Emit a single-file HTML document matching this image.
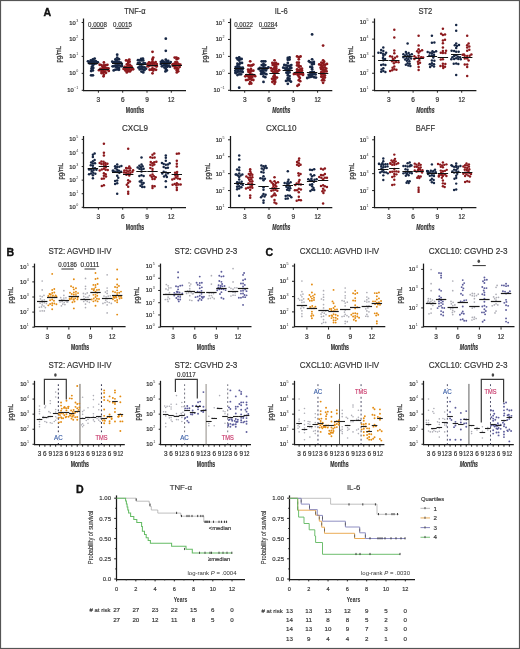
<!DOCTYPE html>
<html><head><meta charset="utf-8"><style>
html,body{margin:0;padding:0;background:#fff;width:520px;height:649px;overflow:hidden;}
body{position:relative;font-family:"Liberation Sans",sans-serif;}
svg{filter:blur(0.3px);}
</style></head><body>
<svg width="520" height="649" viewBox="0 0 520 649" style="position:absolute;left:0;top:0;font-family:'Liberation Sans',sans-serif">
<rect x="0" y="0" width="520" height="649" fill="#fff"/>
<text x="43.60" y="15.60" font-size="10.6" text-anchor="start" fill="#111" font-weight="bold" stroke="#111" stroke-width="0.35">A</text>
<text x="6.50" y="255.90" font-size="10.6" text-anchor="start" fill="#111" font-weight="bold" stroke="#111" stroke-width="0.35">B</text>
<text x="265.60" y="255.50" font-size="10.6" text-anchor="start" fill="#111" font-weight="bold" stroke="#111" stroke-width="0.35">C</text>
<text x="76.00" y="492.80" font-size="10.6" text-anchor="start" fill="#111" font-weight="bold" stroke="#111" stroke-width="0.35">D</text>
<line x1="83.50" y1="18.50" x2="83.50" y2="91.10" stroke="#1a1a1a" stroke-width="1.25" />
<line x1="82.90" y1="90.50" x2="186.00" y2="90.50" stroke="#1a1a1a" stroke-width="1.25" />
<line x1="81.70" y1="22.50" x2="84.00" y2="22.50" stroke="#222" stroke-width="1.0" />
<text x="75.80" y="24.50" font-size="5.8" text-anchor="end" fill="#333" stroke="#333" stroke-width="0.24">10</text>
<text x="76.20" y="21.50" font-size="3.6" text-anchor="start" fill="#333">3</text>
<line x1="81.70" y1="39.45" x2="84.00" y2="39.45" stroke="#222" stroke-width="1.0" />
<text x="75.80" y="41.45" font-size="5.8" text-anchor="end" fill="#333" stroke="#333" stroke-width="0.24">10</text>
<text x="76.20" y="38.45" font-size="3.6" text-anchor="start" fill="#333">2</text>
<line x1="81.70" y1="56.40" x2="84.00" y2="56.40" stroke="#222" stroke-width="1.0" />
<text x="75.80" y="58.40" font-size="5.8" text-anchor="end" fill="#333" stroke="#333" stroke-width="0.24">10</text>
<text x="76.20" y="55.40" font-size="3.6" text-anchor="start" fill="#333">1</text>
<line x1="81.70" y1="73.35" x2="84.00" y2="73.35" stroke="#222" stroke-width="1.0" />
<text x="75.80" y="75.35" font-size="5.8" text-anchor="end" fill="#333" stroke="#333" stroke-width="0.24">10</text>
<text x="76.20" y="72.35" font-size="3.6" text-anchor="start" fill="#333">0</text>
<line x1="81.70" y1="90.30" x2="84.00" y2="90.30" stroke="#222" stroke-width="1.0" />
<text x="73.70" y="92.30" font-size="5.8" text-anchor="end" fill="#333" stroke="#333" stroke-width="0.24">10</text>
<text x="74.10" y="89.30" font-size="3.6" text-anchor="start" fill="#333">−1</text>
<line x1="98.40" y1="90.30" x2="98.40" y2="92.70" stroke="#222" stroke-width="1.0" />
<text x="98.40" y="101.60" font-size="6.5" text-anchor="middle" fill="#333" stroke="#333" stroke-width="0.22">3</text>
<line x1="122.70" y1="90.30" x2="122.70" y2="92.70" stroke="#222" stroke-width="1.0" />
<text x="122.70" y="101.60" font-size="6.5" text-anchor="middle" fill="#333" stroke="#333" stroke-width="0.22">6</text>
<line x1="147.00" y1="90.30" x2="147.00" y2="92.70" stroke="#222" stroke-width="1.0" />
<text x="147.00" y="101.60" font-size="6.5" text-anchor="middle" fill="#333" stroke="#333" stroke-width="0.22">9</text>
<line x1="171.30" y1="90.30" x2="171.30" y2="92.70" stroke="#222" stroke-width="1.0" />
<text x="171.30" y="101.60" font-size="6.5" text-anchor="middle" fill="#333" textLength="6.4" lengthAdjust="spacingAndGlyphs" stroke="#333" stroke-width="0.22">12</text>
<text x="135.00" y="13.60" font-size="8.8" text-anchor="middle" fill="#333" textLength="21.4" lengthAdjust="spacingAndGlyphs" stroke="#333" stroke-width="0.18">TNF-α</text>
<text x="135.00" y="113.10" font-size="8.6" text-anchor="middle" fill="#333" font-weight="bold" textLength="18.3" lengthAdjust="spacingAndGlyphs" stroke="#333" stroke-width="0.2">Months</text>
<text x="0" y="0" font-size="7.9" text-anchor="middle" fill="#333" stroke="#333" stroke-width="0.25" textLength="16.6" lengthAdjust="spacingAndGlyphs" transform="translate(61.40,54.20) rotate(-90)">pg/mL</text>
<circle cx="92.90" cy="63.80" r="1.4" fill="#172745"/>
<circle cx="94.65" cy="63.78" r="1.4" fill="#172745"/>
<circle cx="91.15" cy="63.50" r="1.4" fill="#172745"/>
<circle cx="96.40" cy="63.29" r="1.4" fill="#172745"/>
<circle cx="89.40" cy="63.21" r="1.4" fill="#172745"/>
<circle cx="89.55" cy="63.04" r="1.4" fill="#172745"/>
<circle cx="92.38" cy="62.97" r="1.4" fill="#172745"/>
<circle cx="93.31" cy="62.92" r="1.4" fill="#172745"/>
<circle cx="89.42" cy="62.61" r="1.4" fill="#172745"/>
<circle cx="94.09" cy="62.54" r="1.4" fill="#172745"/>
<circle cx="89.31" cy="62.50" r="1.4" fill="#172745"/>
<circle cx="97.80" cy="62.30" r="1.4" fill="#172745"/>
<circle cx="90.45" cy="62.24" r="1.4" fill="#172745"/>
<circle cx="96.96" cy="62.24" r="1.4" fill="#172745"/>
<circle cx="92.90" cy="65.54" r="1.4" fill="#172745"/>
<circle cx="94.00" cy="61.50" r="1.4" fill="#172745"/>
<circle cx="88.00" cy="61.32" r="1.4" fill="#172745"/>
<circle cx="92.20" cy="61.24" r="1.4" fill="#172745"/>
<circle cx="95.70" cy="61.08" r="1.4" fill="#172745"/>
<circle cx="91.85" cy="66.98" r="1.4" fill="#172745"/>
<circle cx="90.80" cy="60.28" r="1.4" fill="#172745"/>
<circle cx="93.25" cy="67.95" r="1.4" fill="#172745"/>
<circle cx="92.90" cy="59.34" r="1.4" fill="#172745"/>
<circle cx="91.50" cy="68.79" r="1.4" fill="#172745"/>
<circle cx="94.65" cy="58.60" r="1.4" fill="#172745"/>
<circle cx="92.90" cy="70.39" r="1.4" fill="#172745"/>
<circle cx="91.15" cy="71.09" r="1.4" fill="#172745"/>
<circle cx="92.90" cy="75.30" r="1.4" fill="#172745"/>
<circle cx="91.15" cy="75.30" r="1.4" fill="#172745"/>
<circle cx="103.90" cy="68.99" r="1.4" fill="#8c191d"/>
<circle cx="102.15" cy="68.98" r="1.4" fill="#8c191d"/>
<circle cx="105.65" cy="69.54" r="1.4" fill="#8c191d"/>
<circle cx="100.40" cy="68.86" r="1.4" fill="#8c191d"/>
<circle cx="107.40" cy="69.72" r="1.4" fill="#8c191d"/>
<circle cx="108.45" cy="68.28" r="1.4" fill="#8c191d"/>
<circle cx="103.09" cy="68.23" r="1.4" fill="#8c191d"/>
<circle cx="99.00" cy="70.17" r="1.4" fill="#8c191d"/>
<circle cx="106.70" cy="68.04" r="1.4" fill="#8c191d"/>
<circle cx="103.20" cy="70.54" r="1.4" fill="#8c191d"/>
<circle cx="101.45" cy="70.88" r="1.4" fill="#8c191d"/>
<circle cx="108.80" cy="70.90" r="1.4" fill="#8c191d"/>
<circle cx="104.95" cy="67.48" r="1.4" fill="#8c191d"/>
<circle cx="104.60" cy="71.71" r="1.4" fill="#8c191d"/>
<circle cx="102.50" cy="66.57" r="1.4" fill="#8c191d"/>
<circle cx="103.20" cy="72.69" r="1.4" fill="#8c191d"/>
<circle cx="106.00" cy="72.73" r="1.4" fill="#8c191d"/>
<circle cx="103.90" cy="65.39" r="1.4" fill="#8c191d"/>
<circle cx="101.45" cy="73.10" r="1.4" fill="#8c191d"/>
<circle cx="105.65" cy="65.13" r="1.4" fill="#8c191d"/>
<circle cx="101.45" cy="65.10" r="1.4" fill="#8c191d"/>
<circle cx="107.40" cy="64.87" r="1.4" fill="#8c191d"/>
<circle cx="99.70" cy="64.75" r="1.4" fill="#8c191d"/>
<circle cx="103.90" cy="74.64" r="1.4" fill="#8c191d"/>
<circle cx="103.90" cy="62.50" r="1.4" fill="#8c191d"/>
<circle cx="103.55" cy="76.30" r="1.4" fill="#8c191d"/>
<line x1="87.70" y1="63.50" x2="98.10" y2="63.50" stroke="#111" stroke-width="1.0" />
<line x1="98.70" y1="69.50" x2="109.10" y2="69.50" stroke="#111" stroke-width="1.0" />
<circle cx="117.20" cy="63.03" r="1.4" fill="#172745"/>
<circle cx="115.45" cy="63.34" r="1.4" fill="#172745"/>
<circle cx="118.95" cy="63.49" r="1.4" fill="#172745"/>
<circle cx="113.70" cy="62.65" r="1.4" fill="#172745"/>
<circle cx="120.70" cy="62.56" r="1.4" fill="#172745"/>
<circle cx="117.18" cy="62.35" r="1.4" fill="#172745"/>
<circle cx="114.09" cy="62.34" r="1.4" fill="#172745"/>
<circle cx="121.75" cy="63.95" r="1.4" fill="#172745"/>
<circle cx="115.50" cy="61.90" r="1.4" fill="#172745"/>
<circle cx="118.95" cy="61.78" r="1.4" fill="#172745"/>
<circle cx="116.51" cy="61.74" r="1.4" fill="#172745"/>
<circle cx="112.30" cy="61.65" r="1.4" fill="#172745"/>
<circle cx="115.44" cy="61.64" r="1.4" fill="#172745"/>
<circle cx="117.20" cy="65.50" r="1.4" fill="#172745"/>
<circle cx="118.95" cy="65.54" r="1.4" fill="#172745"/>
<circle cx="115.45" cy="65.61" r="1.4" fill="#172745"/>
<circle cx="120.70" cy="66.01" r="1.4" fill="#172745"/>
<circle cx="113.70" cy="66.12" r="1.4" fill="#172745"/>
<circle cx="121.92" cy="66.21" r="1.4" fill="#172745"/>
<circle cx="112.66" cy="66.28" r="1.4" fill="#172745"/>
<circle cx="117.20" cy="59.63" r="1.4" fill="#172745"/>
<circle cx="115.60" cy="66.63" r="1.4" fill="#172745"/>
<circle cx="115.45" cy="59.32" r="1.4" fill="#172745"/>
<circle cx="118.95" cy="59.13" r="1.4" fill="#172745"/>
<circle cx="117.20" cy="67.26" r="1.4" fill="#172745"/>
<circle cx="118.95" cy="68.06" r="1.4" fill="#172745"/>
<circle cx="117.20" cy="57.60" r="1.4" fill="#172745"/>
<circle cx="117.20" cy="69.39" r="1.4" fill="#172745"/>
<circle cx="115.45" cy="69.68" r="1.4" fill="#172745"/>
<circle cx="118.95" cy="69.86" r="1.4" fill="#172745"/>
<circle cx="113.70" cy="70.40" r="1.4" fill="#172745"/>
<circle cx="117.20" cy="54.70" r="1.4" fill="#172745"/>
<circle cx="128.20" cy="67.68" r="1.4" fill="#8c191d"/>
<circle cx="129.95" cy="67.29" r="1.4" fill="#8c191d"/>
<circle cx="126.45" cy="67.16" r="1.4" fill="#8c191d"/>
<circle cx="124.70" cy="66.96" r="1.4" fill="#8c191d"/>
<circle cx="131.70" cy="68.20" r="1.4" fill="#8c191d"/>
<circle cx="125.40" cy="68.55" r="1.4" fill="#8c191d"/>
<circle cx="131.35" cy="66.34" r="1.4" fill="#8c191d"/>
<circle cx="123.65" cy="68.90" r="1.4" fill="#8c191d"/>
<circle cx="127.15" cy="69.13" r="1.4" fill="#8c191d"/>
<circle cx="129.25" cy="69.13" r="1.4" fill="#8c191d"/>
<circle cx="133.10" cy="69.26" r="1.4" fill="#8c191d"/>
<circle cx="126.96" cy="69.37" r="1.4" fill="#8c191d"/>
<circle cx="127.45" cy="69.46" r="1.4" fill="#8c191d"/>
<circle cx="128.20" cy="65.42" r="1.4" fill="#8c191d"/>
<circle cx="131.00" cy="70.00" r="1.4" fill="#8c191d"/>
<circle cx="129.95" cy="64.81" r="1.4" fill="#8c191d"/>
<circle cx="125.40" cy="70.50" r="1.4" fill="#8c191d"/>
<circle cx="126.80" cy="64.41" r="1.4" fill="#8c191d"/>
<circle cx="128.20" cy="71.22" r="1.4" fill="#8c191d"/>
<circle cx="129.95" cy="71.45" r="1.4" fill="#8c191d"/>
<circle cx="128.20" cy="62.89" r="1.4" fill="#8c191d"/>
<circle cx="126.80" cy="72.40" r="1.4" fill="#8c191d"/>
<circle cx="129.60" cy="61.71" r="1.4" fill="#8c191d"/>
<circle cx="127.85" cy="60.84" r="1.4" fill="#8c191d"/>
<circle cx="126.10" cy="60.46" r="1.4" fill="#8c191d"/>
<circle cx="129.25" cy="59.60" r="1.4" fill="#8c191d"/>
<line x1="112.00" y1="63.50" x2="122.40" y2="63.50" stroke="#111" stroke-width="1.0" />
<line x1="123.00" y1="67.50" x2="133.40" y2="67.50" stroke="#111" stroke-width="1.0" />
<circle cx="141.50" cy="64.20" r="1.4" fill="#172745"/>
<circle cx="143.25" cy="64.15" r="1.4" fill="#172745"/>
<circle cx="139.75" cy="64.07" r="1.4" fill="#172745"/>
<circle cx="145.00" cy="63.36" r="1.4" fill="#172745"/>
<circle cx="138.00" cy="63.26" r="1.4" fill="#172745"/>
<circle cx="139.06" cy="63.12" r="1.4" fill="#172745"/>
<circle cx="143.60" cy="63.04" r="1.4" fill="#172745"/>
<circle cx="139.62" cy="62.89" r="1.4" fill="#172745"/>
<circle cx="141.50" cy="66.40" r="1.4" fill="#172745"/>
<circle cx="139.75" cy="66.57" r="1.4" fill="#172745"/>
<circle cx="142.90" cy="67.42" r="1.4" fill="#172745"/>
<circle cx="144.65" cy="67.51" r="1.4" fill="#172745"/>
<circle cx="138.35" cy="67.53" r="1.4" fill="#172745"/>
<circle cx="141.15" cy="68.33" r="1.4" fill="#172745"/>
<circle cx="141.50" cy="60.46" r="1.4" fill="#172745"/>
<circle cx="143.25" cy="60.43" r="1.4" fill="#172745"/>
<circle cx="139.75" cy="60.37" r="1.4" fill="#172745"/>
<circle cx="146.05" cy="68.64" r="1.4" fill="#172745"/>
<circle cx="138.00" cy="60.20" r="1.4" fill="#172745"/>
<circle cx="142.55" cy="69.32" r="1.4" fill="#172745"/>
<circle cx="139.75" cy="69.44" r="1.4" fill="#172745"/>
<circle cx="144.30" cy="70.17" r="1.4" fill="#172745"/>
<circle cx="141.15" cy="58.78" r="1.4" fill="#172745"/>
<circle cx="142.90" cy="58.60" r="1.4" fill="#172745"/>
<circle cx="141.50" cy="71.62" r="1.4" fill="#172745"/>
<circle cx="143.25" cy="72.40" r="1.4" fill="#172745"/>
<circle cx="152.50" cy="65.44" r="1.4" fill="#8c191d"/>
<circle cx="154.25" cy="65.37" r="1.4" fill="#8c191d"/>
<circle cx="150.75" cy="65.30" r="1.4" fill="#8c191d"/>
<circle cx="156.00" cy="65.73" r="1.4" fill="#8c191d"/>
<circle cx="149.00" cy="65.26" r="1.4" fill="#8c191d"/>
<circle cx="156.78" cy="66.00" r="1.4" fill="#8c191d"/>
<circle cx="155.94" cy="66.08" r="1.4" fill="#8c191d"/>
<circle cx="147.60" cy="66.22" r="1.4" fill="#8c191d"/>
<circle cx="156.63" cy="66.26" r="1.4" fill="#8c191d"/>
<circle cx="148.48" cy="66.32" r="1.4" fill="#8c191d"/>
<circle cx="149.84" cy="64.67" r="1.4" fill="#8c191d"/>
<circle cx="156.70" cy="64.10" r="1.4" fill="#8c191d"/>
<circle cx="147.60" cy="64.02" r="1.4" fill="#8c191d"/>
<circle cx="152.50" cy="63.35" r="1.4" fill="#8c191d"/>
<circle cx="154.25" cy="63.19" r="1.4" fill="#8c191d"/>
<circle cx="150.75" cy="62.82" r="1.4" fill="#8c191d"/>
<circle cx="152.50" cy="68.30" r="1.4" fill="#8c191d"/>
<circle cx="149.00" cy="62.40" r="1.4" fill="#8c191d"/>
<circle cx="155.65" cy="62.07" r="1.4" fill="#8c191d"/>
<circle cx="154.25" cy="69.04" r="1.4" fill="#8c191d"/>
<circle cx="152.50" cy="61.40" r="1.4" fill="#8c191d"/>
<circle cx="151.45" cy="69.66" r="1.4" fill="#8c191d"/>
<circle cx="149.70" cy="69.77" r="1.4" fill="#8c191d"/>
<circle cx="156.00" cy="69.79" r="1.4" fill="#8c191d"/>
<circle cx="153.20" cy="70.48" r="1.4" fill="#8c191d"/>
<circle cx="152.50" cy="59.23" r="1.4" fill="#8c191d"/>
<circle cx="152.50" cy="73.30" r="1.4" fill="#8c191d"/>
<circle cx="153.20" cy="57.60" r="1.4" fill="#8c191d"/>
<circle cx="152.50" cy="51.80" r="1.4" fill="#8c191d"/>
<line x1="136.30" y1="64.50" x2="146.70" y2="64.50" stroke="#111" stroke-width="1.0" />
<line x1="147.30" y1="65.50" x2="157.70" y2="65.50" stroke="#111" stroke-width="1.0" />
<circle cx="165.80" cy="63.04" r="1.4" fill="#172745"/>
<circle cx="167.55" cy="63.02" r="1.4" fill="#172745"/>
<circle cx="164.05" cy="62.96" r="1.4" fill="#172745"/>
<circle cx="162.30" cy="62.94" r="1.4" fill="#172745"/>
<circle cx="169.30" cy="63.32" r="1.4" fill="#172745"/>
<circle cx="167.88" cy="62.61" r="1.4" fill="#172745"/>
<circle cx="166.05" cy="63.67" r="1.4" fill="#172745"/>
<circle cx="160.90" cy="63.88" r="1.4" fill="#172745"/>
<circle cx="170.70" cy="62.07" r="1.4" fill="#172745"/>
<circle cx="162.89" cy="62.05" r="1.4" fill="#172745"/>
<circle cx="160.90" cy="61.81" r="1.4" fill="#172745"/>
<circle cx="163.63" cy="61.59" r="1.4" fill="#172745"/>
<circle cx="166.50" cy="61.45" r="1.4" fill="#172745"/>
<circle cx="165.10" cy="65.08" r="1.4" fill="#172745"/>
<circle cx="168.25" cy="60.94" r="1.4" fill="#172745"/>
<circle cx="166.85" cy="65.28" r="1.4" fill="#172745"/>
<circle cx="163.35" cy="65.35" r="1.4" fill="#172745"/>
<circle cx="162.35" cy="60.67" r="1.4" fill="#172745"/>
<circle cx="168.60" cy="65.63" r="1.4" fill="#172745"/>
<circle cx="161.95" cy="66.37" r="1.4" fill="#172745"/>
<circle cx="165.80" cy="59.60" r="1.4" fill="#172745"/>
<circle cx="165.80" cy="66.61" r="1.4" fill="#172745"/>
<circle cx="170.00" cy="66.63" r="1.4" fill="#172745"/>
<circle cx="167.32" cy="66.73" r="1.4" fill="#172745"/>
<circle cx="164.40" cy="67.62" r="1.4" fill="#172745"/>
<circle cx="165.80" cy="68.98" r="1.4" fill="#172745"/>
<circle cx="166.85" cy="70.40" r="1.4" fill="#172745"/>
<circle cx="165.45" cy="71.40" r="1.4" fill="#172745"/>
<circle cx="165.80" cy="50.80" r="1.4" fill="#172745"/>
<circle cx="165.80" cy="38.70" r="1.4" fill="#172745"/>
<circle cx="176.80" cy="65.47" r="1.4" fill="#8c191d"/>
<circle cx="178.55" cy="65.43" r="1.4" fill="#8c191d"/>
<circle cx="175.05" cy="66.04" r="1.4" fill="#8c191d"/>
<circle cx="173.30" cy="66.07" r="1.4" fill="#8c191d"/>
<circle cx="180.30" cy="64.70" r="1.4" fill="#8c191d"/>
<circle cx="174.35" cy="64.51" r="1.4" fill="#8c191d"/>
<circle cx="172.60" cy="64.49" r="1.4" fill="#8c191d"/>
<circle cx="178.56" cy="64.11" r="1.4" fill="#8c191d"/>
<circle cx="179.60" cy="66.90" r="1.4" fill="#8c191d"/>
<circle cx="176.10" cy="63.91" r="1.4" fill="#8c191d"/>
<circle cx="174.02" cy="63.88" r="1.4" fill="#8c191d"/>
<circle cx="176.80" cy="67.90" r="1.4" fill="#8c191d"/>
<circle cx="175.05" cy="68.27" r="1.4" fill="#8c191d"/>
<circle cx="177.15" cy="62.49" r="1.4" fill="#8c191d"/>
<circle cx="178.20" cy="68.85" r="1.4" fill="#8c191d"/>
<circle cx="175.40" cy="62.05" r="1.4" fill="#8c191d"/>
<circle cx="176.80" cy="70.23" r="1.4" fill="#8c191d"/>
<circle cx="178.20" cy="71.34" r="1.4" fill="#8c191d"/>
<circle cx="176.80" cy="59.37" r="1.4" fill="#8c191d"/>
<circle cx="176.80" cy="72.40" r="1.4" fill="#8c191d"/>
<circle cx="178.20" cy="58.41" r="1.4" fill="#8c191d"/>
<circle cx="176.45" cy="57.67" r="1.4" fill="#8c191d"/>
<circle cx="174.70" cy="57.60" r="1.4" fill="#8c191d"/>
<line x1="160.60" y1="63.50" x2="171.00" y2="63.50" stroke="#111" stroke-width="1.0" />
<line x1="171.60" y1="65.50" x2="182.00" y2="65.50" stroke="#111" stroke-width="1.0" />
<text x="97.40" y="26.60" font-size="6.4" text-anchor="middle" fill="#333" textLength="18.8" lengthAdjust="spacingAndGlyphs"  stroke="#333" stroke-width="0.16">0.0008</text>
<line x1="90.40" y1="28.30" x2="104.40" y2="28.30" stroke="#333" stroke-width="1.0" />
<text x="122.40" y="26.60" font-size="6.4" text-anchor="middle" fill="#333" textLength="18.8" lengthAdjust="spacingAndGlyphs"  stroke="#333" stroke-width="0.16">0.0015</text>
<line x1="115.40" y1="28.30" x2="129.40" y2="28.30" stroke="#333" stroke-width="1.0" />
<line x1="230.50" y1="18.50" x2="230.50" y2="91.10" stroke="#1a1a1a" stroke-width="1.25" />
<line x1="229.90" y1="90.50" x2="332.30" y2="90.50" stroke="#1a1a1a" stroke-width="1.25" />
<line x1="228.00" y1="22.50" x2="230.30" y2="22.50" stroke="#222" stroke-width="1.0" />
<text x="222.10" y="24.50" font-size="5.8" text-anchor="end" fill="#333" stroke="#333" stroke-width="0.24">10</text>
<text x="222.50" y="21.50" font-size="3.6" text-anchor="start" fill="#333">3</text>
<line x1="228.00" y1="39.45" x2="230.30" y2="39.45" stroke="#222" stroke-width="1.0" />
<text x="222.10" y="41.45" font-size="5.8" text-anchor="end" fill="#333" stroke="#333" stroke-width="0.24">10</text>
<text x="222.50" y="38.45" font-size="3.6" text-anchor="start" fill="#333">2</text>
<line x1="228.00" y1="56.40" x2="230.30" y2="56.40" stroke="#222" stroke-width="1.0" />
<text x="222.10" y="58.40" font-size="5.8" text-anchor="end" fill="#333" stroke="#333" stroke-width="0.24">10</text>
<text x="222.50" y="55.40" font-size="3.6" text-anchor="start" fill="#333">1</text>
<line x1="228.00" y1="73.35" x2="230.30" y2="73.35" stroke="#222" stroke-width="1.0" />
<text x="222.10" y="75.35" font-size="5.8" text-anchor="end" fill="#333" stroke="#333" stroke-width="0.24">10</text>
<text x="222.50" y="72.35" font-size="3.6" text-anchor="start" fill="#333">0</text>
<line x1="228.00" y1="90.30" x2="230.30" y2="90.30" stroke="#222" stroke-width="1.0" />
<text x="220.00" y="92.30" font-size="5.8" text-anchor="end" fill="#333" stroke="#333" stroke-width="0.24">10</text>
<text x="220.40" y="89.30" font-size="3.6" text-anchor="start" fill="#333">−1</text>
<line x1="244.70" y1="90.30" x2="244.70" y2="92.70" stroke="#222" stroke-width="1.0" />
<text x="244.70" y="101.60" font-size="6.5" text-anchor="middle" fill="#333" stroke="#333" stroke-width="0.22">3</text>
<line x1="269.00" y1="90.30" x2="269.00" y2="92.70" stroke="#222" stroke-width="1.0" />
<text x="269.00" y="101.60" font-size="6.5" text-anchor="middle" fill="#333" stroke="#333" stroke-width="0.22">6</text>
<line x1="293.30" y1="90.30" x2="293.30" y2="92.70" stroke="#222" stroke-width="1.0" />
<text x="293.30" y="101.60" font-size="6.5" text-anchor="middle" fill="#333" stroke="#333" stroke-width="0.22">9</text>
<line x1="317.60" y1="90.30" x2="317.60" y2="92.70" stroke="#222" stroke-width="1.0" />
<text x="317.60" y="101.60" font-size="6.5" text-anchor="middle" fill="#333" textLength="6.4" lengthAdjust="spacingAndGlyphs" stroke="#333" stroke-width="0.22">12</text>
<text x="281.30" y="13.60" font-size="8.8" text-anchor="middle" fill="#333" textLength="13.1" lengthAdjust="spacingAndGlyphs" stroke="#333" stroke-width="0.18">IL-6</text>
<text x="281.30" y="113.10" font-size="8.6" text-anchor="middle" fill="#333" font-weight="bold" textLength="18.3" lengthAdjust="spacingAndGlyphs" stroke="#333" stroke-width="0.2" style="font-style:italic;">Months</text>
<text x="0" y="0" font-size="7.9" text-anchor="middle" fill="#333" stroke="#333" stroke-width="0.25" textLength="16.6" lengthAdjust="spacingAndGlyphs" transform="translate(207.40,54.20) rotate(-90)">pg/mL</text>
<circle cx="239.20" cy="68.57" r="1.4" fill="#172745"/>
<circle cx="237.45" cy="67.96" r="1.4" fill="#172745"/>
<circle cx="240.95" cy="67.93" r="1.4" fill="#172745"/>
<circle cx="236.40" cy="69.28" r="1.4" fill="#172745"/>
<circle cx="242.70" cy="67.61" r="1.4" fill="#172745"/>
<circle cx="240.60" cy="69.58" r="1.4" fill="#172745"/>
<circle cx="242.35" cy="69.61" r="1.4" fill="#172745"/>
<circle cx="235.70" cy="67.11" r="1.4" fill="#172745"/>
<circle cx="238.15" cy="70.08" r="1.4" fill="#172745"/>
<circle cx="239.20" cy="66.74" r="1.4" fill="#172745"/>
<circle cx="235.35" cy="70.72" r="1.4" fill="#172745"/>
<circle cx="237.45" cy="65.97" r="1.4" fill="#172745"/>
<circle cx="239.20" cy="71.53" r="1.4" fill="#172745"/>
<circle cx="240.95" cy="71.56" r="1.4" fill="#172745"/>
<circle cx="237.45" cy="72.00" r="1.4" fill="#172745"/>
<circle cx="242.70" cy="72.12" r="1.4" fill="#172745"/>
<circle cx="239.20" cy="64.34" r="1.4" fill="#172745"/>
<circle cx="235.70" cy="72.69" r="1.4" fill="#172745"/>
<circle cx="235.63" cy="73.01" r="1.4" fill="#172745"/>
<circle cx="237.45" cy="63.76" r="1.4" fill="#172745"/>
<circle cx="240.25" cy="62.96" r="1.4" fill="#172745"/>
<circle cx="242.00" cy="62.94" r="1.4" fill="#172745"/>
<circle cx="239.20" cy="74.31" r="1.4" fill="#172745"/>
<circle cx="240.95" cy="74.33" r="1.4" fill="#172745"/>
<circle cx="237.45" cy="75.00" r="1.4" fill="#172745"/>
<circle cx="239.20" cy="60.56" r="1.4" fill="#172745"/>
<circle cx="237.80" cy="59.43" r="1.4" fill="#172745"/>
<circle cx="239.90" cy="59.02" r="1.4" fill="#172745"/>
<circle cx="241.65" cy="58.99" r="1.4" fill="#172745"/>
<circle cx="236.75" cy="58.11" r="1.4" fill="#172745"/>
<circle cx="239.20" cy="57.40" r="1.4" fill="#172745"/>
<circle cx="239.20" cy="87.70" r="1.4" fill="#172745"/>
<circle cx="250.20" cy="74.23" r="1.4" fill="#8c191d"/>
<circle cx="251.95" cy="74.69" r="1.4" fill="#8c191d"/>
<circle cx="248.45" cy="75.04" r="1.4" fill="#8c191d"/>
<circle cx="246.70" cy="75.06" r="1.4" fill="#8c191d"/>
<circle cx="253.70" cy="75.18" r="1.4" fill="#8c191d"/>
<circle cx="249.96" cy="75.74" r="1.4" fill="#8c191d"/>
<circle cx="247.57" cy="75.89" r="1.4" fill="#8c191d"/>
<circle cx="250.20" cy="72.08" r="1.4" fill="#8c191d"/>
<circle cx="250.79" cy="75.93" r="1.4" fill="#8c191d"/>
<circle cx="255.10" cy="76.16" r="1.4" fill="#8c191d"/>
<circle cx="248.45" cy="71.74" r="1.4" fill="#8c191d"/>
<circle cx="245.30" cy="76.29" r="1.4" fill="#8c191d"/>
<circle cx="251.60" cy="71.02" r="1.4" fill="#8c191d"/>
<circle cx="252.30" cy="76.98" r="1.4" fill="#8c191d"/>
<circle cx="249.15" cy="77.26" r="1.4" fill="#8c191d"/>
<circle cx="253.35" cy="70.70" r="1.4" fill="#8c191d"/>
<circle cx="249.85" cy="70.34" r="1.4" fill="#8c191d"/>
<circle cx="250.90" cy="78.15" r="1.4" fill="#8c191d"/>
<circle cx="248.10" cy="69.66" r="1.4" fill="#8c191d"/>
<circle cx="250.90" cy="68.92" r="1.4" fill="#8c191d"/>
<circle cx="249.50" cy="79.20" r="1.4" fill="#8c191d"/>
<circle cx="251.60" cy="79.78" r="1.4" fill="#8c191d"/>
<circle cx="247.75" cy="79.80" r="1.4" fill="#8c191d"/>
<circle cx="253.35" cy="80.02" r="1.4" fill="#8c191d"/>
<circle cx="246.00" cy="80.05" r="1.4" fill="#8c191d"/>
<circle cx="250.20" cy="82.04" r="1.4" fill="#8c191d"/>
<circle cx="250.20" cy="65.57" r="1.4" fill="#8c191d"/>
<circle cx="251.95" cy="65.52" r="1.4" fill="#8c191d"/>
<circle cx="248.45" cy="65.39" r="1.4" fill="#8c191d"/>
<circle cx="253.35" cy="64.58" r="1.4" fill="#8c191d"/>
<circle cx="251.25" cy="83.50" r="1.4" fill="#8c191d"/>
<circle cx="249.50" cy="83.80" r="1.4" fill="#8c191d"/>
<circle cx="250.20" cy="61.30" r="1.4" fill="#8c191d"/>
<line x1="234.00" y1="68.50" x2="244.40" y2="68.50" stroke="#111" stroke-width="1.0" />
<line x1="245.00" y1="74.50" x2="255.40" y2="74.50" stroke="#111" stroke-width="1.0" />
<circle cx="263.50" cy="67.99" r="1.4" fill="#172745"/>
<circle cx="265.25" cy="68.25" r="1.4" fill="#172745"/>
<circle cx="261.75" cy="68.34" r="1.4" fill="#172745"/>
<circle cx="260.00" cy="67.81" r="1.4" fill="#172745"/>
<circle cx="267.00" cy="68.42" r="1.4" fill="#172745"/>
<circle cx="268.40" cy="67.28" r="1.4" fill="#172745"/>
<circle cx="258.60" cy="68.93" r="1.4" fill="#172745"/>
<circle cx="259.33" cy="69.04" r="1.4" fill="#172745"/>
<circle cx="264.20" cy="69.56" r="1.4" fill="#172745"/>
<circle cx="262.45" cy="70.24" r="1.4" fill="#172745"/>
<circle cx="263.50" cy="65.89" r="1.4" fill="#172745"/>
<circle cx="265.95" cy="70.39" r="1.4" fill="#172745"/>
<circle cx="260.70" cy="70.90" r="1.4" fill="#172745"/>
<circle cx="261.75" cy="65.11" r="1.4" fill="#172745"/>
<circle cx="265.25" cy="65.11" r="1.4" fill="#172745"/>
<circle cx="263.50" cy="71.91" r="1.4" fill="#172745"/>
<circle cx="261.75" cy="72.26" r="1.4" fill="#172745"/>
<circle cx="263.50" cy="63.79" r="1.4" fill="#172745"/>
<circle cx="264.55" cy="73.39" r="1.4" fill="#172745"/>
<circle cx="262.80" cy="73.64" r="1.4" fill="#172745"/>
<circle cx="261.05" cy="73.89" r="1.4" fill="#172745"/>
<circle cx="266.30" cy="74.16" r="1.4" fill="#172745"/>
<circle cx="263.50" cy="61.35" r="1.4" fill="#172745"/>
<circle cx="265.25" cy="61.32" r="1.4" fill="#172745"/>
<circle cx="261.75" cy="61.30" r="1.4" fill="#172745"/>
<circle cx="263.50" cy="76.41" r="1.4" fill="#172745"/>
<circle cx="265.25" cy="77.14" r="1.4" fill="#172745"/>
<circle cx="263.50" cy="81.90" r="1.4" fill="#172745"/>
<circle cx="274.50" cy="73.05" r="1.4" fill="#8c191d"/>
<circle cx="276.25" cy="72.56" r="1.4" fill="#8c191d"/>
<circle cx="273.10" cy="71.82" r="1.4" fill="#8c191d"/>
<circle cx="277.65" cy="71.48" r="1.4" fill="#8c191d"/>
<circle cx="274.85" cy="71.34" r="1.4" fill="#8c191d"/>
<circle cx="271.70" cy="70.84" r="1.4" fill="#8c191d"/>
<circle cx="274.50" cy="75.22" r="1.4" fill="#8c191d"/>
<circle cx="276.25" cy="70.39" r="1.4" fill="#8c191d"/>
<circle cx="279.05" cy="70.24" r="1.4" fill="#8c191d"/>
<circle cx="274.50" cy="69.40" r="1.4" fill="#8c191d"/>
<circle cx="273.45" cy="76.64" r="1.4" fill="#8c191d"/>
<circle cx="272.75" cy="69.08" r="1.4" fill="#8c191d"/>
<circle cx="275.20" cy="77.25" r="1.4" fill="#8c191d"/>
<circle cx="276.25" cy="68.58" r="1.4" fill="#8c191d"/>
<circle cx="276.95" cy="77.57" r="1.4" fill="#8c191d"/>
<circle cx="271.00" cy="68.20" r="1.4" fill="#8c191d"/>
<circle cx="273.80" cy="78.51" r="1.4" fill="#8c191d"/>
<circle cx="274.50" cy="67.16" r="1.4" fill="#8c191d"/>
<circle cx="272.05" cy="78.85" r="1.4" fill="#8c191d"/>
<circle cx="276.25" cy="66.63" r="1.4" fill="#8c191d"/>
<circle cx="275.20" cy="79.51" r="1.4" fill="#8c191d"/>
<circle cx="273.80" cy="80.73" r="1.4" fill="#8c191d"/>
<circle cx="274.50" cy="65.01" r="1.4" fill="#8c191d"/>
<circle cx="272.75" cy="64.90" r="1.4" fill="#8c191d"/>
<circle cx="276.25" cy="64.52" r="1.4" fill="#8c191d"/>
<circle cx="275.20" cy="81.95" r="1.4" fill="#8c191d"/>
<circle cx="278.00" cy="64.03" r="1.4" fill="#8c191d"/>
<circle cx="272.40" cy="81.99" r="1.4" fill="#8c191d"/>
<circle cx="274.15" cy="63.34" r="1.4" fill="#8c191d"/>
<circle cx="272.40" cy="62.90" r="1.4" fill="#8c191d"/>
<circle cx="275.90" cy="62.85" r="1.4" fill="#8c191d"/>
<circle cx="274.50" cy="83.80" r="1.4" fill="#8c191d"/>
<circle cx="274.50" cy="60.30" r="1.4" fill="#8c191d"/>
<line x1="258.30" y1="68.50" x2="268.70" y2="68.50" stroke="#111" stroke-width="1.0" />
<line x1="269.30" y1="73.50" x2="279.70" y2="73.50" stroke="#111" stroke-width="1.0" />
<circle cx="287.80" cy="69.77" r="1.4" fill="#172745"/>
<circle cx="286.05" cy="69.76" r="1.4" fill="#172745"/>
<circle cx="289.55" cy="68.88" r="1.4" fill="#172745"/>
<circle cx="287.80" cy="71.67" r="1.4" fill="#172745"/>
<circle cx="285.00" cy="68.45" r="1.4" fill="#172745"/>
<circle cx="287.10" cy="68.19" r="1.4" fill="#172745"/>
<circle cx="291.30" cy="67.99" r="1.4" fill="#172745"/>
<circle cx="289.55" cy="72.46" r="1.4" fill="#172745"/>
<circle cx="283.25" cy="67.71" r="1.4" fill="#172745"/>
<circle cx="286.40" cy="72.71" r="1.4" fill="#172745"/>
<circle cx="290.18" cy="67.47" r="1.4" fill="#172745"/>
<circle cx="287.80" cy="73.68" r="1.4" fill="#172745"/>
<circle cx="287.80" cy="65.82" r="1.4" fill="#172745"/>
<circle cx="289.55" cy="65.79" r="1.4" fill="#172745"/>
<circle cx="286.05" cy="65.51" r="1.4" fill="#172745"/>
<circle cx="291.30" cy="65.11" r="1.4" fill="#172745"/>
<circle cx="284.30" cy="65.00" r="1.4" fill="#172745"/>
<circle cx="287.80" cy="75.45" r="1.4" fill="#172745"/>
<circle cx="289.55" cy="76.12" r="1.4" fill="#172745"/>
<circle cx="287.80" cy="63.00" r="1.4" fill="#172745"/>
<circle cx="287.80" cy="78.24" r="1.4" fill="#172745"/>
<circle cx="289.55" cy="78.63" r="1.4" fill="#172745"/>
<circle cx="287.80" cy="80.24" r="1.4" fill="#172745"/>
<circle cx="287.80" cy="59.74" r="1.4" fill="#172745"/>
<circle cx="289.55" cy="80.54" r="1.4" fill="#172745"/>
<circle cx="289.55" cy="59.51" r="1.4" fill="#172745"/>
<circle cx="286.05" cy="80.94" r="1.4" fill="#172745"/>
<circle cx="290.95" cy="81.72" r="1.4" fill="#172745"/>
<circle cx="287.80" cy="58.01" r="1.4" fill="#172745"/>
<circle cx="289.55" cy="57.40" r="1.4" fill="#172745"/>
<circle cx="287.80" cy="83.80" r="1.4" fill="#172745"/>
<circle cx="298.80" cy="72.02" r="1.4" fill="#8c191d"/>
<circle cx="300.55" cy="71.67" r="1.4" fill="#8c191d"/>
<circle cx="297.05" cy="71.59" r="1.4" fill="#8c191d"/>
<circle cx="301.95" cy="72.61" r="1.4" fill="#8c191d"/>
<circle cx="297.40" cy="73.25" r="1.4" fill="#8c191d"/>
<circle cx="301.95" cy="70.59" r="1.4" fill="#8c191d"/>
<circle cx="298.80" cy="70.33" r="1.4" fill="#8c191d"/>
<circle cx="299.15" cy="73.73" r="1.4" fill="#8c191d"/>
<circle cx="295.65" cy="73.84" r="1.4" fill="#8c191d"/>
<circle cx="300.90" cy="74.01" r="1.4" fill="#8c191d"/>
<circle cx="303.00" cy="74.04" r="1.4" fill="#8c191d"/>
<circle cx="293.90" cy="74.04" r="1.4" fill="#8c191d"/>
<circle cx="297.05" cy="69.41" r="1.4" fill="#8c191d"/>
<circle cx="300.20" cy="69.36" r="1.4" fill="#8c191d"/>
<circle cx="297.75" cy="74.89" r="1.4" fill="#8c191d"/>
<circle cx="302.97" cy="74.92" r="1.4" fill="#8c191d"/>
<circle cx="301.95" cy="68.66" r="1.4" fill="#8c191d"/>
<circle cx="298.80" cy="76.49" r="1.4" fill="#8c191d"/>
<circle cx="298.80" cy="67.11" r="1.4" fill="#8c191d"/>
<circle cx="300.55" cy="66.34" r="1.4" fill="#8c191d"/>
<circle cx="299.85" cy="77.98" r="1.4" fill="#8c191d"/>
<circle cx="298.80" cy="65.41" r="1.4" fill="#8c191d"/>
<circle cx="297.05" cy="65.40" r="1.4" fill="#8c191d"/>
<circle cx="298.80" cy="80.15" r="1.4" fill="#8c191d"/>
<circle cx="300.20" cy="81.13" r="1.4" fill="#8c191d"/>
<circle cx="298.80" cy="62.72" r="1.4" fill="#8c191d"/>
<circle cx="297.05" cy="62.70" r="1.4" fill="#8c191d"/>
<circle cx="298.80" cy="59.34" r="1.4" fill="#8c191d"/>
<circle cx="298.80" cy="84.77" r="1.4" fill="#8c191d"/>
<circle cx="297.40" cy="85.80" r="1.4" fill="#8c191d"/>
<circle cx="298.80" cy="57.23" r="1.4" fill="#8c191d"/>
<circle cx="300.55" cy="56.51" r="1.4" fill="#8c191d"/>
<circle cx="297.05" cy="56.40" r="1.4" fill="#8c191d"/>
<line x1="282.60" y1="70.50" x2="293.00" y2="70.50" stroke="#111" stroke-width="1.0" />
<line x1="293.60" y1="72.50" x2="304.00" y2="72.50" stroke="#111" stroke-width="1.0" />
<circle cx="312.10" cy="72.01" r="1.4" fill="#172745"/>
<circle cx="313.85" cy="72.09" r="1.4" fill="#172745"/>
<circle cx="310.35" cy="72.42" r="1.4" fill="#172745"/>
<circle cx="312.10" cy="73.90" r="1.4" fill="#172745"/>
<circle cx="313.85" cy="73.98" r="1.4" fill="#172745"/>
<circle cx="310.35" cy="74.35" r="1.4" fill="#172745"/>
<circle cx="315.60" cy="74.47" r="1.4" fill="#172745"/>
<circle cx="312.10" cy="69.24" r="1.4" fill="#172745"/>
<circle cx="308.60" cy="74.87" r="1.4" fill="#172745"/>
<circle cx="311.21" cy="75.08" r="1.4" fill="#172745"/>
<circle cx="310.14" cy="75.14" r="1.4" fill="#172745"/>
<circle cx="312.45" cy="76.39" r="1.4" fill="#172745"/>
<circle cx="312.10" cy="67.50" r="1.4" fill="#172745"/>
<circle cx="310.70" cy="76.95" r="1.4" fill="#172745"/>
<circle cx="310.35" cy="66.92" r="1.4" fill="#172745"/>
<circle cx="314.20" cy="77.27" r="1.4" fill="#172745"/>
<circle cx="308.95" cy="77.37" r="1.4" fill="#172745"/>
<circle cx="315.95" cy="77.60" r="1.4" fill="#172745"/>
<circle cx="307.20" cy="78.00" r="1.4" fill="#172745"/>
<circle cx="312.10" cy="64.53" r="1.4" fill="#172745"/>
<circle cx="313.85" cy="63.88" r="1.4" fill="#172745"/>
<circle cx="312.10" cy="62.73" r="1.4" fill="#172745"/>
<circle cx="310.35" cy="62.37" r="1.4" fill="#172745"/>
<circle cx="313.85" cy="61.97" r="1.4" fill="#172745"/>
<circle cx="308.95" cy="61.23" r="1.4" fill="#172745"/>
<circle cx="312.10" cy="59.30" r="1.4" fill="#172745"/>
<circle cx="312.10" cy="34.40" r="1.4" fill="#172745"/>
<circle cx="323.10" cy="72.34" r="1.4" fill="#8c191d"/>
<circle cx="321.35" cy="72.25" r="1.4" fill="#8c191d"/>
<circle cx="323.10" cy="74.41" r="1.4" fill="#8c191d"/>
<circle cx="324.85" cy="71.56" r="1.4" fill="#8c191d"/>
<circle cx="326.60" cy="71.46" r="1.4" fill="#8c191d"/>
<circle cx="321.35" cy="74.59" r="1.4" fill="#8c191d"/>
<circle cx="324.85" cy="75.30" r="1.4" fill="#8c191d"/>
<circle cx="323.10" cy="70.05" r="1.4" fill="#8c191d"/>
<circle cx="324.85" cy="69.83" r="1.4" fill="#8c191d"/>
<circle cx="323.10" cy="76.66" r="1.4" fill="#8c191d"/>
<circle cx="321.35" cy="76.73" r="1.4" fill="#8c191d"/>
<circle cx="321.35" cy="69.27" r="1.4" fill="#8c191d"/>
<circle cx="326.25" cy="68.60" r="1.4" fill="#8c191d"/>
<circle cx="324.85" cy="77.50" r="1.4" fill="#8c191d"/>
<circle cx="323.10" cy="67.82" r="1.4" fill="#8c191d"/>
<circle cx="320.65" cy="67.69" r="1.4" fill="#8c191d"/>
<circle cx="324.85" cy="67.41" r="1.4" fill="#8c191d"/>
<circle cx="323.10" cy="78.85" r="1.4" fill="#8c191d"/>
<circle cx="322.05" cy="66.36" r="1.4" fill="#8c191d"/>
<circle cx="322.05" cy="80.32" r="1.4" fill="#8c191d"/>
<circle cx="324.15" cy="80.33" r="1.4" fill="#8c191d"/>
<circle cx="323.45" cy="65.05" r="1.4" fill="#8c191d"/>
<circle cx="321.00" cy="65.03" r="1.4" fill="#8c191d"/>
<circle cx="325.20" cy="64.77" r="1.4" fill="#8c191d"/>
<circle cx="319.25" cy="64.43" r="1.4" fill="#8c191d"/>
<circle cx="326.95" cy="63.96" r="1.4" fill="#8c191d"/>
<circle cx="323.10" cy="82.80" r="1.4" fill="#8c191d"/>
<circle cx="323.10" cy="63.19" r="1.4" fill="#8c191d"/>
<circle cx="321.35" cy="62.72" r="1.4" fill="#8c191d"/>
<circle cx="324.15" cy="61.74" r="1.4" fill="#8c191d"/>
<circle cx="323.10" cy="60.30" r="1.4" fill="#8c191d"/>
<circle cx="323.10" cy="45.60" r="1.4" fill="#8c191d"/>
<line x1="306.90" y1="72.50" x2="317.30" y2="72.50" stroke="#111" stroke-width="1.0" />
<line x1="317.90" y1="73.50" x2="328.30" y2="73.50" stroke="#111" stroke-width="1.0" />
<text x="243.60" y="26.60" font-size="6.4" text-anchor="middle" fill="#333" textLength="18.8" lengthAdjust="spacingAndGlyphs"  stroke="#333" stroke-width="0.16">0.0022</text>
<line x1="236.60" y1="28.30" x2="250.60" y2="28.30" stroke="#333" stroke-width="1.0" />
<text x="268.20" y="26.60" font-size="6.4" text-anchor="middle" fill="#333" textLength="18.8" lengthAdjust="spacingAndGlyphs"  stroke="#333" stroke-width="0.16">0.0284</text>
<line x1="261.20" y1="28.30" x2="275.20" y2="28.30" stroke="#333" stroke-width="1.0" />
<line x1="374.50" y1="18.50" x2="374.50" y2="91.10" stroke="#1a1a1a" stroke-width="1.25" />
<line x1="373.90" y1="90.50" x2="476.40" y2="90.50" stroke="#1a1a1a" stroke-width="1.25" />
<line x1="372.10" y1="22.10" x2="374.40" y2="22.10" stroke="#222" stroke-width="1.0" />
<text x="366.20" y="24.10" font-size="5.8" text-anchor="end" fill="#333" stroke="#333" stroke-width="0.24">10</text>
<text x="366.60" y="21.10" font-size="3.6" text-anchor="start" fill="#333">5</text>
<line x1="372.10" y1="39.15" x2="374.40" y2="39.15" stroke="#222" stroke-width="1.0" />
<text x="366.20" y="41.15" font-size="5.8" text-anchor="end" fill="#333" stroke="#333" stroke-width="0.24">10</text>
<text x="366.60" y="38.15" font-size="3.6" text-anchor="start" fill="#333">4</text>
<line x1="372.10" y1="56.20" x2="374.40" y2="56.20" stroke="#222" stroke-width="1.0" />
<text x="366.20" y="58.20" font-size="5.8" text-anchor="end" fill="#333" stroke="#333" stroke-width="0.24">10</text>
<text x="366.60" y="55.20" font-size="3.6" text-anchor="start" fill="#333">3</text>
<line x1="372.10" y1="73.25" x2="374.40" y2="73.25" stroke="#222" stroke-width="1.0" />
<text x="366.20" y="75.25" font-size="5.8" text-anchor="end" fill="#333" stroke="#333" stroke-width="0.24">10</text>
<text x="366.60" y="72.25" font-size="3.6" text-anchor="start" fill="#333">2</text>
<line x1="372.10" y1="90.30" x2="374.40" y2="90.30" stroke="#222" stroke-width="1.0" />
<text x="366.20" y="92.30" font-size="5.8" text-anchor="end" fill="#333" stroke="#333" stroke-width="0.24">10</text>
<text x="366.60" y="89.30" font-size="3.6" text-anchor="start" fill="#333">1</text>
<line x1="388.80" y1="90.30" x2="388.80" y2="92.70" stroke="#222" stroke-width="1.0" />
<text x="388.80" y="101.60" font-size="6.5" text-anchor="middle" fill="#333" stroke="#333" stroke-width="0.22">3</text>
<line x1="413.10" y1="90.30" x2="413.10" y2="92.70" stroke="#222" stroke-width="1.0" />
<text x="413.10" y="101.60" font-size="6.5" text-anchor="middle" fill="#333" stroke="#333" stroke-width="0.22">6</text>
<line x1="437.40" y1="90.30" x2="437.40" y2="92.70" stroke="#222" stroke-width="1.0" />
<text x="437.40" y="101.60" font-size="6.5" text-anchor="middle" fill="#333" stroke="#333" stroke-width="0.22">9</text>
<line x1="461.70" y1="90.30" x2="461.70" y2="92.70" stroke="#222" stroke-width="1.0" />
<text x="461.70" y="101.60" font-size="6.5" text-anchor="middle" fill="#333" textLength="6.4" lengthAdjust="spacingAndGlyphs" stroke="#333" stroke-width="0.22">12</text>
<text x="425.40" y="13.60" font-size="8.8" text-anchor="middle" fill="#333" textLength="13.9" lengthAdjust="spacingAndGlyphs" stroke="#333" stroke-width="0.18">ST2</text>
<text x="425.40" y="113.10" font-size="8.6" text-anchor="middle" fill="#333" font-weight="bold" textLength="18.3" lengthAdjust="spacingAndGlyphs" stroke="#333" stroke-width="0.2" style="font-style:italic;">Months</text>
<text x="0" y="0" font-size="7.9" text-anchor="middle" fill="#333" stroke="#333" stroke-width="0.25" textLength="16.6" lengthAdjust="spacingAndGlyphs" transform="translate(353.30,54.20) rotate(-90)">pg/mL</text>
<circle cx="383.30" cy="60.33" r="1.25" fill="#172745"/>
<circle cx="385.05" cy="58.91" r="1.25" fill="#172745"/>
<circle cx="382.95" cy="58.03" r="1.25" fill="#172745"/>
<circle cx="383.30" cy="64.39" r="1.25" fill="#172745"/>
<circle cx="383.30" cy="55.84" r="1.25" fill="#172745"/>
<circle cx="385.40" cy="64.97" r="1.25" fill="#172745"/>
<circle cx="381.20" cy="64.98" r="1.25" fill="#172745"/>
<circle cx="385.05" cy="54.61" r="1.25" fill="#172745"/>
<circle cx="382.95" cy="53.66" r="1.25" fill="#172745"/>
<circle cx="380.85" cy="52.73" r="1.25" fill="#172745"/>
<circle cx="386.10" cy="52.69" r="1.25" fill="#172745"/>
<circle cx="378.40" cy="52.66" r="1.25" fill="#172745"/>
<circle cx="383.30" cy="68.26" r="1.25" fill="#172745"/>
<circle cx="383.30" cy="51.12" r="1.25" fill="#172745"/>
<circle cx="381.55" cy="69.53" r="1.25" fill="#172745"/>
<circle cx="381.20" cy="49.95" r="1.25" fill="#172745"/>
<circle cx="383.30" cy="70.95" r="1.25" fill="#172745"/>
<circle cx="381.20" cy="71.64" r="1.25" fill="#172745"/>
<circle cx="385.40" cy="72.00" r="1.25" fill="#172745"/>
<circle cx="383.30" cy="47.50" r="1.25" fill="#172745"/>
<circle cx="394.30" cy="60.60" r="1.25" fill="#8c191d"/>
<circle cx="392.20" cy="61.25" r="1.25" fill="#8c191d"/>
<circle cx="396.05" cy="62.07" r="1.25" fill="#8c191d"/>
<circle cx="398.50" cy="62.17" r="1.25" fill="#8c191d"/>
<circle cx="392.90" cy="58.93" r="1.25" fill="#8c191d"/>
<circle cx="393.95" cy="63.17" r="1.25" fill="#8c191d"/>
<circle cx="395.00" cy="57.73" r="1.25" fill="#8c191d"/>
<circle cx="392.20" cy="56.84" r="1.25" fill="#8c191d"/>
<circle cx="397.10" cy="56.55" r="1.25" fill="#8c191d"/>
<circle cx="390.10" cy="56.20" r="1.25" fill="#8c191d"/>
<circle cx="394.30" cy="66.43" r="1.25" fill="#8c191d"/>
<circle cx="392.55" cy="67.85" r="1.25" fill="#8c191d"/>
<circle cx="394.30" cy="53.14" r="1.25" fill="#8c191d"/>
<circle cx="394.30" cy="69.15" r="1.25" fill="#8c191d"/>
<circle cx="396.40" cy="69.84" r="1.25" fill="#8c191d"/>
<circle cx="392.20" cy="70.23" r="1.25" fill="#8c191d"/>
<circle cx="390.10" cy="71.00" r="1.25" fill="#8c191d"/>
<circle cx="394.30" cy="50.40" r="1.25" fill="#8c191d"/>
<circle cx="394.30" cy="37.60" r="1.25" fill="#8c191d"/>
<circle cx="394.30" cy="29.80" r="1.25" fill="#8c191d"/>
<line x1="378.10" y1="60.50" x2="388.50" y2="60.50" stroke="#111" stroke-width="1.0" />
<line x1="389.10" y1="60.50" x2="399.50" y2="60.50" stroke="#111" stroke-width="1.0" />
<circle cx="407.60" cy="55.91" r="1.25" fill="#172745"/>
<circle cx="405.15" cy="55.77" r="1.25" fill="#172745"/>
<circle cx="409.35" cy="57.16" r="1.25" fill="#172745"/>
<circle cx="403.40" cy="57.16" r="1.25" fill="#172745"/>
<circle cx="409.70" cy="54.98" r="1.25" fill="#172745"/>
<circle cx="406.55" cy="57.91" r="1.25" fill="#172745"/>
<circle cx="403.40" cy="54.26" r="1.25" fill="#172745"/>
<circle cx="411.80" cy="54.21" r="1.25" fill="#172745"/>
<circle cx="406.55" cy="54.05" r="1.25" fill="#172745"/>
<circle cx="411.10" cy="58.57" r="1.25" fill="#172745"/>
<circle cx="408.30" cy="59.23" r="1.25" fill="#172745"/>
<circle cx="405.15" cy="59.61" r="1.25" fill="#172745"/>
<circle cx="408.65" cy="52.97" r="1.25" fill="#172745"/>
<circle cx="405.85" cy="52.04" r="1.25" fill="#172745"/>
<circle cx="406.90" cy="60.84" r="1.25" fill="#172745"/>
<circle cx="409.35" cy="61.18" r="1.25" fill="#172745"/>
<circle cx="407.60" cy="63.31" r="1.25" fill="#172745"/>
<circle cx="409.70" cy="63.72" r="1.25" fill="#172745"/>
<circle cx="405.85" cy="64.72" r="1.25" fill="#172745"/>
<circle cx="408.30" cy="65.40" r="1.25" fill="#172745"/>
<circle cx="410.40" cy="66.00" r="1.25" fill="#172745"/>
<circle cx="407.60" cy="43.50" r="1.25" fill="#172745"/>
<circle cx="418.60" cy="58.02" r="1.25" fill="#8c191d"/>
<circle cx="421.05" cy="57.87" r="1.25" fill="#8c191d"/>
<circle cx="416.15" cy="57.76" r="1.25" fill="#8c191d"/>
<circle cx="414.40" cy="58.98" r="1.25" fill="#8c191d"/>
<circle cx="423.15" cy="57.41" r="1.25" fill="#8c191d"/>
<circle cx="421.28" cy="57.31" r="1.25" fill="#8c191d"/>
<circle cx="419.30" cy="60.05" r="1.25" fill="#8c191d"/>
<circle cx="414.40" cy="56.31" r="1.25" fill="#8c191d"/>
<circle cx="418.60" cy="55.74" r="1.25" fill="#8c191d"/>
<circle cx="417.90" cy="61.79" r="1.25" fill="#8c191d"/>
<circle cx="420.00" cy="62.77" r="1.25" fill="#8c191d"/>
<circle cx="418.60" cy="52.80" r="1.25" fill="#8c191d"/>
<circle cx="418.25" cy="64.00" r="1.25" fill="#8c191d"/>
<circle cx="417.20" cy="51.18" r="1.25" fill="#8c191d"/>
<circle cx="420.00" cy="51.14" r="1.25" fill="#8c191d"/>
<circle cx="422.10" cy="50.25" r="1.25" fill="#8c191d"/>
<circle cx="418.60" cy="67.10" r="1.25" fill="#8c191d"/>
<circle cx="418.60" cy="49.22" r="1.25" fill="#8c191d"/>
<circle cx="418.60" cy="70.00" r="1.25" fill="#8c191d"/>
<circle cx="418.60" cy="45.50" r="1.25" fill="#8c191d"/>
<circle cx="418.60" cy="35.70" r="1.25" fill="#8c191d"/>
<line x1="402.40" y1="56.50" x2="412.80" y2="56.50" stroke="#111" stroke-width="1.0" />
<line x1="413.40" y1="58.50" x2="423.80" y2="58.50" stroke="#111" stroke-width="1.0" />
<circle cx="431.90" cy="55.59" r="1.25" fill="#172745"/>
<circle cx="429.45" cy="55.40" r="1.25" fill="#172745"/>
<circle cx="433.30" cy="57.39" r="1.25" fill="#172745"/>
<circle cx="434.00" cy="54.88" r="1.25" fill="#172745"/>
<circle cx="431.90" cy="53.17" r="1.25" fill="#172745"/>
<circle cx="429.80" cy="52.78" r="1.25" fill="#172745"/>
<circle cx="434.00" cy="52.35" r="1.25" fill="#172745"/>
<circle cx="431.90" cy="60.51" r="1.25" fill="#172745"/>
<circle cx="427.70" cy="52.07" r="1.25" fill="#172745"/>
<circle cx="434.35" cy="60.83" r="1.25" fill="#172745"/>
<circle cx="436.10" cy="51.33" r="1.25" fill="#172745"/>
<circle cx="432.48" cy="51.18" r="1.25" fill="#172745"/>
<circle cx="431.90" cy="63.35" r="1.25" fill="#172745"/>
<circle cx="434.00" cy="64.13" r="1.25" fill="#172745"/>
<circle cx="429.80" cy="64.22" r="1.25" fill="#172745"/>
<circle cx="431.90" cy="65.50" r="1.25" fill="#172745"/>
<circle cx="434.00" cy="66.45" r="1.25" fill="#172745"/>
<circle cx="430.15" cy="67.00" r="1.25" fill="#172745"/>
<circle cx="431.90" cy="42.77" r="1.25" fill="#172745"/>
<circle cx="434.35" cy="42.50" r="1.25" fill="#172745"/>
<circle cx="431.90" cy="35.70" r="1.25" fill="#172745"/>
<circle cx="442.90" cy="59.15" r="1.25" fill="#8c191d"/>
<circle cx="440.80" cy="59.59" r="1.25" fill="#8c191d"/>
<circle cx="442.90" cy="53.12" r="1.25" fill="#8c191d"/>
<circle cx="445.35" cy="52.92" r="1.25" fill="#8c191d"/>
<circle cx="440.80" cy="52.71" r="1.25" fill="#8c191d"/>
<circle cx="442.90" cy="50.90" r="1.25" fill="#8c191d"/>
<circle cx="442.90" cy="63.73" r="1.25" fill="#8c191d"/>
<circle cx="446.05" cy="50.84" r="1.25" fill="#8c191d"/>
<circle cx="445.35" cy="63.98" r="1.25" fill="#8c191d"/>
<circle cx="442.90" cy="65.88" r="1.25" fill="#8c191d"/>
<circle cx="440.45" cy="66.05" r="1.25" fill="#8c191d"/>
<circle cx="445.00" cy="66.68" r="1.25" fill="#8c191d"/>
<circle cx="442.90" cy="47.50" r="1.25" fill="#8c191d"/>
<circle cx="443.25" cy="68.00" r="1.25" fill="#8c191d"/>
<circle cx="442.90" cy="43.34" r="1.25" fill="#8c191d"/>
<circle cx="442.90" cy="40.62" r="1.25" fill="#8c191d"/>
<circle cx="445.00" cy="39.79" r="1.25" fill="#8c191d"/>
<circle cx="442.90" cy="35.02" r="1.25" fill="#8c191d"/>
<circle cx="445.00" cy="34.47" r="1.25" fill="#8c191d"/>
<circle cx="441.15" cy="33.70" r="1.25" fill="#8c191d"/>
<circle cx="442.90" cy="28.80" r="1.25" fill="#8c191d"/>
<line x1="426.70" y1="56.50" x2="437.10" y2="56.50" stroke="#111" stroke-width="1.0" />
<line x1="437.70" y1="57.50" x2="448.10" y2="57.50" stroke="#111" stroke-width="1.0" />
<circle cx="456.20" cy="55.27" r="1.25" fill="#172745"/>
<circle cx="454.10" cy="56.07" r="1.25" fill="#172745"/>
<circle cx="457.95" cy="56.64" r="1.25" fill="#172745"/>
<circle cx="456.20" cy="51.71" r="1.25" fill="#172745"/>
<circle cx="458.65" cy="51.63" r="1.25" fill="#172745"/>
<circle cx="460.05" cy="57.22" r="1.25" fill="#172745"/>
<circle cx="452.35" cy="57.36" r="1.25" fill="#172745"/>
<circle cx="454.10" cy="50.91" r="1.25" fill="#172745"/>
<circle cx="451.65" cy="50.65" r="1.25" fill="#172745"/>
<circle cx="456.20" cy="58.25" r="1.25" fill="#172745"/>
<circle cx="458.30" cy="58.92" r="1.25" fill="#172745"/>
<circle cx="454.10" cy="59.10" r="1.25" fill="#172745"/>
<circle cx="460.75" cy="59.24" r="1.25" fill="#172745"/>
<circle cx="451.30" cy="59.34" r="1.25" fill="#172745"/>
<circle cx="456.20" cy="48.05" r="1.25" fill="#172745"/>
<circle cx="456.90" cy="46.00" r="1.25" fill="#172745"/>
<circle cx="454.80" cy="45.24" r="1.25" fill="#172745"/>
<circle cx="456.20" cy="63.55" r="1.25" fill="#172745"/>
<circle cx="453.75" cy="63.63" r="1.25" fill="#172745"/>
<circle cx="459.00" cy="44.88" r="1.25" fill="#172745"/>
<circle cx="458.30" cy="64.00" r="1.25" fill="#172745"/>
<circle cx="456.20" cy="43.50" r="1.25" fill="#172745"/>
<circle cx="456.20" cy="74.90" r="1.25" fill="#172745"/>
<circle cx="456.20" cy="30.80" r="1.25" fill="#172745"/>
<circle cx="456.20" cy="24.90" r="1.25" fill="#172745"/>
<circle cx="467.20" cy="58.58" r="1.25" fill="#8c191d"/>
<circle cx="464.75" cy="58.61" r="1.25" fill="#8c191d"/>
<circle cx="467.20" cy="55.94" r="1.25" fill="#8c191d"/>
<circle cx="469.65" cy="55.78" r="1.25" fill="#8c191d"/>
<circle cx="464.75" cy="55.63" r="1.25" fill="#8c191d"/>
<circle cx="462.65" cy="54.66" r="1.25" fill="#8c191d"/>
<circle cx="471.40" cy="54.42" r="1.25" fill="#8c191d"/>
<circle cx="463.91" cy="54.39" r="1.25" fill="#8c191d"/>
<circle cx="468.60" cy="60.41" r="1.25" fill="#8c191d"/>
<circle cx="467.20" cy="50.70" r="1.25" fill="#8c191d"/>
<circle cx="467.20" cy="64.50" r="1.25" fill="#8c191d"/>
<circle cx="464.75" cy="64.52" r="1.25" fill="#8c191d"/>
<circle cx="469.30" cy="49.85" r="1.25" fill="#8c191d"/>
<circle cx="467.20" cy="47.61" r="1.25" fill="#8c191d"/>
<circle cx="467.20" cy="67.00" r="1.25" fill="#8c191d"/>
<circle cx="469.30" cy="46.49" r="1.25" fill="#8c191d"/>
<circle cx="467.20" cy="45.24" r="1.25" fill="#8c191d"/>
<circle cx="468.60" cy="43.50" r="1.25" fill="#8c191d"/>
<circle cx="467.20" cy="75.90" r="1.25" fill="#8c191d"/>
<circle cx="467.20" cy="35.70" r="1.25" fill="#8c191d"/>
<line x1="451.00" y1="54.50" x2="461.40" y2="54.50" stroke="#111" stroke-width="1.0" />
<line x1="462.00" y1="57.50" x2="472.40" y2="57.50" stroke="#111" stroke-width="1.0" />
<line x1="83.50" y1="136.00" x2="83.50" y2="208.10" stroke="#1a1a1a" stroke-width="1.25" />
<line x1="82.90" y1="207.50" x2="186.00" y2="207.50" stroke="#1a1a1a" stroke-width="1.25" />
<line x1="81.70" y1="139.40" x2="84.00" y2="139.40" stroke="#222" stroke-width="1.0" />
<text x="75.80" y="141.40" font-size="5.8" text-anchor="end" fill="#333" stroke="#333" stroke-width="0.24">10</text>
<text x="76.20" y="138.40" font-size="3.6" text-anchor="start" fill="#333">5</text>
<line x1="81.70" y1="152.98" x2="84.00" y2="152.98" stroke="#222" stroke-width="1.0" />
<text x="75.80" y="154.98" font-size="5.8" text-anchor="end" fill="#333" stroke="#333" stroke-width="0.24">10</text>
<text x="76.20" y="151.98" font-size="3.6" text-anchor="start" fill="#333">4</text>
<line x1="81.70" y1="166.56" x2="84.00" y2="166.56" stroke="#222" stroke-width="1.0" />
<text x="75.80" y="168.56" font-size="5.8" text-anchor="end" fill="#333" stroke="#333" stroke-width="0.24">10</text>
<text x="76.20" y="165.56" font-size="3.6" text-anchor="start" fill="#333">3</text>
<line x1="81.70" y1="180.14" x2="84.00" y2="180.14" stroke="#222" stroke-width="1.0" />
<text x="75.80" y="182.14" font-size="5.8" text-anchor="end" fill="#333" stroke="#333" stroke-width="0.24">10</text>
<text x="76.20" y="179.14" font-size="3.6" text-anchor="start" fill="#333">2</text>
<line x1="81.70" y1="193.72" x2="84.00" y2="193.72" stroke="#222" stroke-width="1.0" />
<text x="75.80" y="195.72" font-size="5.8" text-anchor="end" fill="#333" stroke="#333" stroke-width="0.24">10</text>
<text x="76.20" y="192.72" font-size="3.6" text-anchor="start" fill="#333">1</text>
<line x1="81.70" y1="207.30" x2="84.00" y2="207.30" stroke="#222" stroke-width="1.0" />
<text x="75.80" y="209.30" font-size="5.8" text-anchor="end" fill="#333" stroke="#333" stroke-width="0.24">10</text>
<text x="76.20" y="206.30" font-size="3.6" text-anchor="start" fill="#333">0</text>
<line x1="98.40" y1="207.30" x2="98.40" y2="209.70" stroke="#222" stroke-width="1.0" />
<text x="98.40" y="218.60" font-size="6.5" text-anchor="middle" fill="#333" stroke="#333" stroke-width="0.22">3</text>
<line x1="122.70" y1="207.30" x2="122.70" y2="209.70" stroke="#222" stroke-width="1.0" />
<text x="122.70" y="218.60" font-size="6.5" text-anchor="middle" fill="#333" stroke="#333" stroke-width="0.22">6</text>
<line x1="147.00" y1="207.30" x2="147.00" y2="209.70" stroke="#222" stroke-width="1.0" />
<text x="147.00" y="218.60" font-size="6.5" text-anchor="middle" fill="#333" stroke="#333" stroke-width="0.22">9</text>
<line x1="171.30" y1="207.30" x2="171.30" y2="209.70" stroke="#222" stroke-width="1.0" />
<text x="171.30" y="218.60" font-size="6.5" text-anchor="middle" fill="#333" textLength="6.4" lengthAdjust="spacingAndGlyphs" stroke="#333" stroke-width="0.22">12</text>
<text x="135.00" y="130.60" font-size="8.8" text-anchor="middle" fill="#333" textLength="26.2" lengthAdjust="spacingAndGlyphs" stroke="#333" stroke-width="0.18">CXCL9</text>
<text x="135.00" y="229.80" font-size="8.6" text-anchor="middle" fill="#333" font-weight="bold" textLength="18.3" lengthAdjust="spacingAndGlyphs" stroke="#333" stroke-width="0.2">Months</text>
<text x="0" y="0" font-size="7.9" text-anchor="middle" fill="#333" stroke="#333" stroke-width="0.25" textLength="16.6" lengthAdjust="spacingAndGlyphs" transform="translate(63.30,171.30) rotate(-90)">pg/mL</text>
<circle cx="92.90" cy="168.20" r="1.25" fill="#172745"/>
<circle cx="95.00" cy="168.15" r="1.25" fill="#172745"/>
<circle cx="91.15" cy="169.43" r="1.25" fill="#172745"/>
<circle cx="89.05" cy="169.53" r="1.25" fill="#172745"/>
<circle cx="96.40" cy="169.77" r="1.25" fill="#172745"/>
<circle cx="93.60" cy="170.10" r="1.25" fill="#172745"/>
<circle cx="92.90" cy="165.82" r="1.25" fill="#172745"/>
<circle cx="91.85" cy="171.31" r="1.25" fill="#172745"/>
<circle cx="90.80" cy="165.19" r="1.25" fill="#172745"/>
<circle cx="93.25" cy="172.77" r="1.25" fill="#172745"/>
<circle cx="92.90" cy="163.57" r="1.25" fill="#172745"/>
<circle cx="95.00" cy="163.30" r="1.25" fill="#172745"/>
<circle cx="91.15" cy="173.61" r="1.25" fill="#172745"/>
<circle cx="95.35" cy="173.71" r="1.25" fill="#172745"/>
<circle cx="89.05" cy="174.34" r="1.25" fill="#172745"/>
<circle cx="91.15" cy="162.43" r="1.25" fill="#172745"/>
<circle cx="92.90" cy="175.21" r="1.25" fill="#172745"/>
<circle cx="92.90" cy="161.33" r="1.25" fill="#172745"/>
<circle cx="94.65" cy="160.01" r="1.25" fill="#172745"/>
<circle cx="92.90" cy="178.20" r="1.25" fill="#172745"/>
<circle cx="92.90" cy="156.98" r="1.25" fill="#172745"/>
<circle cx="92.90" cy="154.75" r="1.25" fill="#172745"/>
<circle cx="94.65" cy="153.60" r="1.25" fill="#172745"/>
<circle cx="103.90" cy="166.19" r="1.25" fill="#8c191d"/>
<circle cx="105.65" cy="167.34" r="1.25" fill="#8c191d"/>
<circle cx="105.65" cy="164.93" r="1.25" fill="#8c191d"/>
<circle cx="103.90" cy="168.69" r="1.25" fill="#8c191d"/>
<circle cx="103.55" cy="164.06" r="1.25" fill="#8c191d"/>
<circle cx="101.45" cy="163.95" r="1.25" fill="#8c191d"/>
<circle cx="107.40" cy="163.79" r="1.25" fill="#8c191d"/>
<circle cx="101.80" cy="169.56" r="1.25" fill="#8c191d"/>
<circle cx="105.65" cy="169.74" r="1.25" fill="#8c191d"/>
<circle cx="105.30" cy="162.91" r="1.25" fill="#8c191d"/>
<circle cx="107.75" cy="169.90" r="1.25" fill="#8c191d"/>
<circle cx="99.70" cy="162.89" r="1.25" fill="#8c191d"/>
<circle cx="99.70" cy="170.52" r="1.25" fill="#8c191d"/>
<circle cx="103.55" cy="161.79" r="1.25" fill="#8c191d"/>
<circle cx="101.45" cy="161.50" r="1.25" fill="#8c191d"/>
<circle cx="103.90" cy="173.36" r="1.25" fill="#8c191d"/>
<circle cx="105.65" cy="174.35" r="1.25" fill="#8c191d"/>
<circle cx="103.90" cy="175.72" r="1.25" fill="#8c191d"/>
<circle cx="106.00" cy="176.42" r="1.25" fill="#8c191d"/>
<circle cx="103.90" cy="155.60" r="1.25" fill="#8c191d"/>
<circle cx="103.90" cy="178.48" r="1.25" fill="#8c191d"/>
<circle cx="101.80" cy="178.75" r="1.25" fill="#8c191d"/>
<circle cx="103.90" cy="152.70" r="1.25" fill="#8c191d"/>
<circle cx="103.90" cy="185.16" r="1.25" fill="#8c191d"/>
<circle cx="101.80" cy="186.00" r="1.25" fill="#8c191d"/>
<circle cx="103.90" cy="143.80" r="1.25" fill="#8c191d"/>
<line x1="87.70" y1="168.50" x2="98.10" y2="168.50" stroke="#111" stroke-width="1.0" />
<line x1="98.70" y1="166.50" x2="109.10" y2="166.50" stroke="#111" stroke-width="1.0" />
<circle cx="117.20" cy="171.93" r="1.25" fill="#172745"/>
<circle cx="115.10" cy="171.83" r="1.25" fill="#172745"/>
<circle cx="119.30" cy="172.85" r="1.25" fill="#172745"/>
<circle cx="121.05" cy="171.70" r="1.25" fill="#172745"/>
<circle cx="118.95" cy="170.77" r="1.25" fill="#172745"/>
<circle cx="113.35" cy="170.69" r="1.25" fill="#172745"/>
<circle cx="112.75" cy="170.68" r="1.25" fill="#172745"/>
<circle cx="117.20" cy="169.67" r="1.25" fill="#172745"/>
<circle cx="117.20" cy="175.85" r="1.25" fill="#172745"/>
<circle cx="115.45" cy="168.28" r="1.25" fill="#172745"/>
<circle cx="117.20" cy="166.97" r="1.25" fill="#172745"/>
<circle cx="118.25" cy="177.68" r="1.25" fill="#172745"/>
<circle cx="119.30" cy="166.64" r="1.25" fill="#172745"/>
<circle cx="115.10" cy="166.13" r="1.25" fill="#172745"/>
<circle cx="121.40" cy="166.02" r="1.25" fill="#172745"/>
<circle cx="117.20" cy="164.40" r="1.25" fill="#172745"/>
<circle cx="117.20" cy="180.55" r="1.25" fill="#172745"/>
<circle cx="115.10" cy="181.03" r="1.25" fill="#172745"/>
<circle cx="117.20" cy="183.13" r="1.25" fill="#172745"/>
<circle cx="115.10" cy="184.00" r="1.25" fill="#172745"/>
<circle cx="117.20" cy="193.80" r="1.25" fill="#172745"/>
<circle cx="128.20" cy="173.75" r="1.25" fill="#8c191d"/>
<circle cx="126.45" cy="174.84" r="1.25" fill="#8c191d"/>
<circle cx="130.30" cy="172.88" r="1.25" fill="#8c191d"/>
<circle cx="126.10" cy="172.86" r="1.25" fill="#8c191d"/>
<circle cx="129.25" cy="175.59" r="1.25" fill="#8c191d"/>
<circle cx="124.00" cy="172.51" r="1.25" fill="#8c191d"/>
<circle cx="132.40" cy="172.11" r="1.25" fill="#8c191d"/>
<circle cx="128.20" cy="171.58" r="1.25" fill="#8c191d"/>
<circle cx="126.45" cy="170.60" r="1.25" fill="#8c191d"/>
<circle cx="129.95" cy="170.53" r="1.25" fill="#8c191d"/>
<circle cx="124.35" cy="170.44" r="1.25" fill="#8c191d"/>
<circle cx="133.10" cy="170.19" r="1.25" fill="#8c191d"/>
<circle cx="128.20" cy="168.27" r="1.25" fill="#8c191d"/>
<circle cx="128.20" cy="180.21" r="1.25" fill="#8c191d"/>
<circle cx="130.30" cy="168.16" r="1.25" fill="#8c191d"/>
<circle cx="126.10" cy="168.06" r="1.25" fill="#8c191d"/>
<circle cx="129.95" cy="181.60" r="1.25" fill="#8c191d"/>
<circle cx="129.25" cy="166.40" r="1.25" fill="#8c191d"/>
<circle cx="128.20" cy="183.10" r="1.25" fill="#8c191d"/>
<circle cx="126.80" cy="184.66" r="1.25" fill="#8c191d"/>
<circle cx="128.20" cy="186.85" r="1.25" fill="#8c191d"/>
<circle cx="128.20" cy="191.70" r="1.25" fill="#8c191d"/>
<circle cx="128.20" cy="193.80" r="1.25" fill="#8c191d"/>
<circle cx="128.20" cy="148.70" r="1.25" fill="#8c191d"/>
<line x1="112.00" y1="172.50" x2="122.40" y2="172.50" stroke="#111" stroke-width="1.0" />
<line x1="123.00" y1="174.50" x2="133.40" y2="174.50" stroke="#111" stroke-width="1.0" />
<circle cx="141.50" cy="171.57" r="1.25" fill="#172745"/>
<circle cx="141.50" cy="169.30" r="1.25" fill="#172745"/>
<circle cx="139.40" cy="168.87" r="1.25" fill="#172745"/>
<circle cx="143.60" cy="168.65" r="1.25" fill="#172745"/>
<circle cx="137.65" cy="167.62" r="1.25" fill="#172745"/>
<circle cx="140.80" cy="167.37" r="1.25" fill="#172745"/>
<circle cx="141.50" cy="175.31" r="1.25" fill="#172745"/>
<circle cx="139.40" cy="175.93" r="1.25" fill="#172745"/>
<circle cx="143.60" cy="176.08" r="1.25" fill="#172745"/>
<circle cx="142.55" cy="166.37" r="1.25" fill="#172745"/>
<circle cx="139.40" cy="165.83" r="1.25" fill="#172745"/>
<circle cx="141.50" cy="164.40" r="1.25" fill="#172745"/>
<circle cx="141.50" cy="180.55" r="1.25" fill="#172745"/>
<circle cx="139.75" cy="181.58" r="1.25" fill="#172745"/>
<circle cx="141.50" cy="182.58" r="1.25" fill="#172745"/>
<circle cx="143.60" cy="182.96" r="1.25" fill="#172745"/>
<circle cx="142.20" cy="184.46" r="1.25" fill="#172745"/>
<circle cx="141.50" cy="157.60" r="1.25" fill="#172745"/>
<circle cx="140.45" cy="185.81" r="1.25" fill="#172745"/>
<circle cx="142.20" cy="186.96" r="1.25" fill="#172745"/>
<circle cx="144.30" cy="187.00" r="1.25" fill="#172745"/>
<circle cx="152.50" cy="171.18" r="1.25" fill="#8c191d"/>
<circle cx="152.50" cy="168.97" r="1.25" fill="#8c191d"/>
<circle cx="150.40" cy="168.06" r="1.25" fill="#8c191d"/>
<circle cx="152.50" cy="174.58" r="1.25" fill="#8c191d"/>
<circle cx="150.40" cy="175.48" r="1.25" fill="#8c191d"/>
<circle cx="153.90" cy="176.20" r="1.25" fill="#8c191d"/>
<circle cx="152.50" cy="165.62" r="1.25" fill="#8c191d"/>
<circle cx="151.80" cy="176.98" r="1.25" fill="#8c191d"/>
<circle cx="155.65" cy="177.32" r="1.25" fill="#8c191d"/>
<circle cx="150.40" cy="164.83" r="1.25" fill="#8c191d"/>
<circle cx="154.25" cy="164.62" r="1.25" fill="#8c191d"/>
<circle cx="152.50" cy="178.94" r="1.25" fill="#8c191d"/>
<circle cx="154.60" cy="179.11" r="1.25" fill="#8c191d"/>
<circle cx="152.50" cy="163.25" r="1.25" fill="#8c191d"/>
<circle cx="154.25" cy="162.16" r="1.25" fill="#8c191d"/>
<circle cx="150.75" cy="161.91" r="1.25" fill="#8c191d"/>
<circle cx="156.35" cy="161.67" r="1.25" fill="#8c191d"/>
<circle cx="152.50" cy="157.67" r="1.25" fill="#8c191d"/>
<circle cx="154.60" cy="157.40" r="1.25" fill="#8c191d"/>
<circle cx="150.40" cy="157.23" r="1.25" fill="#8c191d"/>
<circle cx="152.50" cy="185.88" r="1.25" fill="#8c191d"/>
<circle cx="154.60" cy="186.35" r="1.25" fill="#8c191d"/>
<circle cx="152.50" cy="154.87" r="1.25" fill="#8c191d"/>
<circle cx="152.50" cy="188.00" r="1.25" fill="#8c191d"/>
<circle cx="154.25" cy="153.60" r="1.25" fill="#8c191d"/>
<line x1="136.30" y1="171.50" x2="146.70" y2="171.50" stroke="#111" stroke-width="1.0" />
<line x1="147.30" y1="171.50" x2="157.70" y2="171.50" stroke="#111" stroke-width="1.0" />
<circle cx="165.80" cy="172.60" r="1.25" fill="#172745"/>
<circle cx="163.70" cy="171.78" r="1.25" fill="#172745"/>
<circle cx="167.90" cy="173.27" r="1.25" fill="#172745"/>
<circle cx="162.30" cy="173.40" r="1.25" fill="#172745"/>
<circle cx="165.80" cy="175.23" r="1.25" fill="#172745"/>
<circle cx="164.05" cy="176.40" r="1.25" fill="#172745"/>
<circle cx="165.80" cy="167.90" r="1.25" fill="#172745"/>
<circle cx="167.90" cy="167.81" r="1.25" fill="#172745"/>
<circle cx="166.85" cy="176.96" r="1.25" fill="#172745"/>
<circle cx="163.70" cy="166.96" r="1.25" fill="#172745"/>
<circle cx="165.80" cy="164.74" r="1.25" fill="#172745"/>
<circle cx="167.90" cy="164.49" r="1.25" fill="#172745"/>
<circle cx="163.70" cy="164.07" r="1.25" fill="#172745"/>
<circle cx="169.65" cy="163.32" r="1.25" fill="#172745"/>
<circle cx="165.80" cy="181.33" r="1.25" fill="#172745"/>
<circle cx="161.95" cy="163.02" r="1.25" fill="#172745"/>
<circle cx="165.80" cy="160.77" r="1.25" fill="#172745"/>
<circle cx="165.80" cy="157.87" r="1.25" fill="#172745"/>
<circle cx="165.80" cy="187.00" r="1.25" fill="#172745"/>
<circle cx="165.80" cy="155.60" r="1.25" fill="#172745"/>
<circle cx="176.80" cy="174.08" r="1.25" fill="#8c191d"/>
<circle cx="175.40" cy="175.55" r="1.25" fill="#8c191d"/>
<circle cx="175.05" cy="172.82" r="1.25" fill="#8c191d"/>
<circle cx="177.50" cy="175.99" r="1.25" fill="#8c191d"/>
<circle cx="177.15" cy="171.93" r="1.25" fill="#8c191d"/>
<circle cx="176.10" cy="177.48" r="1.25" fill="#8c191d"/>
<circle cx="177.85" cy="178.58" r="1.25" fill="#8c191d"/>
<circle cx="174.35" cy="178.86" r="1.25" fill="#8c191d"/>
<circle cx="179.95" cy="179.00" r="1.25" fill="#8c191d"/>
<circle cx="172.25" cy="179.61" r="1.25" fill="#8c191d"/>
<circle cx="176.80" cy="166.45" r="1.25" fill="#8c191d"/>
<circle cx="176.80" cy="183.35" r="1.25" fill="#8c191d"/>
<circle cx="174.70" cy="183.97" r="1.25" fill="#8c191d"/>
<circle cx="178.55" cy="184.56" r="1.25" fill="#8c191d"/>
<circle cx="180.65" cy="184.60" r="1.25" fill="#8c191d"/>
<circle cx="172.60" cy="184.67" r="1.25" fill="#8c191d"/>
<circle cx="176.80" cy="163.71" r="1.25" fill="#8c191d"/>
<circle cx="176.40" cy="185.19" r="1.25" fill="#8c191d"/>
<circle cx="176.80" cy="160.79" r="1.25" fill="#8c191d"/>
<circle cx="176.80" cy="187.79" r="1.25" fill="#8c191d"/>
<circle cx="176.80" cy="190.00" r="1.25" fill="#8c191d"/>
<circle cx="176.80" cy="153.84" r="1.25" fill="#8c191d"/>
<circle cx="178.90" cy="153.60" r="1.25" fill="#8c191d"/>
<line x1="160.60" y1="172.50" x2="171.00" y2="172.50" stroke="#111" stroke-width="1.0" />
<line x1="171.60" y1="174.50" x2="182.00" y2="174.50" stroke="#111" stroke-width="1.0" />
<line x1="230.50" y1="136.00" x2="230.50" y2="208.10" stroke="#1a1a1a" stroke-width="1.25" />
<line x1="229.90" y1="207.50" x2="332.30" y2="207.50" stroke="#1a1a1a" stroke-width="1.25" />
<line x1="228.00" y1="139.80" x2="230.30" y2="139.80" stroke="#222" stroke-width="1.0" />
<text x="222.10" y="141.80" font-size="5.8" text-anchor="end" fill="#333" stroke="#333" stroke-width="0.24">10</text>
<text x="222.50" y="138.80" font-size="3.6" text-anchor="start" fill="#333">5</text>
<line x1="228.00" y1="156.73" x2="230.30" y2="156.73" stroke="#222" stroke-width="1.0" />
<text x="222.10" y="158.73" font-size="5.8" text-anchor="end" fill="#333" stroke="#333" stroke-width="0.24">10</text>
<text x="222.50" y="155.73" font-size="3.6" text-anchor="start" fill="#333">4</text>
<line x1="228.00" y1="173.65" x2="230.30" y2="173.65" stroke="#222" stroke-width="1.0" />
<text x="222.10" y="175.65" font-size="5.8" text-anchor="end" fill="#333" stroke="#333" stroke-width="0.24">10</text>
<text x="222.50" y="172.65" font-size="3.6" text-anchor="start" fill="#333">3</text>
<line x1="228.00" y1="190.57" x2="230.30" y2="190.57" stroke="#222" stroke-width="1.0" />
<text x="222.10" y="192.57" font-size="5.8" text-anchor="end" fill="#333" stroke="#333" stroke-width="0.24">10</text>
<text x="222.50" y="189.57" font-size="3.6" text-anchor="start" fill="#333">2</text>
<line x1="228.00" y1="207.50" x2="230.30" y2="207.50" stroke="#222" stroke-width="1.0" />
<text x="222.10" y="209.50" font-size="5.8" text-anchor="end" fill="#333" stroke="#333" stroke-width="0.24">10</text>
<text x="222.50" y="206.50" font-size="3.6" text-anchor="start" fill="#333">1</text>
<line x1="244.70" y1="207.50" x2="244.70" y2="209.90" stroke="#222" stroke-width="1.0" />
<text x="244.70" y="218.60" font-size="6.5" text-anchor="middle" fill="#333" stroke="#333" stroke-width="0.22">3</text>
<line x1="269.00" y1="207.50" x2="269.00" y2="209.90" stroke="#222" stroke-width="1.0" />
<text x="269.00" y="218.60" font-size="6.5" text-anchor="middle" fill="#333" stroke="#333" stroke-width="0.22">6</text>
<line x1="293.30" y1="207.50" x2="293.30" y2="209.90" stroke="#222" stroke-width="1.0" />
<text x="293.30" y="218.60" font-size="6.5" text-anchor="middle" fill="#333" stroke="#333" stroke-width="0.22">9</text>
<line x1="317.60" y1="207.50" x2="317.60" y2="209.90" stroke="#222" stroke-width="1.0" />
<text x="317.60" y="218.60" font-size="6.5" text-anchor="middle" fill="#333" textLength="6.4" lengthAdjust="spacingAndGlyphs" stroke="#333" stroke-width="0.22">12</text>
<text x="281.30" y="130.60" font-size="8.8" text-anchor="middle" fill="#333" textLength="30.7" lengthAdjust="spacingAndGlyphs" stroke="#333" stroke-width="0.18">CXCL10</text>
<text x="281.30" y="229.80" font-size="8.6" text-anchor="middle" fill="#333" font-weight="bold" textLength="18.3" lengthAdjust="spacingAndGlyphs" stroke="#333" stroke-width="0.2" style="font-style:italic;">Months</text>
<text x="0" y="0" font-size="7.9" text-anchor="middle" fill="#333" stroke="#333" stroke-width="0.25" textLength="16.6" lengthAdjust="spacingAndGlyphs" transform="translate(209.60,171.30) rotate(-90)">pg/mL</text>
<circle cx="239.20" cy="182.60" r="1.25" fill="#172745"/>
<circle cx="237.10" cy="182.33" r="1.25" fill="#172745"/>
<circle cx="240.95" cy="183.77" r="1.25" fill="#172745"/>
<circle cx="241.65" cy="181.85" r="1.25" fill="#172745"/>
<circle cx="237.80" cy="184.25" r="1.25" fill="#172745"/>
<circle cx="242.70" cy="184.90" r="1.25" fill="#172745"/>
<circle cx="239.20" cy="186.20" r="1.25" fill="#172745"/>
<circle cx="239.20" cy="179.55" r="1.25" fill="#172745"/>
<circle cx="237.10" cy="186.83" r="1.25" fill="#172745"/>
<circle cx="241.30" cy="187.16" r="1.25" fill="#172745"/>
<circle cx="239.20" cy="188.43" r="1.25" fill="#172745"/>
<circle cx="239.20" cy="177.06" r="1.25" fill="#172745"/>
<circle cx="237.10" cy="189.22" r="1.25" fill="#172745"/>
<circle cx="240.60" cy="175.54" r="1.25" fill="#172745"/>
<circle cx="237.80" cy="175.48" r="1.25" fill="#172745"/>
<circle cx="235.70" cy="174.60" r="1.25" fill="#172745"/>
<circle cx="242.35" cy="174.43" r="1.25" fill="#172745"/>
<circle cx="236.49" cy="174.42" r="1.25" fill="#172745"/>
<circle cx="239.20" cy="173.49" r="1.25" fill="#172745"/>
<circle cx="239.20" cy="170.25" r="1.25" fill="#172745"/>
<circle cx="239.20" cy="195.80" r="1.25" fill="#172745"/>
<circle cx="237.10" cy="169.57" r="1.25" fill="#172745"/>
<circle cx="239.20" cy="167.40" r="1.25" fill="#172745"/>
<circle cx="239.20" cy="159.50" r="1.25" fill="#172745"/>
<circle cx="239.20" cy="155.60" r="1.25" fill="#172745"/>
<circle cx="250.20" cy="184.47" r="1.25" fill="#8c191d"/>
<circle cx="248.45" cy="183.43" r="1.25" fill="#8c191d"/>
<circle cx="251.95" cy="183.39" r="1.25" fill="#8c191d"/>
<circle cx="251.95" cy="185.64" r="1.25" fill="#8c191d"/>
<circle cx="250.20" cy="181.41" r="1.25" fill="#8c191d"/>
<circle cx="252.30" cy="181.29" r="1.25" fill="#8c191d"/>
<circle cx="250.20" cy="187.27" r="1.25" fill="#8c191d"/>
<circle cx="252.30" cy="187.69" r="1.25" fill="#8c191d"/>
<circle cx="248.10" cy="187.70" r="1.25" fill="#8c191d"/>
<circle cx="249.15" cy="179.64" r="1.25" fill="#8c191d"/>
<circle cx="246.00" cy="188.57" r="1.25" fill="#8c191d"/>
<circle cx="251.25" cy="179.19" r="1.25" fill="#8c191d"/>
<circle cx="250.20" cy="189.65" r="1.25" fill="#8c191d"/>
<circle cx="248.10" cy="177.86" r="1.25" fill="#8c191d"/>
<circle cx="250.20" cy="177.42" r="1.25" fill="#8c191d"/>
<circle cx="252.30" cy="177.16" r="1.25" fill="#8c191d"/>
<circle cx="246.35" cy="176.52" r="1.25" fill="#8c191d"/>
<circle cx="250.20" cy="175.33" r="1.25" fill="#8c191d"/>
<circle cx="252.30" cy="174.77" r="1.25" fill="#8c191d"/>
<circle cx="248.80" cy="173.90" r="1.25" fill="#8c191d"/>
<circle cx="250.90" cy="173.29" r="1.25" fill="#8c191d"/>
<circle cx="250.20" cy="195.57" r="1.25" fill="#8c191d"/>
<circle cx="250.20" cy="171.36" r="1.25" fill="#8c191d"/>
<circle cx="250.20" cy="197.80" r="1.25" fill="#8c191d"/>
<circle cx="250.20" cy="169.30" r="1.25" fill="#8c191d"/>
<line x1="234.00" y1="183.50" x2="244.40" y2="183.50" stroke="#111" stroke-width="1.0" />
<line x1="245.00" y1="184.50" x2="255.40" y2="184.50" stroke="#111" stroke-width="1.0" />
<circle cx="263.50" cy="187.23" r="1.25" fill="#172745"/>
<circle cx="263.50" cy="189.81" r="1.25" fill="#172745"/>
<circle cx="263.50" cy="180.29" r="1.25" fill="#172745"/>
<circle cx="264.90" cy="178.72" r="1.25" fill="#172745"/>
<circle cx="262.45" cy="178.45" r="1.25" fill="#172745"/>
<circle cx="260.35" cy="178.35" r="1.25" fill="#172745"/>
<circle cx="263.50" cy="193.89" r="1.25" fill="#172745"/>
<circle cx="265.60" cy="194.63" r="1.25" fill="#172745"/>
<circle cx="262.45" cy="195.73" r="1.25" fill="#172745"/>
<circle cx="263.50" cy="176.15" r="1.25" fill="#172745"/>
<circle cx="264.55" cy="196.52" r="1.25" fill="#172745"/>
<circle cx="261.05" cy="197.18" r="1.25" fill="#172745"/>
<circle cx="263.50" cy="172.53" r="1.25" fill="#172745"/>
<circle cx="261.40" cy="171.88" r="1.25" fill="#172745"/>
<circle cx="263.50" cy="200.59" r="1.25" fill="#172745"/>
<circle cx="263.50" cy="169.82" r="1.25" fill="#172745"/>
<circle cx="263.50" cy="202.70" r="1.25" fill="#172745"/>
<circle cx="261.75" cy="168.54" r="1.25" fill="#172745"/>
<circle cx="264.55" cy="168.07" r="1.25" fill="#172745"/>
<circle cx="266.65" cy="168.02" r="1.25" fill="#172745"/>
<circle cx="263.50" cy="166.27" r="1.25" fill="#172745"/>
<circle cx="265.60" cy="165.91" r="1.25" fill="#172745"/>
<circle cx="261.40" cy="165.40" r="1.25" fill="#172745"/>
<circle cx="274.50" cy="187.90" r="1.25" fill="#8c191d"/>
<circle cx="272.40" cy="188.35" r="1.25" fill="#8c191d"/>
<circle cx="276.25" cy="186.62" r="1.25" fill="#8c191d"/>
<circle cx="275.55" cy="189.65" r="1.25" fill="#8c191d"/>
<circle cx="273.45" cy="186.03" r="1.25" fill="#8c191d"/>
<circle cx="273.45" cy="190.26" r="1.25" fill="#8c191d"/>
<circle cx="277.30" cy="190.63" r="1.25" fill="#8c191d"/>
<circle cx="271.35" cy="190.85" r="1.25" fill="#8c191d"/>
<circle cx="275.20" cy="184.88" r="1.25" fill="#8c191d"/>
<circle cx="273.10" cy="184.05" r="1.25" fill="#8c191d"/>
<circle cx="275.90" cy="182.92" r="1.25" fill="#8c191d"/>
<circle cx="274.50" cy="193.41" r="1.25" fill="#8c191d"/>
<circle cx="271.70" cy="182.49" r="1.25" fill="#8c191d"/>
<circle cx="278.00" cy="182.26" r="1.25" fill="#8c191d"/>
<circle cx="274.50" cy="181.29" r="1.25" fill="#8c191d"/>
<circle cx="270.30" cy="180.90" r="1.25" fill="#8c191d"/>
<circle cx="273.45" cy="195.13" r="1.25" fill="#8c191d"/>
<circle cx="275.55" cy="195.36" r="1.25" fill="#8c191d"/>
<circle cx="271.70" cy="196.50" r="1.25" fill="#8c191d"/>
<circle cx="274.50" cy="177.20" r="1.25" fill="#8c191d"/>
<circle cx="274.50" cy="199.94" r="1.25" fill="#8c191d"/>
<circle cx="274.50" cy="202.60" r="1.25" fill="#8c191d"/>
<circle cx="276.25" cy="203.60" r="1.25" fill="#8c191d"/>
<line x1="258.30" y1="186.50" x2="268.70" y2="186.50" stroke="#111" stroke-width="1.0" />
<line x1="269.30" y1="188.50" x2="279.70" y2="188.50" stroke="#111" stroke-width="1.0" />
<circle cx="287.80" cy="185.22" r="1.25" fill="#172745"/>
<circle cx="289.55" cy="186.31" r="1.25" fill="#172745"/>
<circle cx="286.75" cy="183.48" r="1.25" fill="#172745"/>
<circle cx="288.85" cy="183.43" r="1.25" fill="#172745"/>
<circle cx="286.40" cy="186.69" r="1.25" fill="#172745"/>
<circle cx="284.65" cy="182.90" r="1.25" fill="#172745"/>
<circle cx="290.60" cy="182.18" r="1.25" fill="#172745"/>
<circle cx="288.15" cy="188.02" r="1.25" fill="#172745"/>
<circle cx="290.25" cy="188.22" r="1.25" fill="#172745"/>
<circle cx="287.80" cy="181.69" r="1.25" fill="#172745"/>
<circle cx="287.10" cy="189.73" r="1.25" fill="#172745"/>
<circle cx="288.50" cy="179.81" r="1.25" fill="#172745"/>
<circle cx="289.20" cy="190.31" r="1.25" fill="#172745"/>
<circle cx="287.80" cy="195.46" r="1.25" fill="#172745"/>
<circle cx="289.90" cy="195.65" r="1.25" fill="#172745"/>
<circle cx="285.70" cy="195.99" r="1.25" fill="#172745"/>
<circle cx="291.30" cy="197.31" r="1.25" fill="#172745"/>
<circle cx="287.80" cy="198.47" r="1.25" fill="#172745"/>
<circle cx="287.80" cy="171.30" r="1.25" fill="#172745"/>
<circle cx="285.70" cy="198.70" r="1.25" fill="#172745"/>
<circle cx="298.80" cy="184.27" r="1.25" fill="#8c191d"/>
<circle cx="300.90" cy="184.44" r="1.25" fill="#8c191d"/>
<circle cx="296.70" cy="183.56" r="1.25" fill="#8c191d"/>
<circle cx="295.30" cy="184.98" r="1.25" fill="#8c191d"/>
<circle cx="298.80" cy="181.85" r="1.25" fill="#8c191d"/>
<circle cx="299.50" cy="179.95" r="1.25" fill="#8c191d"/>
<circle cx="298.80" cy="188.84" r="1.25" fill="#8c191d"/>
<circle cx="300.90" cy="189.39" r="1.25" fill="#8c191d"/>
<circle cx="297.05" cy="190.19" r="1.25" fill="#8c191d"/>
<circle cx="294.95" cy="190.32" r="1.25" fill="#8c191d"/>
<circle cx="298.80" cy="192.31" r="1.25" fill="#8c191d"/>
<circle cx="298.80" cy="175.40" r="1.25" fill="#8c191d"/>
<circle cx="300.55" cy="174.02" r="1.25" fill="#8c191d"/>
<circle cx="298.45" cy="173.26" r="1.25" fill="#8c191d"/>
<circle cx="298.80" cy="196.77" r="1.25" fill="#8c191d"/>
<circle cx="298.80" cy="199.99" r="1.25" fill="#8c191d"/>
<circle cx="300.90" cy="200.33" r="1.25" fill="#8c191d"/>
<circle cx="296.70" cy="200.70" r="1.25" fill="#8c191d"/>
<circle cx="298.80" cy="165.70" r="1.25" fill="#8c191d"/>
<circle cx="297.05" cy="164.73" r="1.25" fill="#8c191d"/>
<circle cx="300.55" cy="164.69" r="1.25" fill="#8c191d"/>
<circle cx="298.80" cy="163.37" r="1.25" fill="#8c191d"/>
<circle cx="297.05" cy="162.09" r="1.25" fill="#8c191d"/>
<circle cx="298.80" cy="160.49" r="1.25" fill="#8c191d"/>
<circle cx="299.15" cy="158.50" r="1.25" fill="#8c191d"/>
<line x1="282.60" y1="185.50" x2="293.00" y2="185.50" stroke="#111" stroke-width="1.0" />
<line x1="293.60" y1="184.50" x2="304.00" y2="184.50" stroke="#111" stroke-width="1.0" />
<circle cx="312.10" cy="180.74" r="1.25" fill="#172745"/>
<circle cx="310.00" cy="180.40" r="1.25" fill="#172745"/>
<circle cx="313.85" cy="181.71" r="1.25" fill="#172745"/>
<circle cx="314.55" cy="179.77" r="1.25" fill="#172745"/>
<circle cx="308.25" cy="179.27" r="1.25" fill="#172745"/>
<circle cx="316.65" cy="179.21" r="1.25" fill="#172745"/>
<circle cx="311.40" cy="178.85" r="1.25" fill="#172745"/>
<circle cx="312.10" cy="184.18" r="1.25" fill="#172745"/>
<circle cx="310.00" cy="184.68" r="1.25" fill="#172745"/>
<circle cx="312.10" cy="176.15" r="1.25" fill="#172745"/>
<circle cx="312.10" cy="186.36" r="1.25" fill="#172745"/>
<circle cx="314.20" cy="175.32" r="1.25" fill="#172745"/>
<circle cx="310.70" cy="174.47" r="1.25" fill="#172745"/>
<circle cx="313.50" cy="188.00" r="1.25" fill="#172745"/>
<circle cx="312.10" cy="189.78" r="1.25" fill="#172745"/>
<circle cx="314.20" cy="189.99" r="1.25" fill="#172745"/>
<circle cx="310.35" cy="191.00" r="1.25" fill="#172745"/>
<circle cx="312.10" cy="170.05" r="1.25" fill="#172745"/>
<circle cx="310.00" cy="169.78" r="1.25" fill="#172745"/>
<circle cx="314.20" cy="169.30" r="1.25" fill="#172745"/>
<circle cx="323.10" cy="179.17" r="1.25" fill="#8c191d"/>
<circle cx="321.35" cy="177.77" r="1.25" fill="#8c191d"/>
<circle cx="324.85" cy="177.75" r="1.25" fill="#8c191d"/>
<circle cx="326.95" cy="177.65" r="1.25" fill="#8c191d"/>
<circle cx="319.25" cy="176.92" r="1.25" fill="#8c191d"/>
<circle cx="323.10" cy="175.16" r="1.25" fill="#8c191d"/>
<circle cx="321.00" cy="175.11" r="1.25" fill="#8c191d"/>
<circle cx="323.10" cy="185.21" r="1.25" fill="#8c191d"/>
<circle cx="321.00" cy="185.98" r="1.25" fill="#8c191d"/>
<circle cx="324.85" cy="174.07" r="1.25" fill="#8c191d"/>
<circle cx="324.85" cy="186.22" r="1.25" fill="#8c191d"/>
<circle cx="326.95" cy="186.88" r="1.25" fill="#8c191d"/>
<circle cx="323.10" cy="188.70" r="1.25" fill="#8c191d"/>
<circle cx="324.50" cy="190.38" r="1.25" fill="#8c191d"/>
<circle cx="323.10" cy="169.42" r="1.25" fill="#8c191d"/>
<circle cx="322.40" cy="191.28" r="1.25" fill="#8c191d"/>
<circle cx="321.00" cy="168.83" r="1.25" fill="#8c191d"/>
<circle cx="324.85" cy="168.40" r="1.25" fill="#8c191d"/>
<circle cx="323.45" cy="193.05" r="1.25" fill="#8c191d"/>
<circle cx="323.10" cy="203.60" r="1.25" fill="#8c191d"/>
<line x1="306.90" y1="181.50" x2="317.30" y2="181.50" stroke="#111" stroke-width="1.0" />
<line x1="317.90" y1="180.50" x2="328.30" y2="180.50" stroke="#111" stroke-width="1.0" />
<line x1="374.50" y1="136.00" x2="374.50" y2="208.10" stroke="#1a1a1a" stroke-width="1.25" />
<line x1="373.90" y1="207.50" x2="476.40" y2="207.50" stroke="#1a1a1a" stroke-width="1.25" />
<line x1="372.10" y1="139.80" x2="374.40" y2="139.80" stroke="#222" stroke-width="1.0" />
<text x="366.20" y="141.80" font-size="5.8" text-anchor="end" fill="#333" stroke="#333" stroke-width="0.24">10</text>
<text x="366.60" y="138.80" font-size="3.6" text-anchor="start" fill="#333">5</text>
<line x1="372.10" y1="156.73" x2="374.40" y2="156.73" stroke="#222" stroke-width="1.0" />
<text x="366.20" y="158.73" font-size="5.8" text-anchor="end" fill="#333" stroke="#333" stroke-width="0.24">10</text>
<text x="366.60" y="155.73" font-size="3.6" text-anchor="start" fill="#333">4</text>
<line x1="372.10" y1="173.65" x2="374.40" y2="173.65" stroke="#222" stroke-width="1.0" />
<text x="366.20" y="175.65" font-size="5.8" text-anchor="end" fill="#333" stroke="#333" stroke-width="0.24">10</text>
<text x="366.60" y="172.65" font-size="3.6" text-anchor="start" fill="#333">3</text>
<line x1="372.10" y1="190.57" x2="374.40" y2="190.57" stroke="#222" stroke-width="1.0" />
<text x="366.20" y="192.57" font-size="5.8" text-anchor="end" fill="#333" stroke="#333" stroke-width="0.24">10</text>
<text x="366.60" y="189.57" font-size="3.6" text-anchor="start" fill="#333">2</text>
<line x1="372.10" y1="207.50" x2="374.40" y2="207.50" stroke="#222" stroke-width="1.0" />
<text x="366.20" y="209.50" font-size="5.8" text-anchor="end" fill="#333" stroke="#333" stroke-width="0.24">10</text>
<text x="366.60" y="206.50" font-size="3.6" text-anchor="start" fill="#333">1</text>
<line x1="388.80" y1="207.50" x2="388.80" y2="209.90" stroke="#222" stroke-width="1.0" />
<text x="388.80" y="218.60" font-size="6.5" text-anchor="middle" fill="#333" stroke="#333" stroke-width="0.22">3</text>
<line x1="413.10" y1="207.50" x2="413.10" y2="209.90" stroke="#222" stroke-width="1.0" />
<text x="413.10" y="218.60" font-size="6.5" text-anchor="middle" fill="#333" stroke="#333" stroke-width="0.22">6</text>
<line x1="437.40" y1="207.50" x2="437.40" y2="209.90" stroke="#222" stroke-width="1.0" />
<text x="437.40" y="218.60" font-size="6.5" text-anchor="middle" fill="#333" stroke="#333" stroke-width="0.22">9</text>
<line x1="461.70" y1="207.50" x2="461.70" y2="209.90" stroke="#222" stroke-width="1.0" />
<text x="461.70" y="218.60" font-size="6.5" text-anchor="middle" fill="#333" textLength="6.4" lengthAdjust="spacingAndGlyphs" stroke="#333" stroke-width="0.22">12</text>
<text x="425.40" y="130.60" font-size="8.8" text-anchor="middle" fill="#333" textLength="19.2" lengthAdjust="spacingAndGlyphs" stroke="#333" stroke-width="0.18">BAFF</text>
<text x="425.40" y="229.80" font-size="8.6" text-anchor="middle" fill="#333" font-weight="bold" textLength="18.3" lengthAdjust="spacingAndGlyphs" stroke="#333" stroke-width="0.2" style="font-style:italic;">Months</text>
<text x="0" y="0" font-size="7.9" text-anchor="middle" fill="#333" stroke="#333" stroke-width="0.25" textLength="16.6" lengthAdjust="spacingAndGlyphs" transform="translate(353.60,171.30) rotate(-90)">pg/mL</text>
<circle cx="383.30" cy="169.90" r="1.2" fill="#172745"/>
<circle cx="381.55" cy="168.60" r="1.2" fill="#172745"/>
<circle cx="383.30" cy="167.28" r="1.2" fill="#172745"/>
<circle cx="381.90" cy="171.50" r="1.2" fill="#172745"/>
<circle cx="385.40" cy="166.73" r="1.2" fill="#172745"/>
<circle cx="381.20" cy="166.61" r="1.2" fill="#172745"/>
<circle cx="387.50" cy="166.42" r="1.2" fill="#172745"/>
<circle cx="384.00" cy="172.21" r="1.2" fill="#172745"/>
<circle cx="386.10" cy="172.36" r="1.2" fill="#172745"/>
<circle cx="380.15" cy="172.55" r="1.2" fill="#172745"/>
<circle cx="387.85" cy="173.35" r="1.2" fill="#172745"/>
<circle cx="383.30" cy="164.71" r="1.2" fill="#172745"/>
<circle cx="381.20" cy="164.68" r="1.2" fill="#172745"/>
<circle cx="385.40" cy="164.20" r="1.2" fill="#172745"/>
<circle cx="387.50" cy="164.08" r="1.2" fill="#172745"/>
<circle cx="379.10" cy="163.94" r="1.2" fill="#172745"/>
<circle cx="378.96" cy="163.72" r="1.2" fill="#172745"/>
<circle cx="383.30" cy="175.37" r="1.2" fill="#172745"/>
<circle cx="382.32" cy="163.18" r="1.2" fill="#172745"/>
<circle cx="383.30" cy="161.27" r="1.2" fill="#172745"/>
<circle cx="383.30" cy="180.00" r="1.2" fill="#172745"/>
<circle cx="383.30" cy="158.50" r="1.2" fill="#172745"/>
<circle cx="394.30" cy="168.90" r="1.2" fill="#8c191d"/>
<circle cx="394.30" cy="171.40" r="1.2" fill="#8c191d"/>
<circle cx="396.40" cy="171.41" r="1.2" fill="#8c191d"/>
<circle cx="392.20" cy="171.69" r="1.2" fill="#8c191d"/>
<circle cx="398.50" cy="171.74" r="1.2" fill="#8c191d"/>
<circle cx="390.10" cy="171.94" r="1.2" fill="#8c191d"/>
<circle cx="394.30" cy="164.84" r="1.2" fill="#8c191d"/>
<circle cx="392.20" cy="164.71" r="1.2" fill="#8c191d"/>
<circle cx="396.40" cy="164.11" r="1.2" fill="#8c191d"/>
<circle cx="390.45" cy="163.80" r="1.2" fill="#8c191d"/>
<circle cx="398.15" cy="163.22" r="1.2" fill="#8c191d"/>
<circle cx="390.25" cy="163.12" r="1.2" fill="#8c191d"/>
<circle cx="394.30" cy="162.91" r="1.2" fill="#8c191d"/>
<circle cx="394.30" cy="173.99" r="1.2" fill="#8c191d"/>
<circle cx="396.40" cy="174.36" r="1.2" fill="#8c191d"/>
<circle cx="392.55" cy="162.04" r="1.2" fill="#8c191d"/>
<circle cx="395.70" cy="161.35" r="1.2" fill="#8c191d"/>
<circle cx="393.95" cy="160.55" r="1.2" fill="#8c191d"/>
<circle cx="394.30" cy="176.28" r="1.2" fill="#8c191d"/>
<circle cx="391.50" cy="160.39" r="1.2" fill="#8c191d"/>
<circle cx="392.20" cy="177.03" r="1.2" fill="#8c191d"/>
<circle cx="395.00" cy="158.84" r="1.2" fill="#8c191d"/>
<circle cx="394.30" cy="179.73" r="1.2" fill="#8c191d"/>
<circle cx="394.30" cy="154.60" r="1.2" fill="#8c191d"/>
<circle cx="394.30" cy="184.59" r="1.2" fill="#8c191d"/>
<circle cx="392.20" cy="185.00" r="1.2" fill="#8c191d"/>
<line x1="378.10" y1="169.50" x2="388.50" y2="169.50" stroke="#111" stroke-width="1.0" />
<line x1="389.10" y1="168.50" x2="399.50" y2="168.50" stroke="#111" stroke-width="1.0" />
<circle cx="407.60" cy="172.57" r="1.2" fill="#172745"/>
<circle cx="405.50" cy="172.64" r="1.2" fill="#172745"/>
<circle cx="409.70" cy="172.71" r="1.2" fill="#172745"/>
<circle cx="407.60" cy="169.77" r="1.2" fill="#172745"/>
<circle cx="411.80" cy="173.29" r="1.2" fill="#172745"/>
<circle cx="403.40" cy="173.34" r="1.2" fill="#172745"/>
<circle cx="405.50" cy="169.25" r="1.2" fill="#172745"/>
<circle cx="406.91" cy="174.00" r="1.2" fill="#172745"/>
<circle cx="408.65" cy="175.23" r="1.2" fill="#172745"/>
<circle cx="405.85" cy="175.71" r="1.2" fill="#172745"/>
<circle cx="407.60" cy="166.47" r="1.2" fill="#172745"/>
<circle cx="409.70" cy="166.28" r="1.2" fill="#172745"/>
<circle cx="405.50" cy="166.05" r="1.2" fill="#172745"/>
<circle cx="403.40" cy="166.01" r="1.2" fill="#172745"/>
<circle cx="411.45" cy="165.47" r="1.2" fill="#172745"/>
<circle cx="410.47" cy="165.08" r="1.2" fill="#172745"/>
<circle cx="407.60" cy="163.21" r="1.2" fill="#172745"/>
<circle cx="409.70" cy="162.50" r="1.2" fill="#172745"/>
<circle cx="407.60" cy="181.14" r="1.2" fill="#172745"/>
<circle cx="409.70" cy="181.28" r="1.2" fill="#172745"/>
<circle cx="406.55" cy="182.79" r="1.2" fill="#172745"/>
<circle cx="408.65" cy="183.00" r="1.2" fill="#172745"/>
<circle cx="418.60" cy="171.14" r="1.2" fill="#8c191d"/>
<circle cx="420.70" cy="171.14" r="1.2" fill="#8c191d"/>
<circle cx="416.50" cy="171.63" r="1.2" fill="#8c191d"/>
<circle cx="414.75" cy="170.39" r="1.2" fill="#8c191d"/>
<circle cx="422.45" cy="170.19" r="1.2" fill="#8c191d"/>
<circle cx="422.10" cy="172.50" r="1.2" fill="#8c191d"/>
<circle cx="418.04" cy="169.95" r="1.2" fill="#8c191d"/>
<circle cx="420.00" cy="169.20" r="1.2" fill="#8c191d"/>
<circle cx="418.60" cy="167.88" r="1.2" fill="#8c191d"/>
<circle cx="420.70" cy="167.34" r="1.2" fill="#8c191d"/>
<circle cx="416.85" cy="166.84" r="1.2" fill="#8c191d"/>
<circle cx="414.75" cy="166.82" r="1.2" fill="#8c191d"/>
<circle cx="418.60" cy="176.24" r="1.2" fill="#8c191d"/>
<circle cx="420.70" cy="176.57" r="1.2" fill="#8c191d"/>
<circle cx="418.60" cy="165.41" r="1.2" fill="#8c191d"/>
<circle cx="417.20" cy="177.75" r="1.2" fill="#8c191d"/>
<circle cx="420.70" cy="164.84" r="1.2" fill="#8c191d"/>
<circle cx="416.50" cy="164.66" r="1.2" fill="#8c191d"/>
<circle cx="419.30" cy="178.04" r="1.2" fill="#8c191d"/>
<circle cx="414.75" cy="163.63" r="1.2" fill="#8c191d"/>
<circle cx="418.95" cy="163.50" r="1.2" fill="#8c191d"/>
<circle cx="418.60" cy="187.79" r="1.2" fill="#8c191d"/>
<circle cx="418.60" cy="189.89" r="1.2" fill="#8c191d"/>
<circle cx="418.60" cy="191.90" r="1.2" fill="#8c191d"/>
<line x1="402.40" y1="171.50" x2="412.80" y2="171.50" stroke="#111" stroke-width="1.0" />
<line x1="413.40" y1="171.50" x2="423.80" y2="171.50" stroke="#111" stroke-width="1.0" />
<circle cx="431.90" cy="173.46" r="1.2" fill="#172745"/>
<circle cx="434.00" cy="173.46" r="1.2" fill="#172745"/>
<circle cx="429.80" cy="172.75" r="1.2" fill="#172745"/>
<circle cx="428.05" cy="173.99" r="1.2" fill="#172745"/>
<circle cx="435.75" cy="172.30" r="1.2" fill="#172745"/>
<circle cx="428.05" cy="171.92" r="1.2" fill="#172745"/>
<circle cx="432.60" cy="171.65" r="1.2" fill="#172745"/>
<circle cx="427.25" cy="171.60" r="1.2" fill="#172745"/>
<circle cx="428.01" cy="171.21" r="1.2" fill="#172745"/>
<circle cx="431.90" cy="175.41" r="1.2" fill="#172745"/>
<circle cx="427.07" cy="171.04" r="1.2" fill="#172745"/>
<circle cx="433.49" cy="171.02" r="1.2" fill="#172745"/>
<circle cx="429.80" cy="175.75" r="1.2" fill="#172745"/>
<circle cx="430.85" cy="170.68" r="1.2" fill="#172745"/>
<circle cx="434.00" cy="176.05" r="1.2" fill="#172745"/>
<circle cx="435.05" cy="169.71" r="1.2" fill="#172745"/>
<circle cx="431.90" cy="178.82" r="1.2" fill="#172745"/>
<circle cx="433.65" cy="180.05" r="1.2" fill="#172745"/>
<circle cx="430.50" cy="180.16" r="1.2" fill="#172745"/>
<circle cx="431.90" cy="164.40" r="1.2" fill="#172745"/>
<circle cx="431.90" cy="182.32" r="1.2" fill="#172745"/>
<circle cx="434.00" cy="183.00" r="1.2" fill="#172745"/>
<circle cx="442.90" cy="173.76" r="1.2" fill="#8c191d"/>
<circle cx="441.15" cy="172.75" r="1.2" fill="#8c191d"/>
<circle cx="445.00" cy="174.46" r="1.2" fill="#8c191d"/>
<circle cx="441.15" cy="174.85" r="1.2" fill="#8c191d"/>
<circle cx="439.05" cy="175.26" r="1.2" fill="#8c191d"/>
<circle cx="442.90" cy="171.19" r="1.2" fill="#8c191d"/>
<circle cx="445.00" cy="170.87" r="1.2" fill="#8c191d"/>
<circle cx="442.90" cy="176.02" r="1.2" fill="#8c191d"/>
<circle cx="440.80" cy="170.58" r="1.2" fill="#8c191d"/>
<circle cx="446.40" cy="176.03" r="1.2" fill="#8c191d"/>
<circle cx="438.82" cy="176.46" r="1.2" fill="#8c191d"/>
<circle cx="446.75" cy="169.84" r="1.2" fill="#8c191d"/>
<circle cx="441.85" cy="177.80" r="1.2" fill="#8c191d"/>
<circle cx="442.90" cy="167.22" r="1.2" fill="#8c191d"/>
<circle cx="440.80" cy="166.74" r="1.2" fill="#8c191d"/>
<circle cx="442.90" cy="180.44" r="1.2" fill="#8c191d"/>
<circle cx="442.20" cy="165.37" r="1.2" fill="#8c191d"/>
<circle cx="444.30" cy="164.85" r="1.2" fill="#8c191d"/>
<circle cx="440.10" cy="164.61" r="1.2" fill="#8c191d"/>
<circle cx="446.40" cy="164.37" r="1.2" fill="#8c191d"/>
<circle cx="438.00" cy="164.00" r="1.2" fill="#8c191d"/>
<circle cx="442.90" cy="183.36" r="1.2" fill="#8c191d"/>
<circle cx="445.00" cy="183.73" r="1.2" fill="#8c191d"/>
<circle cx="442.90" cy="162.50" r="1.2" fill="#8c191d"/>
<circle cx="442.90" cy="186.18" r="1.2" fill="#8c191d"/>
<circle cx="444.65" cy="187.00" r="1.2" fill="#8c191d"/>
<line x1="426.70" y1="173.50" x2="437.10" y2="173.50" stroke="#111" stroke-width="1.0" />
<line x1="437.70" y1="173.50" x2="448.10" y2="173.50" stroke="#111" stroke-width="1.0" />
<circle cx="456.20" cy="172.17" r="1.2" fill="#172745"/>
<circle cx="454.10" cy="172.59" r="1.2" fill="#172745"/>
<circle cx="458.30" cy="171.58" r="1.2" fill="#172745"/>
<circle cx="452.35" cy="171.48" r="1.2" fill="#172745"/>
<circle cx="457.25" cy="173.84" r="1.2" fill="#172745"/>
<circle cx="456.20" cy="170.05" r="1.2" fill="#172745"/>
<circle cx="454.10" cy="169.63" r="1.2" fill="#172745"/>
<circle cx="456.20" cy="175.71" r="1.2" fill="#172745"/>
<circle cx="457.60" cy="168.60" r="1.2" fill="#172745"/>
<circle cx="456.20" cy="166.89" r="1.2" fill="#172745"/>
<circle cx="454.10" cy="166.84" r="1.2" fill="#172745"/>
<circle cx="458.30" cy="166.78" r="1.2" fill="#172745"/>
<circle cx="456.20" cy="177.93" r="1.2" fill="#172745"/>
<circle cx="452.35" cy="166.05" r="1.2" fill="#172745"/>
<circle cx="460.40" cy="166.02" r="1.2" fill="#172745"/>
<circle cx="454.45" cy="178.79" r="1.2" fill="#172745"/>
<circle cx="456.15" cy="165.59" r="1.2" fill="#172745"/>
<circle cx="451.46" cy="165.15" r="1.2" fill="#172745"/>
<circle cx="456.20" cy="163.50" r="1.2" fill="#172745"/>
<circle cx="456.20" cy="183.62" r="1.2" fill="#172745"/>
<circle cx="456.20" cy="189.43" r="1.2" fill="#172745"/>
<circle cx="454.10" cy="190.00" r="1.2" fill="#172745"/>
<circle cx="467.20" cy="172.53" r="1.2" fill="#8c191d"/>
<circle cx="465.10" cy="172.71" r="1.2" fill="#8c191d"/>
<circle cx="469.30" cy="173.10" r="1.2" fill="#8c191d"/>
<circle cx="468.60" cy="171.09" r="1.2" fill="#8c191d"/>
<circle cx="463.35" cy="173.75" r="1.2" fill="#8c191d"/>
<circle cx="471.05" cy="173.98" r="1.2" fill="#8c191d"/>
<circle cx="466.50" cy="174.40" r="1.2" fill="#8c191d"/>
<circle cx="466.85" cy="170.01" r="1.2" fill="#8c191d"/>
<circle cx="464.75" cy="169.69" r="1.2" fill="#8c191d"/>
<circle cx="469.30" cy="169.28" r="1.2" fill="#8c191d"/>
<circle cx="468.25" cy="175.58" r="1.2" fill="#8c191d"/>
<circle cx="465.10" cy="175.93" r="1.2" fill="#8c191d"/>
<circle cx="470.00" cy="176.47" r="1.2" fill="#8c191d"/>
<circle cx="467.20" cy="167.95" r="1.2" fill="#8c191d"/>
<circle cx="465.10" cy="167.59" r="1.2" fill="#8c191d"/>
<circle cx="468.95" cy="166.64" r="1.2" fill="#8c191d"/>
<circle cx="463.35" cy="166.46" r="1.2" fill="#8c191d"/>
<circle cx="467.20" cy="165.38" r="1.2" fill="#8c191d"/>
<circle cx="465.10" cy="165.30" r="1.2" fill="#8c191d"/>
<circle cx="468.95" cy="164.47" r="1.2" fill="#8c191d"/>
<circle cx="466.50" cy="163.50" r="1.2" fill="#8c191d"/>
<circle cx="467.20" cy="181.29" r="1.2" fill="#8c191d"/>
<circle cx="469.30" cy="181.74" r="1.2" fill="#8c191d"/>
<circle cx="465.10" cy="182.00" r="1.2" fill="#8c191d"/>
<line x1="451.00" y1="172.50" x2="461.40" y2="172.50" stroke="#111" stroke-width="1.0" />
<line x1="462.00" y1="172.50" x2="472.40" y2="172.50" stroke="#111" stroke-width="1.0" />
<line x1="34.50" y1="263.60" x2="34.50" y2="327.10" stroke="#1a1a1a" stroke-width="1.25" />
<line x1="33.90" y1="326.50" x2="125.60" y2="326.50" stroke="#1a1a1a" stroke-width="1.25" />
<line x1="32.30" y1="266.80" x2="34.60" y2="266.80" stroke="#222" stroke-width="1.0" />
<text x="26.40" y="268.80" font-size="5.8" text-anchor="end" fill="#333" stroke="#333" stroke-width="0.24">10</text>
<text x="26.80" y="265.80" font-size="3.6" text-anchor="start" fill="#333">5</text>
<line x1="32.30" y1="281.90" x2="34.60" y2="281.90" stroke="#222" stroke-width="1.0" />
<text x="26.40" y="283.90" font-size="5.8" text-anchor="end" fill="#333" stroke="#333" stroke-width="0.24">10</text>
<text x="26.80" y="280.90" font-size="3.6" text-anchor="start" fill="#333">4</text>
<line x1="32.30" y1="297.00" x2="34.60" y2="297.00" stroke="#222" stroke-width="1.0" />
<text x="26.40" y="299.00" font-size="5.8" text-anchor="end" fill="#333" stroke="#333" stroke-width="0.24">10</text>
<text x="26.80" y="296.00" font-size="3.6" text-anchor="start" fill="#333">3</text>
<line x1="32.30" y1="312.10" x2="34.60" y2="312.10" stroke="#222" stroke-width="1.0" />
<text x="26.40" y="314.10" font-size="5.8" text-anchor="end" fill="#333" stroke="#333" stroke-width="0.24">10</text>
<text x="26.80" y="311.10" font-size="3.6" text-anchor="start" fill="#333">2</text>
<line x1="32.30" y1="327.20" x2="34.60" y2="327.20" stroke="#222" stroke-width="1.0" />
<text x="26.40" y="329.20" font-size="5.8" text-anchor="end" fill="#333" stroke="#333" stroke-width="0.24">10</text>
<text x="26.80" y="326.20" font-size="3.6" text-anchor="start" fill="#333">1</text>
<line x1="47.20" y1="327.20" x2="47.20" y2="329.60" stroke="#222" stroke-width="1.0" />
<text x="47.20" y="338.80" font-size="6.5" text-anchor="middle" fill="#333" stroke="#333" stroke-width="0.22">3</text>
<line x1="68.85" y1="327.20" x2="68.85" y2="329.60" stroke="#222" stroke-width="1.0" />
<text x="68.85" y="338.80" font-size="6.5" text-anchor="middle" fill="#333" stroke="#333" stroke-width="0.22">6</text>
<line x1="90.50" y1="327.20" x2="90.50" y2="329.60" stroke="#222" stroke-width="1.0" />
<text x="90.50" y="338.80" font-size="6.5" text-anchor="middle" fill="#333" stroke="#333" stroke-width="0.22">9</text>
<line x1="112.15" y1="327.20" x2="112.15" y2="329.60" stroke="#222" stroke-width="1.0" />
<text x="112.15" y="338.80" font-size="6.5" text-anchor="middle" fill="#333" textLength="6.4" lengthAdjust="spacingAndGlyphs" stroke="#333" stroke-width="0.22">12</text>
<text x="80.00" y="253.80" font-size="8.8" text-anchor="middle" fill="#333" textLength="63" lengthAdjust="spacingAndGlyphs" stroke="#333" stroke-width="0.18">ST2: AGVHD II-IV</text>
<text x="80.10" y="349.80" font-size="8.6" text-anchor="middle" fill="#333" font-weight="bold" textLength="18.3" lengthAdjust="spacingAndGlyphs" stroke="#333" stroke-width="0.2">Months</text>
<text x="0" y="0" font-size="7.9" text-anchor="middle" fill="#333" stroke="#333" stroke-width="0.25" textLength="16.6" lengthAdjust="spacingAndGlyphs" transform="translate(13.10,295.20) rotate(-90)">pg/mL</text>
<circle cx="42.20" cy="302.54" r="0.85" fill="#aeaeb6"/>
<circle cx="44.30" cy="302.64" r="0.85" fill="#aeaeb6"/>
<circle cx="40.10" cy="303.20" r="0.85" fill="#aeaeb6"/>
<circle cx="42.20" cy="300.36" r="0.85" fill="#aeaeb6"/>
<circle cx="46.40" cy="303.48" r="0.85" fill="#aeaeb6"/>
<circle cx="44.30" cy="299.77" r="0.85" fill="#aeaeb6"/>
<circle cx="40.45" cy="298.92" r="0.85" fill="#aeaeb6"/>
<circle cx="42.20" cy="304.97" r="0.85" fill="#aeaeb6"/>
<circle cx="43.95" cy="306.05" r="0.85" fill="#aeaeb6"/>
<circle cx="41.50" cy="306.93" r="0.85" fill="#aeaeb6"/>
<circle cx="42.20" cy="296.66" r="0.85" fill="#aeaeb6"/>
<circle cx="39.40" cy="307.25" r="0.85" fill="#aeaeb6"/>
<circle cx="45.35" cy="307.59" r="0.85" fill="#aeaeb6"/>
<circle cx="40.10" cy="296.04" r="0.85" fill="#aeaeb6"/>
<circle cx="43.95" cy="295.28" r="0.85" fill="#aeaeb6"/>
<circle cx="42.20" cy="310.79" r="0.85" fill="#aeaeb6"/>
<circle cx="44.30" cy="310.94" r="0.85" fill="#aeaeb6"/>
<circle cx="40.10" cy="311.00" r="0.85" fill="#aeaeb6"/>
<circle cx="42.20" cy="289.90" r="0.85" fill="#aeaeb6"/>
<circle cx="42.20" cy="281.00" r="0.85" fill="#aeaeb6"/>
<circle cx="52.20" cy="297.19" r="0.95" fill="#e48c12"/>
<circle cx="54.30" cy="297.27" r="0.95" fill="#e48c12"/>
<circle cx="50.10" cy="297.30" r="0.95" fill="#e48c12"/>
<circle cx="56.40" cy="296.55" r="0.95" fill="#e48c12"/>
<circle cx="48.35" cy="295.97" r="0.95" fill="#e48c12"/>
<circle cx="52.95" cy="295.55" r="0.95" fill="#e48c12"/>
<circle cx="55.59" cy="295.49" r="0.95" fill="#e48c12"/>
<circle cx="50.80" cy="294.67" r="0.95" fill="#e48c12"/>
<circle cx="52.20" cy="299.55" r="0.95" fill="#e48c12"/>
<circle cx="49.91" cy="294.18" r="0.95" fill="#e48c12"/>
<circle cx="49.52" cy="293.91" r="0.95" fill="#e48c12"/>
<circle cx="50.10" cy="300.23" r="0.95" fill="#e48c12"/>
<circle cx="53.95" cy="300.72" r="0.95" fill="#e48c12"/>
<circle cx="52.20" cy="292.94" r="0.95" fill="#e48c12"/>
<circle cx="54.30" cy="292.48" r="0.95" fill="#e48c12"/>
<circle cx="52.20" cy="303.21" r="0.95" fill="#e48c12"/>
<circle cx="54.30" cy="303.44" r="0.95" fill="#e48c12"/>
<circle cx="52.20" cy="290.07" r="0.95" fill="#e48c12"/>
<circle cx="50.10" cy="303.94" r="0.95" fill="#e48c12"/>
<circle cx="56.40" cy="304.22" r="0.95" fill="#e48c12"/>
<circle cx="54.30" cy="289.00" r="0.95" fill="#e48c12"/>
<circle cx="52.20" cy="305.30" r="0.95" fill="#e48c12"/>
<circle cx="48.35" cy="305.36" r="0.95" fill="#e48c12"/>
<circle cx="52.20" cy="309.30" r="0.95" fill="#e48c12"/>
<circle cx="52.20" cy="273.90" r="0.95" fill="#e48c12"/>
<line x1="37.00" y1="301.50" x2="47.40" y2="301.50" stroke="#1a1a1a" stroke-width="1.2" />
<line x1="47.00" y1="297.50" x2="57.40" y2="297.50" stroke="#1a1a1a" stroke-width="1.2" />
<circle cx="63.85" cy="300.14" r="0.85" fill="#aeaeb6"/>
<circle cx="61.75" cy="299.49" r="0.85" fill="#aeaeb6"/>
<circle cx="65.95" cy="300.75" r="0.85" fill="#aeaeb6"/>
<circle cx="62.10" cy="301.53" r="0.85" fill="#aeaeb6"/>
<circle cx="60.00" cy="301.89" r="0.85" fill="#aeaeb6"/>
<circle cx="67.70" cy="301.91" r="0.85" fill="#aeaeb6"/>
<circle cx="66.91" cy="301.96" r="0.85" fill="#aeaeb6"/>
<circle cx="63.85" cy="298.02" r="0.85" fill="#aeaeb6"/>
<circle cx="65.95" cy="297.84" r="0.85" fill="#aeaeb6"/>
<circle cx="64.20" cy="302.51" r="0.85" fill="#aeaeb6"/>
<circle cx="60.70" cy="297.62" r="0.85" fill="#aeaeb6"/>
<circle cx="62.80" cy="304.07" r="0.85" fill="#aeaeb6"/>
<circle cx="64.90" cy="304.53" r="0.85" fill="#aeaeb6"/>
<circle cx="63.85" cy="295.32" r="0.85" fill="#aeaeb6"/>
<circle cx="61.40" cy="305.80" r="0.85" fill="#aeaeb6"/>
<circle cx="63.85" cy="290.70" r="0.85" fill="#aeaeb6"/>
<circle cx="73.85" cy="296.59" r="0.95" fill="#e48c12"/>
<circle cx="75.95" cy="296.29" r="0.95" fill="#e48c12"/>
<circle cx="71.75" cy="297.54" r="0.95" fill="#e48c12"/>
<circle cx="77.70" cy="297.76" r="0.95" fill="#e48c12"/>
<circle cx="75.25" cy="298.34" r="0.95" fill="#e48c12"/>
<circle cx="69.65" cy="298.47" r="0.95" fill="#e48c12"/>
<circle cx="71.36" cy="298.71" r="0.95" fill="#e48c12"/>
<circle cx="73.85" cy="294.45" r="0.95" fill="#e48c12"/>
<circle cx="75.95" cy="294.12" r="0.95" fill="#e48c12"/>
<circle cx="71.75" cy="294.03" r="0.95" fill="#e48c12"/>
<circle cx="77.41" cy="299.39" r="0.95" fill="#e48c12"/>
<circle cx="73.50" cy="299.53" r="0.95" fill="#e48c12"/>
<circle cx="73.67" cy="299.53" r="0.95" fill="#e48c12"/>
<circle cx="69.78" cy="299.62" r="0.95" fill="#e48c12"/>
<circle cx="78.05" cy="293.10" r="0.95" fill="#e48c12"/>
<circle cx="70.00" cy="292.66" r="0.95" fill="#e48c12"/>
<circle cx="73.85" cy="292.33" r="0.95" fill="#e48c12"/>
<circle cx="75.95" cy="291.81" r="0.95" fill="#e48c12"/>
<circle cx="74.55" cy="301.44" r="0.95" fill="#e48c12"/>
<circle cx="72.45" cy="302.20" r="0.95" fill="#e48c12"/>
<circle cx="73.85" cy="289.38" r="0.95" fill="#e48c12"/>
<circle cx="75.95" cy="288.24" r="0.95" fill="#e48c12"/>
<circle cx="73.15" cy="287.36" r="0.95" fill="#e48c12"/>
<circle cx="71.05" cy="286.30" r="0.95" fill="#e48c12"/>
<circle cx="73.85" cy="308.40" r="0.95" fill="#e48c12"/>
<circle cx="73.85" cy="279.20" r="0.95" fill="#e48c12"/>
<line x1="58.65" y1="300.50" x2="69.05" y2="300.50" stroke="#1a1a1a" stroke-width="1.2" />
<line x1="68.65" y1="296.50" x2="79.05" y2="296.50" stroke="#1a1a1a" stroke-width="1.2" />
<circle cx="85.50" cy="300.33" r="0.85" fill="#aeaeb6"/>
<circle cx="84.10" cy="298.64" r="0.85" fill="#aeaeb6"/>
<circle cx="87.25" cy="301.45" r="0.85" fill="#aeaeb6"/>
<circle cx="83.75" cy="301.48" r="0.85" fill="#aeaeb6"/>
<circle cx="85.85" cy="297.25" r="0.85" fill="#aeaeb6"/>
<circle cx="87.95" cy="297.19" r="0.85" fill="#aeaeb6"/>
<circle cx="89.35" cy="302.36" r="0.85" fill="#aeaeb6"/>
<circle cx="83.75" cy="296.35" r="0.85" fill="#aeaeb6"/>
<circle cx="89.35" cy="295.52" r="0.85" fill="#aeaeb6"/>
<circle cx="85.50" cy="304.11" r="0.85" fill="#aeaeb6"/>
<circle cx="85.50" cy="294.02" r="0.85" fill="#aeaeb6"/>
<circle cx="83.40" cy="293.42" r="0.85" fill="#aeaeb6"/>
<circle cx="87.25" cy="292.91" r="0.85" fill="#aeaeb6"/>
<circle cx="85.50" cy="307.60" r="0.85" fill="#aeaeb6"/>
<circle cx="85.50" cy="288.80" r="0.85" fill="#aeaeb6"/>
<circle cx="85.50" cy="286.30" r="0.85" fill="#aeaeb6"/>
<circle cx="85.50" cy="278.40" r="0.85" fill="#aeaeb6"/>
<circle cx="95.50" cy="291.64" r="0.95" fill="#e48c12"/>
<circle cx="97.25" cy="292.83" r="0.95" fill="#e48c12"/>
<circle cx="93.75" cy="290.27" r="0.95" fill="#e48c12"/>
<circle cx="96.90" cy="289.92" r="0.95" fill="#e48c12"/>
<circle cx="99.00" cy="289.69" r="0.95" fill="#e48c12"/>
<circle cx="95.50" cy="294.65" r="0.95" fill="#e48c12"/>
<circle cx="93.40" cy="294.85" r="0.95" fill="#e48c12"/>
<circle cx="92.00" cy="289.00" r="0.95" fill="#e48c12"/>
<circle cx="94.04" cy="288.90" r="0.95" fill="#e48c12"/>
<circle cx="97.25" cy="295.82" r="0.95" fill="#e48c12"/>
<circle cx="95.50" cy="287.27" r="0.95" fill="#e48c12"/>
<circle cx="95.50" cy="297.04" r="0.95" fill="#e48c12"/>
<circle cx="93.75" cy="298.50" r="0.95" fill="#e48c12"/>
<circle cx="96.90" cy="298.72" r="0.95" fill="#e48c12"/>
<circle cx="99.00" cy="298.97" r="0.95" fill="#e48c12"/>
<circle cx="95.50" cy="285.02" r="0.95" fill="#e48c12"/>
<circle cx="93.40" cy="284.88" r="0.95" fill="#e48c12"/>
<circle cx="91.65" cy="299.46" r="0.95" fill="#e48c12"/>
<circle cx="97.60" cy="284.07" r="0.95" fill="#e48c12"/>
<circle cx="95.50" cy="300.48" r="0.95" fill="#e48c12"/>
<circle cx="93.40" cy="301.36" r="0.95" fill="#e48c12"/>
<circle cx="97.60" cy="301.40" r="0.95" fill="#e48c12"/>
<circle cx="95.50" cy="279.06" r="0.95" fill="#e48c12"/>
<circle cx="97.60" cy="278.40" r="0.95" fill="#e48c12"/>
<circle cx="95.50" cy="305.80" r="0.95" fill="#e48c12"/>
<circle cx="95.50" cy="273.00" r="0.95" fill="#e48c12"/>
<line x1="80.30" y1="299.50" x2="90.70" y2="299.50" stroke="#1a1a1a" stroke-width="1.2" />
<line x1="90.30" y1="292.50" x2="100.70" y2="292.50" stroke="#1a1a1a" stroke-width="1.2" />
<circle cx="107.15" cy="298.67" r="0.85" fill="#aeaeb6"/>
<circle cx="106.10" cy="296.81" r="0.85" fill="#aeaeb6"/>
<circle cx="105.75" cy="300.22" r="0.85" fill="#aeaeb6"/>
<circle cx="108.20" cy="296.22" r="0.85" fill="#aeaeb6"/>
<circle cx="104.00" cy="296.08" r="0.85" fill="#aeaeb6"/>
<circle cx="110.30" cy="295.77" r="0.85" fill="#aeaeb6"/>
<circle cx="107.15" cy="301.81" r="0.85" fill="#aeaeb6"/>
<circle cx="109.25" cy="302.50" r="0.85" fill="#aeaeb6"/>
<circle cx="105.05" cy="302.61" r="0.85" fill="#aeaeb6"/>
<circle cx="107.15" cy="293.43" r="0.85" fill="#aeaeb6"/>
<circle cx="102.95" cy="303.43" r="0.85" fill="#aeaeb6"/>
<circle cx="111.35" cy="303.44" r="0.85" fill="#aeaeb6"/>
<circle cx="105.40" cy="292.05" r="0.85" fill="#aeaeb6"/>
<circle cx="107.15" cy="304.90" r="0.85" fill="#aeaeb6"/>
<circle cx="107.15" cy="290.81" r="0.85" fill="#aeaeb6"/>
<circle cx="107.15" cy="288.00" r="0.85" fill="#aeaeb6"/>
<circle cx="107.15" cy="312.90" r="0.85" fill="#aeaeb6"/>
<circle cx="107.15" cy="274.80" r="0.85" fill="#aeaeb6"/>
<circle cx="117.15" cy="294.99" r="0.95" fill="#e48c12"/>
<circle cx="118.90" cy="296.51" r="0.95" fill="#e48c12"/>
<circle cx="115.75" cy="296.63" r="0.95" fill="#e48c12"/>
<circle cx="113.65" cy="296.65" r="0.95" fill="#e48c12"/>
<circle cx="121.00" cy="296.80" r="0.95" fill="#e48c12"/>
<circle cx="113.63" cy="297.16" r="0.95" fill="#e48c12"/>
<circle cx="116.35" cy="297.56" r="0.95" fill="#e48c12"/>
<circle cx="114.58" cy="297.89" r="0.95" fill="#e48c12"/>
<circle cx="117.15" cy="292.89" r="0.95" fill="#e48c12"/>
<circle cx="121.53" cy="298.12" r="0.95" fill="#e48c12"/>
<circle cx="119.25" cy="292.80" r="0.95" fill="#e48c12"/>
<circle cx="119.59" cy="298.46" r="0.95" fill="#e48c12"/>
<circle cx="115.05" cy="292.26" r="0.95" fill="#e48c12"/>
<circle cx="112.95" cy="299.30" r="0.95" fill="#e48c12"/>
<circle cx="121.00" cy="291.61" r="0.95" fill="#e48c12"/>
<circle cx="112.95" cy="291.56" r="0.95" fill="#e48c12"/>
<circle cx="117.15" cy="299.98" r="0.95" fill="#e48c12"/>
<circle cx="117.15" cy="290.33" r="0.95" fill="#e48c12"/>
<circle cx="115.05" cy="300.84" r="0.95" fill="#e48c12"/>
<circle cx="117.15" cy="302.20" r="0.95" fill="#e48c12"/>
<circle cx="117.15" cy="287.44" r="0.95" fill="#e48c12"/>
<circle cx="115.05" cy="286.97" r="0.95" fill="#e48c12"/>
<circle cx="118.90" cy="285.92" r="0.95" fill="#e48c12"/>
<circle cx="117.15" cy="284.50" r="0.95" fill="#e48c12"/>
<circle cx="117.15" cy="279.20" r="0.95" fill="#e48c12"/>
<circle cx="117.15" cy="314.60" r="0.95" fill="#e48c12"/>
<circle cx="117.15" cy="269.50" r="0.95" fill="#e48c12"/>
<line x1="101.95" y1="298.50" x2="112.35" y2="298.50" stroke="#1a1a1a" stroke-width="1.2" />
<line x1="111.95" y1="295.50" x2="122.35" y2="295.50" stroke="#1a1a1a" stroke-width="1.2" />
<text x="67.60" y="267.00" font-size="6.4" text-anchor="middle" fill="#333" textLength="18.8" lengthAdjust="spacingAndGlyphs"  stroke="#333" stroke-width="0.16">0.0186</text>
<line x1="61.40" y1="269.00" x2="73.80" y2="269.00" stroke="#333" stroke-width="1.0" />
<text x="90.00" y="267.00" font-size="6.4" text-anchor="middle" fill="#333" textLength="18.8" lengthAdjust="spacingAndGlyphs"  stroke="#333" stroke-width="0.16">0.0111</text>
<line x1="84.50" y1="269.00" x2="95.50" y2="269.00" stroke="#333" stroke-width="1.0" />
<line x1="160.50" y1="263.60" x2="160.50" y2="327.10" stroke="#1a1a1a" stroke-width="1.25" />
<line x1="159.90" y1="326.50" x2="251.50" y2="326.50" stroke="#1a1a1a" stroke-width="1.25" />
<line x1="158.20" y1="266.00" x2="160.50" y2="266.00" stroke="#222" stroke-width="1.0" />
<text x="152.30" y="268.00" font-size="5.8" text-anchor="end" fill="#333" stroke="#333" stroke-width="0.24">10</text>
<text x="152.70" y="265.00" font-size="3.6" text-anchor="start" fill="#333">5</text>
<line x1="158.20" y1="278.24" x2="160.50" y2="278.24" stroke="#222" stroke-width="1.0" />
<text x="152.30" y="280.24" font-size="5.8" text-anchor="end" fill="#333" stroke="#333" stroke-width="0.24">10</text>
<text x="152.70" y="277.24" font-size="3.6" text-anchor="start" fill="#333">4</text>
<line x1="158.20" y1="290.48" x2="160.50" y2="290.48" stroke="#222" stroke-width="1.0" />
<text x="152.30" y="292.48" font-size="5.8" text-anchor="end" fill="#333" stroke="#333" stroke-width="0.24">10</text>
<text x="152.70" y="289.48" font-size="3.6" text-anchor="start" fill="#333">3</text>
<line x1="158.20" y1="302.72" x2="160.50" y2="302.72" stroke="#222" stroke-width="1.0" />
<text x="152.30" y="304.72" font-size="5.8" text-anchor="end" fill="#333" stroke="#333" stroke-width="0.24">10</text>
<text x="152.70" y="301.72" font-size="3.6" text-anchor="start" fill="#333">2</text>
<line x1="158.20" y1="314.96" x2="160.50" y2="314.96" stroke="#222" stroke-width="1.0" />
<text x="152.30" y="316.96" font-size="5.8" text-anchor="end" fill="#333" stroke="#333" stroke-width="0.24">10</text>
<text x="152.70" y="313.96" font-size="3.6" text-anchor="start" fill="#333">1</text>
<line x1="158.20" y1="327.20" x2="160.50" y2="327.20" stroke="#222" stroke-width="1.0" />
<text x="152.30" y="329.20" font-size="5.8" text-anchor="end" fill="#333" stroke="#333" stroke-width="0.24">10</text>
<text x="152.70" y="326.20" font-size="3.6" text-anchor="start" fill="#333">0</text>
<line x1="173.10" y1="327.20" x2="173.10" y2="329.60" stroke="#222" stroke-width="1.0" />
<text x="173.10" y="338.80" font-size="6.5" text-anchor="middle" fill="#333" stroke="#333" stroke-width="0.22">3</text>
<line x1="194.75" y1="327.20" x2="194.75" y2="329.60" stroke="#222" stroke-width="1.0" />
<text x="194.75" y="338.80" font-size="6.5" text-anchor="middle" fill="#333" stroke="#333" stroke-width="0.22">6</text>
<line x1="216.40" y1="327.20" x2="216.40" y2="329.60" stroke="#222" stroke-width="1.0" />
<text x="216.40" y="338.80" font-size="6.5" text-anchor="middle" fill="#333" stroke="#333" stroke-width="0.22">9</text>
<line x1="238.05" y1="327.20" x2="238.05" y2="329.60" stroke="#222" stroke-width="1.0" />
<text x="238.05" y="338.80" font-size="6.5" text-anchor="middle" fill="#333" textLength="6.4" lengthAdjust="spacingAndGlyphs" stroke="#333" stroke-width="0.22">12</text>
<text x="206.00" y="253.80" font-size="8.8" text-anchor="middle" fill="#333" textLength="62.8" lengthAdjust="spacingAndGlyphs" stroke="#333" stroke-width="0.18">ST2: CGVHD 2-3</text>
<text x="206.00" y="349.80" font-size="8.6" text-anchor="middle" fill="#333" font-weight="bold" textLength="18.3" lengthAdjust="spacingAndGlyphs" stroke="#333" stroke-width="0.2">Months</text>
<text x="0" y="0" font-size="7.9" text-anchor="middle" fill="#333" stroke="#333" stroke-width="0.25" textLength="16.6" lengthAdjust="spacingAndGlyphs" transform="translate(139.00,295.20) rotate(-90)">pg/mL</text>
<circle cx="168.10" cy="294.30" r="0.85" fill="#aeaeb6"/>
<circle cx="166.00" cy="294.20" r="0.85" fill="#aeaeb6"/>
<circle cx="169.50" cy="292.67" r="0.85" fill="#aeaeb6"/>
<circle cx="168.10" cy="297.09" r="0.85" fill="#aeaeb6"/>
<circle cx="169.50" cy="298.63" r="0.85" fill="#aeaeb6"/>
<circle cx="168.10" cy="289.90" r="0.85" fill="#aeaeb6"/>
<circle cx="167.40" cy="299.45" r="0.85" fill="#aeaeb6"/>
<circle cx="165.30" cy="299.49" r="0.85" fill="#aeaeb6"/>
<circle cx="166.00" cy="288.92" r="0.85" fill="#aeaeb6"/>
<circle cx="168.80" cy="287.97" r="0.85" fill="#aeaeb6"/>
<circle cx="170.90" cy="287.81" r="0.85" fill="#aeaeb6"/>
<circle cx="168.10" cy="301.40" r="0.85" fill="#aeaeb6"/>
<circle cx="168.10" cy="285.86" r="0.85" fill="#aeaeb6"/>
<circle cx="166.35" cy="284.50" r="0.85" fill="#aeaeb6"/>
<circle cx="178.10" cy="294.37" r="0.95" fill="#5e5e9c"/>
<circle cx="176.00" cy="294.09" r="0.95" fill="#5e5e9c"/>
<circle cx="180.20" cy="294.64" r="0.95" fill="#5e5e9c"/>
<circle cx="182.30" cy="293.51" r="0.95" fill="#5e5e9c"/>
<circle cx="174.25" cy="295.47" r="0.95" fill="#5e5e9c"/>
<circle cx="174.25" cy="292.84" r="0.95" fill="#5e5e9c"/>
<circle cx="179.50" cy="292.57" r="0.95" fill="#5e5e9c"/>
<circle cx="177.40" cy="292.36" r="0.95" fill="#5e5e9c"/>
<circle cx="178.10" cy="296.55" r="0.95" fill="#5e5e9c"/>
<circle cx="177.59" cy="291.70" r="0.95" fill="#5e5e9c"/>
<circle cx="180.20" cy="296.92" r="0.95" fill="#5e5e9c"/>
<circle cx="176.77" cy="291.66" r="0.95" fill="#5e5e9c"/>
<circle cx="176.35" cy="298.02" r="0.95" fill="#5e5e9c"/>
<circle cx="178.10" cy="289.33" r="0.95" fill="#5e5e9c"/>
<circle cx="178.10" cy="299.43" r="0.95" fill="#5e5e9c"/>
<circle cx="180.20" cy="299.54" r="0.95" fill="#5e5e9c"/>
<circle cx="178.80" cy="301.40" r="0.95" fill="#5e5e9c"/>
<circle cx="178.10" cy="286.77" r="0.95" fill="#5e5e9c"/>
<circle cx="176.00" cy="286.20" r="0.95" fill="#5e5e9c"/>
<circle cx="180.20" cy="285.72" r="0.95" fill="#5e5e9c"/>
<circle cx="182.30" cy="285.40" r="0.95" fill="#5e5e9c"/>
<circle cx="178.10" cy="277.50" r="0.95" fill="#5e5e9c"/>
<circle cx="178.10" cy="272.20" r="0.95" fill="#5e5e9c"/>
<line x1="162.90" y1="294.50" x2="173.30" y2="294.50" stroke="#1a1a1a" stroke-width="1.2" />
<line x1="172.90" y1="294.50" x2="183.30" y2="294.50" stroke="#1a1a1a" stroke-width="1.2" />
<circle cx="189.75" cy="290.93" r="0.85" fill="#aeaeb6"/>
<circle cx="187.65" cy="290.86" r="0.85" fill="#aeaeb6"/>
<circle cx="191.15" cy="292.67" r="0.85" fill="#aeaeb6"/>
<circle cx="188.70" cy="292.75" r="0.85" fill="#aeaeb6"/>
<circle cx="186.60" cy="293.45" r="0.85" fill="#aeaeb6"/>
<circle cx="193.25" cy="293.54" r="0.85" fill="#aeaeb6"/>
<circle cx="192.47" cy="293.84" r="0.85" fill="#aeaeb6"/>
<circle cx="189.75" cy="288.65" r="0.85" fill="#aeaeb6"/>
<circle cx="189.75" cy="295.65" r="0.85" fill="#aeaeb6"/>
<circle cx="189.75" cy="285.84" r="0.85" fill="#aeaeb6"/>
<circle cx="190.80" cy="283.98" r="0.85" fill="#aeaeb6"/>
<circle cx="189.75" cy="300.08" r="0.85" fill="#aeaeb6"/>
<circle cx="189.05" cy="282.80" r="0.85" fill="#aeaeb6"/>
<circle cx="191.85" cy="300.50" r="0.85" fill="#aeaeb6"/>
<circle cx="199.75" cy="292.32" r="0.95" fill="#5e5e9c"/>
<circle cx="197.65" cy="291.64" r="0.95" fill="#5e5e9c"/>
<circle cx="201.50" cy="293.83" r="0.95" fill="#5e5e9c"/>
<circle cx="201.50" cy="290.83" r="0.95" fill="#5e5e9c"/>
<circle cx="199.75" cy="295.82" r="0.95" fill="#5e5e9c"/>
<circle cx="197.65" cy="296.66" r="0.95" fill="#5e5e9c"/>
<circle cx="201.85" cy="296.70" r="0.95" fill="#5e5e9c"/>
<circle cx="203.95" cy="296.74" r="0.95" fill="#5e5e9c"/>
<circle cx="199.75" cy="288.21" r="0.95" fill="#5e5e9c"/>
<circle cx="195.55" cy="297.13" r="0.95" fill="#5e5e9c"/>
<circle cx="201.85" cy="287.36" r="0.95" fill="#5e5e9c"/>
<circle cx="202.80" cy="297.67" r="0.95" fill="#5e5e9c"/>
<circle cx="202.42" cy="297.71" r="0.95" fill="#5e5e9c"/>
<circle cx="199.75" cy="298.74" r="0.95" fill="#5e5e9c"/>
<circle cx="199.75" cy="285.33" r="0.95" fill="#5e5e9c"/>
<circle cx="201.50" cy="299.95" r="0.95" fill="#5e5e9c"/>
<circle cx="197.65" cy="284.74" r="0.95" fill="#5e5e9c"/>
<circle cx="198.35" cy="300.50" r="0.95" fill="#5e5e9c"/>
<circle cx="199.75" cy="282.93" r="0.95" fill="#5e5e9c"/>
<circle cx="201.85" cy="282.81" r="0.95" fill="#5e5e9c"/>
<circle cx="196.60" cy="282.80" r="0.95" fill="#5e5e9c"/>
<circle cx="199.75" cy="276.60" r="0.95" fill="#5e5e9c"/>
<line x1="184.55" y1="291.50" x2="194.95" y2="291.50" stroke="#1a1a1a" stroke-width="1.2" />
<line x1="194.55" y1="292.50" x2="204.95" y2="292.50" stroke="#1a1a1a" stroke-width="1.2" />
<circle cx="211.40" cy="292.85" r="0.85" fill="#aeaeb6"/>
<circle cx="209.30" cy="292.91" r="0.85" fill="#aeaeb6"/>
<circle cx="213.50" cy="293.54" r="0.85" fill="#aeaeb6"/>
<circle cx="211.40" cy="295.50" r="0.85" fill="#aeaeb6"/>
<circle cx="209.30" cy="295.64" r="0.85" fill="#aeaeb6"/>
<circle cx="212.45" cy="297.36" r="0.85" fill="#aeaeb6"/>
<circle cx="210.35" cy="298.36" r="0.85" fill="#aeaeb6"/>
<circle cx="214.20" cy="298.68" r="0.85" fill="#aeaeb6"/>
<circle cx="208.25" cy="298.70" r="0.85" fill="#aeaeb6"/>
<circle cx="211.40" cy="284.11" r="0.85" fill="#aeaeb6"/>
<circle cx="211.40" cy="275.70" r="0.85" fill="#aeaeb6"/>
<circle cx="221.40" cy="289.10" r="0.95" fill="#5e5e9c"/>
<circle cx="223.50" cy="289.19" r="0.95" fill="#5e5e9c"/>
<circle cx="219.30" cy="289.28" r="0.95" fill="#5e5e9c"/>
<circle cx="218.25" cy="287.46" r="0.95" fill="#5e5e9c"/>
<circle cx="220.35" cy="287.16" r="0.95" fill="#5e5e9c"/>
<circle cx="225.60" cy="290.12" r="0.95" fill="#5e5e9c"/>
<circle cx="217.20" cy="290.27" r="0.95" fill="#5e5e9c"/>
<circle cx="222.45" cy="286.35" r="0.95" fill="#5e5e9c"/>
<circle cx="224.55" cy="285.98" r="0.95" fill="#5e5e9c"/>
<circle cx="220.80" cy="285.70" r="0.95" fill="#5e5e9c"/>
<circle cx="218.60" cy="285.15" r="0.95" fill="#5e5e9c"/>
<circle cx="221.40" cy="292.17" r="0.95" fill="#5e5e9c"/>
<circle cx="222.10" cy="283.93" r="0.95" fill="#5e5e9c"/>
<circle cx="220.00" cy="293.94" r="0.95" fill="#5e5e9c"/>
<circle cx="221.40" cy="281.85" r="0.95" fill="#5e5e9c"/>
<circle cx="219.30" cy="280.95" r="0.95" fill="#5e5e9c"/>
<circle cx="221.40" cy="297.69" r="0.95" fill="#5e5e9c"/>
<circle cx="223.50" cy="298.70" r="0.95" fill="#5e5e9c"/>
<circle cx="221.40" cy="276.60" r="0.95" fill="#5e5e9c"/>
<circle cx="223.50" cy="276.29" r="0.95" fill="#5e5e9c"/>
<circle cx="219.30" cy="275.70" r="0.95" fill="#5e5e9c"/>
<circle cx="221.40" cy="271.80" r="0.95" fill="#5e5e9c"/>
<line x1="206.20" y1="292.50" x2="216.60" y2="292.50" stroke="#1a1a1a" stroke-width="1.2" />
<line x1="216.20" y1="288.50" x2="226.60" y2="288.50" stroke="#1a1a1a" stroke-width="1.2" />
<circle cx="233.05" cy="292.14" r="0.85" fill="#aeaeb6"/>
<circle cx="235.15" cy="292.57" r="0.85" fill="#aeaeb6"/>
<circle cx="233.05" cy="289.19" r="0.85" fill="#aeaeb6"/>
<circle cx="230.95" cy="288.34" r="0.85" fill="#aeaeb6"/>
<circle cx="234.80" cy="287.74" r="0.85" fill="#aeaeb6"/>
<circle cx="236.90" cy="287.74" r="0.85" fill="#aeaeb6"/>
<circle cx="233.05" cy="295.19" r="0.85" fill="#aeaeb6"/>
<circle cx="235.15" cy="295.24" r="0.85" fill="#aeaeb6"/>
<circle cx="229.20" cy="287.26" r="0.85" fill="#aeaeb6"/>
<circle cx="230.95" cy="296.00" r="0.85" fill="#aeaeb6"/>
<circle cx="233.05" cy="281.90" r="0.85" fill="#aeaeb6"/>
<circle cx="233.05" cy="268.60" r="0.85" fill="#aeaeb6"/>
<circle cx="243.05" cy="288.57" r="0.95" fill="#5e5e9c"/>
<circle cx="245.15" cy="289.47" r="0.95" fill="#5e5e9c"/>
<circle cx="243.05" cy="286.36" r="0.95" fill="#5e5e9c"/>
<circle cx="243.05" cy="290.82" r="0.95" fill="#5e5e9c"/>
<circle cx="240.95" cy="290.89" r="0.95" fill="#5e5e9c"/>
<circle cx="246.55" cy="291.15" r="0.95" fill="#5e5e9c"/>
<circle cx="244.80" cy="284.88" r="0.95" fill="#5e5e9c"/>
<circle cx="243.05" cy="283.55" r="0.95" fill="#5e5e9c"/>
<circle cx="240.95" cy="283.53" r="0.95" fill="#5e5e9c"/>
<circle cx="243.05" cy="293.47" r="0.95" fill="#5e5e9c"/>
<circle cx="240.95" cy="293.58" r="0.95" fill="#5e5e9c"/>
<circle cx="244.45" cy="295.04" r="0.95" fill="#5e5e9c"/>
<circle cx="246.55" cy="295.35" r="0.95" fill="#5e5e9c"/>
<circle cx="243.05" cy="280.30" r="0.95" fill="#5e5e9c"/>
<circle cx="243.05" cy="296.94" r="0.95" fill="#5e5e9c"/>
<circle cx="245.15" cy="297.13" r="0.95" fill="#5e5e9c"/>
<circle cx="245.15" cy="279.29" r="0.95" fill="#5e5e9c"/>
<circle cx="240.95" cy="297.75" r="0.95" fill="#5e5e9c"/>
<circle cx="238.85" cy="297.80" r="0.95" fill="#5e5e9c"/>
<circle cx="243.05" cy="274.88" r="0.95" fill="#5e5e9c"/>
<circle cx="244.10" cy="273.00" r="0.95" fill="#5e5e9c"/>
<circle cx="243.05" cy="304.90" r="0.95" fill="#5e5e9c"/>
<line x1="227.85" y1="291.50" x2="238.25" y2="291.50" stroke="#1a1a1a" stroke-width="1.2" />
<line x1="237.85" y1="288.50" x2="248.25" y2="288.50" stroke="#1a1a1a" stroke-width="1.2" />
<line x1="294.50" y1="263.60" x2="294.50" y2="327.10" stroke="#1a1a1a" stroke-width="1.25" />
<line x1="293.90" y1="326.50" x2="385.30" y2="326.50" stroke="#1a1a1a" stroke-width="1.25" />
<line x1="292.00" y1="266.00" x2="294.30" y2="266.00" stroke="#222" stroke-width="1.0" />
<text x="286.10" y="268.00" font-size="5.8" text-anchor="end" fill="#333" stroke="#333" stroke-width="0.24">10</text>
<text x="286.50" y="265.00" font-size="3.6" text-anchor="start" fill="#333">5</text>
<line x1="292.00" y1="281.30" x2="294.30" y2="281.30" stroke="#222" stroke-width="1.0" />
<text x="286.10" y="283.30" font-size="5.8" text-anchor="end" fill="#333" stroke="#333" stroke-width="0.24">10</text>
<text x="286.50" y="280.30" font-size="3.6" text-anchor="start" fill="#333">4</text>
<line x1="292.00" y1="296.60" x2="294.30" y2="296.60" stroke="#222" stroke-width="1.0" />
<text x="286.10" y="298.60" font-size="5.8" text-anchor="end" fill="#333" stroke="#333" stroke-width="0.24">10</text>
<text x="286.50" y="295.60" font-size="3.6" text-anchor="start" fill="#333">3</text>
<line x1="292.00" y1="311.90" x2="294.30" y2="311.90" stroke="#222" stroke-width="1.0" />
<text x="286.10" y="313.90" font-size="5.8" text-anchor="end" fill="#333" stroke="#333" stroke-width="0.24">10</text>
<text x="286.50" y="310.90" font-size="3.6" text-anchor="start" fill="#333">2</text>
<line x1="292.00" y1="327.20" x2="294.30" y2="327.20" stroke="#222" stroke-width="1.0" />
<text x="286.10" y="329.20" font-size="5.8" text-anchor="end" fill="#333" stroke="#333" stroke-width="0.24">10</text>
<text x="286.50" y="326.20" font-size="3.6" text-anchor="start" fill="#333">1</text>
<line x1="306.90" y1="327.20" x2="306.90" y2="329.60" stroke="#222" stroke-width="1.0" />
<text x="306.90" y="338.80" font-size="6.5" text-anchor="middle" fill="#333" stroke="#333" stroke-width="0.22">3</text>
<line x1="328.55" y1="327.20" x2="328.55" y2="329.60" stroke="#222" stroke-width="1.0" />
<text x="328.55" y="338.80" font-size="6.5" text-anchor="middle" fill="#333" stroke="#333" stroke-width="0.22">6</text>
<line x1="350.20" y1="327.20" x2="350.20" y2="329.60" stroke="#222" stroke-width="1.0" />
<text x="350.20" y="338.80" font-size="6.5" text-anchor="middle" fill="#333" stroke="#333" stroke-width="0.22">9</text>
<line x1="371.85" y1="327.20" x2="371.85" y2="329.60" stroke="#222" stroke-width="1.0" />
<text x="371.85" y="338.80" font-size="6.5" text-anchor="middle" fill="#333" textLength="6.4" lengthAdjust="spacingAndGlyphs" stroke="#333" stroke-width="0.22">12</text>
<text x="339.50" y="253.80" font-size="8.8" text-anchor="middle" fill="#333" textLength="79.4" lengthAdjust="spacingAndGlyphs" stroke="#333" stroke-width="0.18">CXCL10: AGVHD II-IV</text>
<text x="339.80" y="349.80" font-size="8.6" text-anchor="middle" fill="#333" font-weight="bold" textLength="18.3" lengthAdjust="spacingAndGlyphs" stroke="#333" stroke-width="0.2">Months</text>
<text x="0" y="0" font-size="7.9" text-anchor="middle" fill="#333" stroke="#333" stroke-width="0.25" textLength="16.6" lengthAdjust="spacingAndGlyphs" transform="translate(272.80,295.20) rotate(-90)">pg/mL</text>
<circle cx="301.90" cy="306.57" r="0.85" fill="#aeaeb6"/>
<circle cx="303.65" cy="307.68" r="0.85" fill="#aeaeb6"/>
<circle cx="300.85" cy="308.42" r="0.85" fill="#aeaeb6"/>
<circle cx="301.90" cy="302.30" r="0.85" fill="#aeaeb6"/>
<circle cx="304.00" cy="302.11" r="0.85" fill="#aeaeb6"/>
<circle cx="301.90" cy="300.16" r="0.85" fill="#aeaeb6"/>
<circle cx="299.80" cy="300.04" r="0.85" fill="#aeaeb6"/>
<circle cx="301.90" cy="310.84" r="0.85" fill="#aeaeb6"/>
<circle cx="303.65" cy="298.81" r="0.85" fill="#aeaeb6"/>
<circle cx="298.40" cy="298.54" r="0.85" fill="#aeaeb6"/>
<circle cx="301.90" cy="313.76" r="0.85" fill="#aeaeb6"/>
<circle cx="301.90" cy="296.76" r="0.85" fill="#aeaeb6"/>
<circle cx="300.85" cy="294.99" r="0.85" fill="#aeaeb6"/>
<circle cx="301.90" cy="316.40" r="0.85" fill="#aeaeb6"/>
<circle cx="302.95" cy="294.11" r="0.85" fill="#aeaeb6"/>
<circle cx="301.90" cy="291.60" r="0.85" fill="#aeaeb6"/>
<circle cx="301.90" cy="281.00" r="0.85" fill="#aeaeb6"/>
<circle cx="311.90" cy="308.35" r="0.95" fill="#e48c12"/>
<circle cx="314.00" cy="308.29" r="0.95" fill="#e48c12"/>
<circle cx="310.15" cy="307.05" r="0.95" fill="#e48c12"/>
<circle cx="315.40" cy="306.64" r="0.95" fill="#e48c12"/>
<circle cx="312.25" cy="306.03" r="0.95" fill="#e48c12"/>
<circle cx="311.90" cy="311.64" r="0.95" fill="#e48c12"/>
<circle cx="311.90" cy="313.84" r="0.95" fill="#e48c12"/>
<circle cx="313.30" cy="315.46" r="0.95" fill="#e48c12"/>
<circle cx="311.20" cy="315.96" r="0.95" fill="#e48c12"/>
<circle cx="311.90" cy="300.82" r="0.95" fill="#e48c12"/>
<circle cx="309.80" cy="300.74" r="0.95" fill="#e48c12"/>
<circle cx="314.00" cy="300.00" r="0.95" fill="#e48c12"/>
<circle cx="308.40" cy="298.97" r="0.95" fill="#e48c12"/>
<circle cx="311.90" cy="318.20" r="0.95" fill="#e48c12"/>
<circle cx="311.90" cy="298.58" r="0.95" fill="#e48c12"/>
<circle cx="314.00" cy="297.73" r="0.95" fill="#e48c12"/>
<circle cx="310.85" cy="296.68" r="0.95" fill="#e48c12"/>
<circle cx="312.95" cy="295.86" r="0.95" fill="#e48c12"/>
<circle cx="309.45" cy="294.97" r="0.95" fill="#e48c12"/>
<circle cx="314.70" cy="294.40" r="0.95" fill="#e48c12"/>
<circle cx="311.90" cy="292.50" r="0.95" fill="#e48c12"/>
<circle cx="311.90" cy="284.50" r="0.95" fill="#e48c12"/>
<line x1="296.70" y1="305.50" x2="307.10" y2="305.50" stroke="#1a1a1a" stroke-width="1.2" />
<line x1="306.70" y1="308.50" x2="317.10" y2="308.50" stroke="#1a1a1a" stroke-width="1.2" />
<circle cx="323.55" cy="310.63" r="0.85" fill="#aeaeb6"/>
<circle cx="325.65" cy="310.96" r="0.85" fill="#aeaeb6"/>
<circle cx="322.15" cy="312.31" r="0.85" fill="#aeaeb6"/>
<circle cx="324.25" cy="313.22" r="0.85" fill="#aeaeb6"/>
<circle cx="323.55" cy="307.93" r="0.85" fill="#aeaeb6"/>
<circle cx="321.10" cy="314.12" r="0.85" fill="#aeaeb6"/>
<circle cx="326.00" cy="314.59" r="0.85" fill="#aeaeb6"/>
<circle cx="323.55" cy="316.16" r="0.85" fill="#aeaeb6"/>
<circle cx="323.55" cy="304.60" r="0.85" fill="#aeaeb6"/>
<circle cx="321.45" cy="316.70" r="0.85" fill="#aeaeb6"/>
<circle cx="323.55" cy="319.61" r="0.85" fill="#aeaeb6"/>
<circle cx="323.55" cy="299.78" r="0.85" fill="#aeaeb6"/>
<circle cx="321.45" cy="299.02" r="0.85" fill="#aeaeb6"/>
<circle cx="323.55" cy="322.29" r="0.85" fill="#aeaeb6"/>
<circle cx="325.65" cy="322.40" r="0.85" fill="#aeaeb6"/>
<circle cx="321.80" cy="323.50" r="0.85" fill="#aeaeb6"/>
<circle cx="323.55" cy="297.16" r="0.85" fill="#aeaeb6"/>
<circle cx="323.55" cy="294.50" r="0.85" fill="#aeaeb6"/>
<circle cx="323.55" cy="290.70" r="0.85" fill="#aeaeb6"/>
<circle cx="333.55" cy="311.31" r="0.95" fill="#e48c12"/>
<circle cx="331.45" cy="310.36" r="0.95" fill="#e48c12"/>
<circle cx="334.95" cy="309.74" r="0.95" fill="#e48c12"/>
<circle cx="337.05" cy="309.48" r="0.95" fill="#e48c12"/>
<circle cx="329.70" cy="309.06" r="0.95" fill="#e48c12"/>
<circle cx="331.24" cy="308.92" r="0.95" fill="#e48c12"/>
<circle cx="333.55" cy="307.99" r="0.95" fill="#e48c12"/>
<circle cx="333.55" cy="314.22" r="0.95" fill="#e48c12"/>
<circle cx="335.65" cy="314.71" r="0.95" fill="#e48c12"/>
<circle cx="331.45" cy="315.34" r="0.95" fill="#e48c12"/>
<circle cx="337.75" cy="315.65" r="0.95" fill="#e48c12"/>
<circle cx="334.95" cy="306.35" r="0.95" fill="#e48c12"/>
<circle cx="329.35" cy="315.90" r="0.95" fill="#e48c12"/>
<circle cx="332.09" cy="316.05" r="0.95" fill="#e48c12"/>
<circle cx="333.55" cy="317.60" r="0.95" fill="#e48c12"/>
<circle cx="335.65" cy="317.75" r="0.95" fill="#e48c12"/>
<circle cx="331.45" cy="318.11" r="0.95" fill="#e48c12"/>
<circle cx="337.40" cy="318.92" r="0.95" fill="#e48c12"/>
<circle cx="333.55" cy="303.23" r="0.95" fill="#e48c12"/>
<circle cx="333.55" cy="320.25" r="0.95" fill="#e48c12"/>
<circle cx="335.65" cy="320.37" r="0.95" fill="#e48c12"/>
<circle cx="332.50" cy="301.40" r="0.95" fill="#e48c12"/>
<circle cx="333.55" cy="322.52" r="0.95" fill="#e48c12"/>
<circle cx="335.65" cy="322.60" r="0.95" fill="#e48c12"/>
<circle cx="333.55" cy="289.90" r="0.95" fill="#e48c12"/>
<line x1="318.35" y1="310.50" x2="328.75" y2="310.50" stroke="#1a1a1a" stroke-width="1.2" />
<line x1="328.35" y1="311.50" x2="338.75" y2="311.50" stroke="#1a1a1a" stroke-width="1.2" />
<circle cx="345.20" cy="310.06" r="0.85" fill="#aeaeb6"/>
<circle cx="344.50" cy="312.05" r="0.85" fill="#aeaeb6"/>
<circle cx="345.20" cy="305.91" r="0.85" fill="#aeaeb6"/>
<circle cx="345.20" cy="314.32" r="0.85" fill="#aeaeb6"/>
<circle cx="345.20" cy="303.03" r="0.85" fill="#aeaeb6"/>
<circle cx="346.95" cy="315.59" r="0.85" fill="#aeaeb6"/>
<circle cx="344.15" cy="316.19" r="0.85" fill="#aeaeb6"/>
<circle cx="347.30" cy="302.22" r="0.85" fill="#aeaeb6"/>
<circle cx="342.05" cy="316.58" r="0.85" fill="#aeaeb6"/>
<circle cx="348.70" cy="316.83" r="0.85" fill="#aeaeb6"/>
<circle cx="344.15" cy="301.20" r="0.85" fill="#aeaeb6"/>
<circle cx="342.05" cy="300.60" r="0.85" fill="#aeaeb6"/>
<circle cx="345.20" cy="297.98" r="0.85" fill="#aeaeb6"/>
<circle cx="345.20" cy="321.35" r="0.85" fill="#aeaeb6"/>
<circle cx="347.30" cy="321.68" r="0.85" fill="#aeaeb6"/>
<circle cx="345.20" cy="295.73" r="0.85" fill="#aeaeb6"/>
<circle cx="345.20" cy="323.50" r="0.85" fill="#aeaeb6"/>
<circle cx="345.20" cy="292.05" r="0.85" fill="#aeaeb6"/>
<circle cx="345.20" cy="288.00" r="0.85" fill="#aeaeb6"/>
<circle cx="355.20" cy="308.42" r="0.95" fill="#e48c12"/>
<circle cx="357.30" cy="307.31" r="0.95" fill="#e48c12"/>
<circle cx="355.20" cy="305.22" r="0.95" fill="#e48c12"/>
<circle cx="355.20" cy="313.22" r="0.95" fill="#e48c12"/>
<circle cx="353.10" cy="313.35" r="0.95" fill="#e48c12"/>
<circle cx="357.30" cy="313.78" r="0.95" fill="#e48c12"/>
<circle cx="351.35" cy="314.72" r="0.95" fill="#e48c12"/>
<circle cx="355.20" cy="300.75" r="0.95" fill="#e48c12"/>
<circle cx="353.10" cy="300.49" r="0.95" fill="#e48c12"/>
<circle cx="355.20" cy="315.88" r="0.95" fill="#e48c12"/>
<circle cx="353.10" cy="316.43" r="0.95" fill="#e48c12"/>
<circle cx="357.30" cy="316.52" r="0.95" fill="#e48c12"/>
<circle cx="355.20" cy="298.11" r="0.95" fill="#e48c12"/>
<circle cx="359.05" cy="317.81" r="0.95" fill="#e48c12"/>
<circle cx="355.20" cy="318.05" r="0.95" fill="#e48c12"/>
<circle cx="353.80" cy="319.69" r="0.95" fill="#e48c12"/>
<circle cx="355.90" cy="320.80" r="0.95" fill="#e48c12"/>
<circle cx="355.20" cy="294.02" r="0.95" fill="#e48c12"/>
<circle cx="353.10" cy="293.21" r="0.95" fill="#e48c12"/>
<circle cx="357.30" cy="292.99" r="0.95" fill="#e48c12"/>
<circle cx="355.20" cy="290.70" r="0.95" fill="#e48c12"/>
<line x1="340.00" y1="309.50" x2="350.40" y2="309.50" stroke="#1a1a1a" stroke-width="1.2" />
<line x1="350.00" y1="307.50" x2="360.40" y2="307.50" stroke="#1a1a1a" stroke-width="1.2" />
<circle cx="366.85" cy="306.10" r="0.85" fill="#aeaeb6"/>
<circle cx="368.95" cy="305.83" r="0.85" fill="#aeaeb6"/>
<circle cx="367.90" cy="307.93" r="0.85" fill="#aeaeb6"/>
<circle cx="365.80" cy="308.81" r="0.85" fill="#aeaeb6"/>
<circle cx="366.85" cy="310.91" r="0.85" fill="#aeaeb6"/>
<circle cx="366.85" cy="302.02" r="0.85" fill="#aeaeb6"/>
<circle cx="368.95" cy="301.69" r="0.85" fill="#aeaeb6"/>
<circle cx="368.95" cy="311.81" r="0.85" fill="#aeaeb6"/>
<circle cx="364.75" cy="301.27" r="0.85" fill="#aeaeb6"/>
<circle cx="366.85" cy="299.81" r="0.85" fill="#aeaeb6"/>
<circle cx="366.85" cy="314.45" r="0.85" fill="#aeaeb6"/>
<circle cx="368.60" cy="298.38" r="0.85" fill="#aeaeb6"/>
<circle cx="365.80" cy="316.24" r="0.85" fill="#aeaeb6"/>
<circle cx="366.85" cy="297.00" r="0.85" fill="#aeaeb6"/>
<circle cx="367.90" cy="316.40" r="0.85" fill="#aeaeb6"/>
<circle cx="366.85" cy="292.50" r="0.85" fill="#aeaeb6"/>
<circle cx="376.85" cy="302.63" r="0.95" fill="#e48c12"/>
<circle cx="375.10" cy="304.01" r="0.95" fill="#e48c12"/>
<circle cx="378.95" cy="302.13" r="0.95" fill="#e48c12"/>
<circle cx="377.90" cy="304.54" r="0.95" fill="#e48c12"/>
<circle cx="380.00" cy="304.80" r="0.95" fill="#e48c12"/>
<circle cx="375.10" cy="301.36" r="0.95" fill="#e48c12"/>
<circle cx="373.00" cy="301.34" r="0.95" fill="#e48c12"/>
<circle cx="381.05" cy="301.00" r="0.95" fill="#e48c12"/>
<circle cx="376.85" cy="299.48" r="0.95" fill="#e48c12"/>
<circle cx="376.85" cy="306.87" r="0.95" fill="#e48c12"/>
<circle cx="378.95" cy="298.42" r="0.95" fill="#e48c12"/>
<circle cx="376.85" cy="296.22" r="0.95" fill="#e48c12"/>
<circle cx="376.85" cy="293.15" r="0.95" fill="#e48c12"/>
<circle cx="374.75" cy="293.10" r="0.95" fill="#e48c12"/>
<circle cx="376.85" cy="313.13" r="0.95" fill="#e48c12"/>
<circle cx="374.75" cy="313.34" r="0.95" fill="#e48c12"/>
<circle cx="378.95" cy="292.50" r="0.95" fill="#e48c12"/>
<circle cx="378.25" cy="314.74" r="0.95" fill="#e48c12"/>
<circle cx="376.15" cy="315.53" r="0.95" fill="#e48c12"/>
<circle cx="376.85" cy="321.31" r="0.95" fill="#e48c12"/>
<circle cx="376.85" cy="323.50" r="0.95" fill="#e48c12"/>
<line x1="361.65" y1="306.50" x2="372.05" y2="306.50" stroke="#1a1a1a" stroke-width="1.2" />
<line x1="371.65" y1="303.50" x2="382.05" y2="303.50" stroke="#1a1a1a" stroke-width="1.2" />
<line x1="423.50" y1="263.60" x2="423.50" y2="327.10" stroke="#1a1a1a" stroke-width="1.25" />
<line x1="422.90" y1="326.50" x2="514.50" y2="326.50" stroke="#1a1a1a" stroke-width="1.25" />
<line x1="421.20" y1="269.40" x2="423.50" y2="269.40" stroke="#222" stroke-width="1.0" />
<text x="415.30" y="271.40" font-size="5.8" text-anchor="end" fill="#333" stroke="#333" stroke-width="0.24">10</text>
<text x="415.70" y="268.40" font-size="3.6" text-anchor="start" fill="#333">4</text>
<line x1="421.20" y1="288.67" x2="423.50" y2="288.67" stroke="#222" stroke-width="1.0" />
<text x="415.30" y="290.67" font-size="5.8" text-anchor="end" fill="#333" stroke="#333" stroke-width="0.24">10</text>
<text x="415.70" y="287.67" font-size="3.6" text-anchor="start" fill="#333">3</text>
<line x1="421.20" y1="307.93" x2="423.50" y2="307.93" stroke="#222" stroke-width="1.0" />
<text x="415.30" y="309.93" font-size="5.8" text-anchor="end" fill="#333" stroke="#333" stroke-width="0.24">10</text>
<text x="415.70" y="306.93" font-size="3.6" text-anchor="start" fill="#333">2</text>
<line x1="421.20" y1="327.20" x2="423.50" y2="327.20" stroke="#222" stroke-width="1.0" />
<text x="415.30" y="329.20" font-size="5.8" text-anchor="end" fill="#333" stroke="#333" stroke-width="0.24">10</text>
<text x="415.70" y="326.20" font-size="3.6" text-anchor="start" fill="#333">1</text>
<line x1="436.10" y1="327.20" x2="436.10" y2="329.60" stroke="#222" stroke-width="1.0" />
<text x="436.10" y="338.80" font-size="6.5" text-anchor="middle" fill="#333" stroke="#333" stroke-width="0.22">3</text>
<line x1="457.75" y1="327.20" x2="457.75" y2="329.60" stroke="#222" stroke-width="1.0" />
<text x="457.75" y="338.80" font-size="6.5" text-anchor="middle" fill="#333" stroke="#333" stroke-width="0.22">6</text>
<line x1="479.40" y1="327.20" x2="479.40" y2="329.60" stroke="#222" stroke-width="1.0" />
<text x="479.40" y="338.80" font-size="6.5" text-anchor="middle" fill="#333" stroke="#333" stroke-width="0.22">9</text>
<line x1="501.05" y1="327.20" x2="501.05" y2="329.60" stroke="#222" stroke-width="1.0" />
<text x="501.05" y="338.80" font-size="6.5" text-anchor="middle" fill="#333" textLength="6.4" lengthAdjust="spacingAndGlyphs" stroke="#333" stroke-width="0.22">12</text>
<text x="468.10" y="253.80" font-size="8.8" text-anchor="middle" fill="#333" textLength="78.8" lengthAdjust="spacingAndGlyphs" stroke="#333" stroke-width="0.18">CXCL10: CGVHD 2-3</text>
<text x="469.00" y="349.80" font-size="8.6" text-anchor="middle" fill="#333" font-weight="bold" textLength="18.3" lengthAdjust="spacingAndGlyphs" stroke="#333" stroke-width="0.2" style="font-style:italic;">Months</text>
<text x="0" y="0" font-size="7.9" text-anchor="middle" fill="#333" stroke="#333" stroke-width="0.25" textLength="16.6" lengthAdjust="spacingAndGlyphs" transform="translate(402.00,295.20) rotate(-90)">pg/mL</text>
<circle cx="431.10" cy="304.11" r="0.85" fill="#aeaeb6"/>
<circle cx="432.85" cy="302.63" r="0.85" fill="#aeaeb6"/>
<circle cx="429.70" cy="302.47" r="0.85" fill="#aeaeb6"/>
<circle cx="427.60" cy="302.15" r="0.85" fill="#aeaeb6"/>
<circle cx="432.85" cy="305.36" r="0.85" fill="#aeaeb6"/>
<circle cx="434.60" cy="301.46" r="0.85" fill="#aeaeb6"/>
<circle cx="430.90" cy="301.38" r="0.85" fill="#aeaeb6"/>
<circle cx="428.32" cy="300.96" r="0.85" fill="#aeaeb6"/>
<circle cx="432.50" cy="299.98" r="0.85" fill="#aeaeb6"/>
<circle cx="430.40" cy="298.93" r="0.85" fill="#aeaeb6"/>
<circle cx="428.30" cy="298.70" r="0.85" fill="#aeaeb6"/>
<circle cx="431.10" cy="308.90" r="0.85" fill="#aeaeb6"/>
<circle cx="431.10" cy="313.03" r="0.85" fill="#aeaeb6"/>
<circle cx="429.00" cy="313.80" r="0.85" fill="#aeaeb6"/>
<circle cx="431.10" cy="290.70" r="0.85" fill="#aeaeb6"/>
<circle cx="431.10" cy="283.70" r="0.85" fill="#aeaeb6"/>
<circle cx="431.10" cy="269.50" r="0.85" fill="#aeaeb6"/>
<circle cx="441.10" cy="300.20" r="0.95" fill="#5e5e9c"/>
<circle cx="439.35" cy="298.81" r="0.95" fill="#5e5e9c"/>
<circle cx="439.00" cy="301.25" r="0.95" fill="#5e5e9c"/>
<circle cx="442.85" cy="301.54" r="0.95" fill="#5e5e9c"/>
<circle cx="441.10" cy="297.64" r="0.95" fill="#5e5e9c"/>
<circle cx="441.10" cy="302.86" r="0.95" fill="#5e5e9c"/>
<circle cx="439.35" cy="296.14" r="0.95" fill="#5e5e9c"/>
<circle cx="439.00" cy="303.48" r="0.95" fill="#5e5e9c"/>
<circle cx="442.85" cy="304.11" r="0.95" fill="#5e5e9c"/>
<circle cx="441.10" cy="305.87" r="0.95" fill="#5e5e9c"/>
<circle cx="439.00" cy="306.37" r="0.95" fill="#5e5e9c"/>
<circle cx="442.15" cy="307.73" r="0.95" fill="#5e5e9c"/>
<circle cx="444.25" cy="308.01" r="0.95" fill="#5e5e9c"/>
<circle cx="437.60" cy="308.09" r="0.95" fill="#5e5e9c"/>
<circle cx="441.10" cy="290.86" r="0.95" fill="#5e5e9c"/>
<circle cx="439.35" cy="289.49" r="0.95" fill="#5e5e9c"/>
<circle cx="441.10" cy="311.11" r="0.95" fill="#5e5e9c"/>
<circle cx="443.20" cy="312.23" r="0.95" fill="#5e5e9c"/>
<circle cx="441.10" cy="314.42" r="0.95" fill="#5e5e9c"/>
<circle cx="443.20" cy="315.50" r="0.95" fill="#5e5e9c"/>
<circle cx="441.10" cy="277.64" r="0.95" fill="#5e5e9c"/>
<circle cx="441.10" cy="275.49" r="0.95" fill="#5e5e9c"/>
<circle cx="441.10" cy="273.15" r="0.95" fill="#5e5e9c"/>
<circle cx="439.00" cy="273.00" r="0.95" fill="#5e5e9c"/>
<line x1="425.90" y1="303.50" x2="436.30" y2="303.50" stroke="#1a1a1a" stroke-width="1.2" />
<line x1="435.90" y1="299.50" x2="446.30" y2="299.50" stroke="#1a1a1a" stroke-width="1.2" />
<circle cx="452.75" cy="307.91" r="0.85" fill="#aeaeb6"/>
<circle cx="450.65" cy="308.84" r="0.85" fill="#aeaeb6"/>
<circle cx="452.75" cy="305.56" r="0.85" fill="#aeaeb6"/>
<circle cx="454.85" cy="304.91" r="0.85" fill="#aeaeb6"/>
<circle cx="452.75" cy="310.31" r="0.85" fill="#aeaeb6"/>
<circle cx="451.35" cy="303.83" r="0.85" fill="#aeaeb6"/>
<circle cx="454.50" cy="311.56" r="0.85" fill="#aeaeb6"/>
<circle cx="452.40" cy="312.45" r="0.85" fill="#aeaeb6"/>
<circle cx="453.10" cy="302.37" r="0.85" fill="#aeaeb6"/>
<circle cx="451.00" cy="301.40" r="0.85" fill="#aeaeb6"/>
<circle cx="452.75" cy="314.60" r="0.85" fill="#aeaeb6"/>
<circle cx="452.75" cy="290.70" r="0.85" fill="#aeaeb6"/>
<circle cx="452.75" cy="281.00" r="0.85" fill="#aeaeb6"/>
<circle cx="462.75" cy="302.15" r="0.95" fill="#5e5e9c"/>
<circle cx="460.65" cy="301.46" r="0.95" fill="#5e5e9c"/>
<circle cx="464.15" cy="300.49" r="0.95" fill="#5e5e9c"/>
<circle cx="466.25" cy="300.12" r="0.95" fill="#5e5e9c"/>
<circle cx="462.75" cy="306.47" r="0.95" fill="#5e5e9c"/>
<circle cx="462.75" cy="295.12" r="0.95" fill="#5e5e9c"/>
<circle cx="461.00" cy="293.70" r="0.95" fill="#5e5e9c"/>
<circle cx="462.75" cy="311.48" r="0.95" fill="#5e5e9c"/>
<circle cx="461.70" cy="313.31" r="0.95" fill="#5e5e9c"/>
<circle cx="463.80" cy="313.78" r="0.95" fill="#5e5e9c"/>
<circle cx="462.75" cy="290.36" r="0.95" fill="#5e5e9c"/>
<circle cx="459.95" cy="314.76" r="0.95" fill="#5e5e9c"/>
<circle cx="463.45" cy="288.36" r="0.95" fill="#5e5e9c"/>
<circle cx="461.70" cy="287.15" r="0.95" fill="#5e5e9c"/>
<circle cx="462.75" cy="319.20" r="0.95" fill="#5e5e9c"/>
<circle cx="460.65" cy="319.67" r="0.95" fill="#5e5e9c"/>
<circle cx="462.75" cy="284.73" r="0.95" fill="#5e5e9c"/>
<circle cx="464.15" cy="320.77" r="0.95" fill="#5e5e9c"/>
<circle cx="466.25" cy="320.80" r="0.95" fill="#5e5e9c"/>
<circle cx="464.15" cy="283.09" r="0.95" fill="#5e5e9c"/>
<circle cx="462.75" cy="280.10" r="0.95" fill="#5e5e9c"/>
<line x1="447.55" y1="307.50" x2="457.95" y2="307.50" stroke="#1a1a1a" stroke-width="1.2" />
<line x1="457.55" y1="302.50" x2="467.95" y2="302.50" stroke="#1a1a1a" stroke-width="1.2" />
<circle cx="474.40" cy="307.37" r="0.85" fill="#aeaeb6"/>
<circle cx="472.30" cy="308.08" r="0.85" fill="#aeaeb6"/>
<circle cx="474.40" cy="302.12" r="0.85" fill="#aeaeb6"/>
<circle cx="474.40" cy="298.71" r="0.85" fill="#aeaeb6"/>
<circle cx="474.40" cy="296.05" r="0.85" fill="#aeaeb6"/>
<circle cx="472.30" cy="295.64" r="0.85" fill="#aeaeb6"/>
<circle cx="476.50" cy="295.57" r="0.85" fill="#aeaeb6"/>
<circle cx="474.40" cy="317.18" r="0.85" fill="#aeaeb6"/>
<circle cx="472.30" cy="317.28" r="0.85" fill="#aeaeb6"/>
<circle cx="470.20" cy="294.68" r="0.85" fill="#aeaeb6"/>
<circle cx="478.25" cy="294.13" r="0.85" fill="#aeaeb6"/>
<circle cx="476.15" cy="318.48" r="0.85" fill="#aeaeb6"/>
<circle cx="474.40" cy="293.66" r="0.85" fill="#aeaeb6"/>
<circle cx="472.30" cy="293.40" r="0.85" fill="#aeaeb6"/>
<circle cx="474.05" cy="319.19" r="0.85" fill="#aeaeb6"/>
<circle cx="471.95" cy="320.00" r="0.85" fill="#aeaeb6"/>
<circle cx="484.40" cy="298.78" r="0.95" fill="#5e5e9c"/>
<circle cx="484.40" cy="301.77" r="0.95" fill="#5e5e9c"/>
<circle cx="484.40" cy="295.01" r="0.95" fill="#5e5e9c"/>
<circle cx="482.30" cy="294.18" r="0.95" fill="#5e5e9c"/>
<circle cx="484.40" cy="292.46" r="0.95" fill="#5e5e9c"/>
<circle cx="484.40" cy="305.77" r="0.95" fill="#5e5e9c"/>
<circle cx="482.30" cy="306.52" r="0.95" fill="#5e5e9c"/>
<circle cx="486.50" cy="306.85" r="0.95" fill="#5e5e9c"/>
<circle cx="483.70" cy="290.46" r="0.95" fill="#5e5e9c"/>
<circle cx="484.40" cy="309.24" r="0.95" fill="#5e5e9c"/>
<circle cx="484.40" cy="288.16" r="0.95" fill="#5e5e9c"/>
<circle cx="486.50" cy="288.11" r="0.95" fill="#5e5e9c"/>
<circle cx="482.30" cy="287.05" r="0.95" fill="#5e5e9c"/>
<circle cx="485.80" cy="310.98" r="0.95" fill="#5e5e9c"/>
<circle cx="484.05" cy="312.39" r="0.95" fill="#5e5e9c"/>
<circle cx="481.95" cy="312.39" r="0.95" fill="#5e5e9c"/>
<circle cx="485.10" cy="314.34" r="0.95" fill="#5e5e9c"/>
<circle cx="484.40" cy="283.07" r="0.95" fill="#5e5e9c"/>
<circle cx="483.00" cy="281.32" r="0.95" fill="#5e5e9c"/>
<circle cx="484.75" cy="279.97" r="0.95" fill="#5e5e9c"/>
<circle cx="486.85" cy="279.74" r="0.95" fill="#5e5e9c"/>
<circle cx="484.40" cy="320.17" r="0.95" fill="#5e5e9c"/>
<circle cx="484.40" cy="277.50" r="0.95" fill="#5e5e9c"/>
<circle cx="482.65" cy="321.70" r="0.95" fill="#5e5e9c"/>
<line x1="469.20" y1="306.50" x2="479.60" y2="306.50" stroke="#1a1a1a" stroke-width="1.2" />
<line x1="479.20" y1="299.50" x2="489.60" y2="299.50" stroke="#1a1a1a" stroke-width="1.2" />
<circle cx="496.05" cy="300.22" r="0.85" fill="#aeaeb6"/>
<circle cx="496.05" cy="303.83" r="0.85" fill="#aeaeb6"/>
<circle cx="494.65" cy="298.70" r="0.85" fill="#aeaeb6"/>
<circle cx="497.80" cy="304.88" r="0.85" fill="#aeaeb6"/>
<circle cx="494.30" cy="304.95" r="0.85" fill="#aeaeb6"/>
<circle cx="496.40" cy="297.55" r="0.85" fill="#aeaeb6"/>
<circle cx="498.50" cy="297.30" r="0.85" fill="#aeaeb6"/>
<circle cx="492.20" cy="305.79" r="0.85" fill="#aeaeb6"/>
<circle cx="493.60" cy="296.88" r="0.85" fill="#aeaeb6"/>
<circle cx="496.05" cy="294.28" r="0.85" fill="#aeaeb6"/>
<circle cx="496.05" cy="311.06" r="0.85" fill="#aeaeb6"/>
<circle cx="495.00" cy="312.90" r="0.85" fill="#aeaeb6"/>
<circle cx="496.05" cy="287.30" r="0.85" fill="#aeaeb6"/>
<circle cx="497.10" cy="285.40" r="0.85" fill="#aeaeb6"/>
<circle cx="506.05" cy="293.47" r="0.95" fill="#5e5e9c"/>
<circle cx="508.15" cy="292.66" r="0.95" fill="#5e5e9c"/>
<circle cx="505.00" cy="291.60" r="0.95" fill="#5e5e9c"/>
<circle cx="502.90" cy="291.32" r="0.95" fill="#5e5e9c"/>
<circle cx="509.90" cy="291.31" r="0.95" fill="#5e5e9c"/>
<circle cx="506.05" cy="299.86" r="0.95" fill="#5e5e9c"/>
<circle cx="506.05" cy="286.16" r="0.95" fill="#5e5e9c"/>
<circle cx="508.15" cy="285.74" r="0.95" fill="#5e5e9c"/>
<circle cx="503.95" cy="285.47" r="0.95" fill="#5e5e9c"/>
<circle cx="501.85" cy="285.36" r="0.95" fill="#5e5e9c"/>
<circle cx="506.40" cy="301.92" r="0.95" fill="#5e5e9c"/>
<circle cx="504.30" cy="302.85" r="0.95" fill="#5e5e9c"/>
<circle cx="506.05" cy="283.70" r="0.95" fill="#5e5e9c"/>
<circle cx="506.05" cy="305.18" r="0.95" fill="#5e5e9c"/>
<circle cx="508.15" cy="305.85" r="0.95" fill="#5e5e9c"/>
<circle cx="506.05" cy="309.93" r="0.95" fill="#5e5e9c"/>
<circle cx="506.05" cy="318.38" r="0.95" fill="#5e5e9c"/>
<circle cx="506.05" cy="321.61" r="0.95" fill="#5e5e9c"/>
<circle cx="508.15" cy="322.60" r="0.95" fill="#5e5e9c"/>
<line x1="490.85" y1="301.50" x2="501.25" y2="301.50" stroke="#1a1a1a" stroke-width="1.2" />
<line x1="500.85" y1="293.50" x2="511.25" y2="293.50" stroke="#1a1a1a" stroke-width="1.2" />
<ellipse cx="478.8" cy="261.3" rx="1.3" ry="1.7" fill="#484848"/>
<line x1="472.60" y1="265.60" x2="485.80" y2="265.60" stroke="#333" stroke-width="1.0" />
<line x1="34.50" y1="380.80" x2="34.50" y2="445.10" stroke="#1a1a1a" stroke-width="1.25" />
<line x1="33.90" y1="444.50" x2="124.80" y2="444.50" stroke="#1a1a1a" stroke-width="1.25" />
<line x1="32.50" y1="384.00" x2="34.80" y2="384.00" stroke="#222" stroke-width="1.0" />
<text x="26.60" y="386.00" font-size="5.8" text-anchor="end" fill="#333" stroke="#333" stroke-width="0.24">10</text>
<text x="27.00" y="383.00" font-size="3.6" text-anchor="start" fill="#333">5</text>
<line x1="32.50" y1="399.07" x2="34.80" y2="399.07" stroke="#222" stroke-width="1.0" />
<text x="26.60" y="401.07" font-size="5.8" text-anchor="end" fill="#333" stroke="#333" stroke-width="0.24">10</text>
<text x="27.00" y="398.07" font-size="3.6" text-anchor="start" fill="#333">4</text>
<line x1="32.50" y1="414.15" x2="34.80" y2="414.15" stroke="#222" stroke-width="1.0" />
<text x="26.60" y="416.15" font-size="5.8" text-anchor="end" fill="#333" stroke="#333" stroke-width="0.24">10</text>
<text x="27.00" y="413.15" font-size="3.6" text-anchor="start" fill="#333">3</text>
<line x1="32.50" y1="429.23" x2="34.80" y2="429.23" stroke="#222" stroke-width="1.0" />
<text x="26.60" y="431.23" font-size="5.8" text-anchor="end" fill="#333" stroke="#333" stroke-width="0.24">10</text>
<text x="27.00" y="428.23" font-size="3.6" text-anchor="start" fill="#333">2</text>
<line x1="32.50" y1="444.30" x2="34.80" y2="444.30" stroke="#222" stroke-width="1.0" />
<text x="26.60" y="446.30" font-size="5.8" text-anchor="end" fill="#333" stroke="#333" stroke-width="0.24">10</text>
<text x="27.00" y="443.30" font-size="3.6" text-anchor="start" fill="#333">1</text>
<line x1="39.50" y1="444.30" x2="39.50" y2="446.70" stroke="#222" stroke-width="1.0" />
<line x1="44.89" y1="444.30" x2="44.89" y2="446.70" stroke="#222" stroke-width="1.0" />
<line x1="50.28" y1="444.30" x2="50.28" y2="446.70" stroke="#222" stroke-width="1.0" />
<line x1="55.67" y1="444.30" x2="55.67" y2="446.70" stroke="#222" stroke-width="1.0" />
<line x1="61.06" y1="444.30" x2="61.06" y2="446.70" stroke="#222" stroke-width="1.0" />
<line x1="66.45" y1="444.30" x2="66.45" y2="446.70" stroke="#222" stroke-width="1.0" />
<line x1="71.84" y1="444.30" x2="71.84" y2="446.70" stroke="#222" stroke-width="1.0" />
<line x1="77.23" y1="444.30" x2="77.23" y2="446.70" stroke="#222" stroke-width="1.0" />
<line x1="82.62" y1="444.30" x2="82.62" y2="446.70" stroke="#222" stroke-width="1.0" />
<line x1="88.01" y1="444.30" x2="88.01" y2="446.70" stroke="#222" stroke-width="1.0" />
<line x1="93.40" y1="444.30" x2="93.40" y2="446.70" stroke="#222" stroke-width="1.0" />
<line x1="98.79" y1="444.30" x2="98.79" y2="446.70" stroke="#222" stroke-width="1.0" />
<line x1="104.18" y1="444.30" x2="104.18" y2="446.70" stroke="#222" stroke-width="1.0" />
<line x1="109.57" y1="444.30" x2="109.57" y2="446.70" stroke="#222" stroke-width="1.0" />
<line x1="114.96" y1="444.30" x2="114.96" y2="446.70" stroke="#222" stroke-width="1.0" />
<line x1="120.35" y1="444.30" x2="120.35" y2="446.70" stroke="#222" stroke-width="1.0" />
<text x="80.00" y="368.00" font-size="8.8" text-anchor="middle" fill="#333" textLength="63" lengthAdjust="spacingAndGlyphs" stroke="#333" stroke-width="0.18">ST2: AGVHD II-IV</text>
<text x="79.80" y="467.00" font-size="8.6" text-anchor="middle" fill="#333" font-weight="bold" textLength="18.3" lengthAdjust="spacingAndGlyphs" stroke="#333" stroke-width="0.2">Months</text>
<text x="0" y="0" font-size="7.9" text-anchor="middle" fill="#333" stroke="#333" stroke-width="0.25" textLength="16.6" lengthAdjust="spacingAndGlyphs" transform="translate(13.30,412.20) rotate(-90)">pg/mL</text>
<text x="39.50" y="455.60" font-size="6.4" text-anchor="middle" fill="#333" stroke="#333" stroke-width="0.2">3</text>
<text x="44.89" y="455.60" font-size="6.4" text-anchor="middle" fill="#333" stroke="#333" stroke-width="0.2">6</text>
<text x="50.28" y="455.60" font-size="6.4" text-anchor="middle" fill="#333" stroke="#333" stroke-width="0.2">9</text>
<text x="55.67" y="455.60" font-size="6.4" text-anchor="middle" fill="#333" textLength="5.8" lengthAdjust="spacingAndGlyphs" stroke="#333" stroke-width="0.2">12</text>
<text x="61.06" y="455.60" font-size="6.4" text-anchor="middle" fill="#333" stroke="#333" stroke-width="0.2">3</text>
<text x="66.45" y="455.60" font-size="6.4" text-anchor="middle" fill="#333" stroke="#333" stroke-width="0.2">6</text>
<text x="71.84" y="455.60" font-size="6.4" text-anchor="middle" fill="#333" stroke="#333" stroke-width="0.2">9</text>
<text x="77.23" y="455.60" font-size="6.4" text-anchor="middle" fill="#333" textLength="5.8" lengthAdjust="spacingAndGlyphs" stroke="#333" stroke-width="0.2">12</text>
<text x="82.62" y="455.60" font-size="6.4" text-anchor="middle" fill="#333" stroke="#333" stroke-width="0.2">3</text>
<text x="88.01" y="455.60" font-size="6.4" text-anchor="middle" fill="#333" stroke="#333" stroke-width="0.2">6</text>
<text x="93.40" y="455.60" font-size="6.4" text-anchor="middle" fill="#333" stroke="#333" stroke-width="0.2">9</text>
<text x="98.79" y="455.60" font-size="6.4" text-anchor="middle" fill="#333" textLength="5.8" lengthAdjust="spacingAndGlyphs" stroke="#333" stroke-width="0.2">12</text>
<text x="104.18" y="455.60" font-size="6.4" text-anchor="middle" fill="#333" stroke="#333" stroke-width="0.2">3</text>
<text x="109.57" y="455.60" font-size="6.4" text-anchor="middle" fill="#333" stroke="#333" stroke-width="0.2">6</text>
<text x="114.96" y="455.60" font-size="6.4" text-anchor="middle" fill="#333" stroke="#333" stroke-width="0.2">9</text>
<text x="120.35" y="455.60" font-size="6.4" text-anchor="middle" fill="#333" textLength="5.8" lengthAdjust="spacingAndGlyphs" stroke="#333" stroke-width="0.2">12</text>
<line x1="79.92" y1="383.90" x2="79.92" y2="444.30" stroke="#b0aca8" stroke-width="1.9" />
<line x1="58.37" y1="384.20" x2="58.37" y2="444.30" stroke="#40405a" stroke-width="1.1" stroke-dasharray="1.9,2.3"/>
<line x1="101.48" y1="384.20" x2="101.48" y2="444.30" stroke="#40405a" stroke-width="1.1" stroke-dasharray="1.9,2.3"/>
<circle cx="39.50" cy="419.05" r="0.8" fill="#aeaeb6"/>
<circle cx="39.50" cy="421.76" r="0.8" fill="#aeaeb6"/>
<circle cx="39.50" cy="413.70" r="0.8" fill="#aeaeb6"/>
<circle cx="39.50" cy="424.46" r="0.8" fill="#aeaeb6"/>
<circle cx="39.50" cy="411.48" r="0.8" fill="#aeaeb6"/>
<circle cx="39.50" cy="426.70" r="0.8" fill="#aeaeb6"/>
<circle cx="39.50" cy="409.59" r="0.8" fill="#aeaeb6"/>
<circle cx="39.50" cy="406.00" r="0.8" fill="#aeaeb6"/>
<line x1="36.70" y1="419.50" x2="42.30" y2="419.50" stroke="#222" stroke-width="1.1" />
<circle cx="44.89" cy="417.39" r="0.8" fill="#aeaeb6"/>
<circle cx="43.14" cy="417.63" r="0.8" fill="#aeaeb6"/>
<circle cx="46.64" cy="417.72" r="0.8" fill="#aeaeb6"/>
<circle cx="43.20" cy="416.50" r="0.8" fill="#aeaeb6"/>
<circle cx="44.89" cy="421.46" r="0.8" fill="#aeaeb6"/>
<circle cx="46.64" cy="422.40" r="0.8" fill="#aeaeb6"/>
<circle cx="44.89" cy="407.66" r="0.8" fill="#aeaeb6"/>
<circle cx="45.59" cy="406.00" r="0.8" fill="#aeaeb6"/>
<line x1="42.09" y1="417.50" x2="47.69" y2="417.50" stroke="#222" stroke-width="1.1" />
<circle cx="50.28" cy="416.58" r="0.8" fill="#aeaeb6"/>
<circle cx="48.53" cy="417.44" r="0.8" fill="#aeaeb6"/>
<circle cx="50.28" cy="412.84" r="0.8" fill="#aeaeb6"/>
<circle cx="48.88" cy="411.63" r="0.8" fill="#aeaeb6"/>
<circle cx="50.28" cy="422.82" r="0.8" fill="#aeaeb6"/>
<circle cx="52.03" cy="423.30" r="0.8" fill="#aeaeb6"/>
<circle cx="50.28" cy="403.47" r="0.8" fill="#aeaeb6"/>
<circle cx="50.28" cy="400.80" r="0.8" fill="#aeaeb6"/>
<line x1="47.48" y1="416.50" x2="53.08" y2="416.50" stroke="#222" stroke-width="1.1" />
<circle cx="55.67" cy="411.99" r="0.8" fill="#aeaeb6"/>
<circle cx="55.67" cy="416.82" r="0.8" fill="#aeaeb6"/>
<circle cx="55.67" cy="409.48" r="0.8" fill="#aeaeb6"/>
<circle cx="57.07" cy="418.08" r="0.8" fill="#aeaeb6"/>
<circle cx="55.67" cy="420.26" r="0.8" fill="#aeaeb6"/>
<circle cx="54.27" cy="421.50" r="0.8" fill="#aeaeb6"/>
<circle cx="55.67" cy="397.04" r="0.8" fill="#aeaeb6"/>
<circle cx="55.67" cy="392.10" r="0.8" fill="#aeaeb6"/>
<line x1="52.87" y1="413.50" x2="58.47" y2="413.50" stroke="#222" stroke-width="1.1" />
<circle cx="61.06" cy="413.28" r="0.95" fill="#e48c12"/>
<circle cx="61.06" cy="410.67" r="0.95" fill="#e48c12"/>
<circle cx="63.16" cy="413.67" r="0.95" fill="#e48c12"/>
<circle cx="58.96" cy="414.07" r="0.95" fill="#e48c12"/>
<circle cx="60.02" cy="415.08" r="0.95" fill="#e48c12"/>
<circle cx="61.76" cy="408.67" r="0.95" fill="#e48c12"/>
<circle cx="61.06" cy="417.25" r="0.95" fill="#e48c12"/>
<circle cx="58.96" cy="417.63" r="0.95" fill="#e48c12"/>
<circle cx="63.16" cy="418.28" r="0.95" fill="#e48c12"/>
<circle cx="61.67" cy="418.29" r="0.95" fill="#e48c12"/>
<circle cx="61.06" cy="405.58" r="0.95" fill="#e48c12"/>
<circle cx="61.06" cy="402.50" r="0.95" fill="#e48c12"/>
<circle cx="61.06" cy="421.95" r="0.95" fill="#e48c12"/>
<circle cx="58.96" cy="422.40" r="0.95" fill="#e48c12"/>
<line x1="58.26" y1="412.50" x2="63.86" y2="412.50" stroke="#222" stroke-width="1.1" />
<circle cx="66.45" cy="410.38" r="0.95" fill="#e48c12"/>
<circle cx="66.45" cy="414.13" r="0.95" fill="#e48c12"/>
<circle cx="64.35" cy="415.21" r="0.95" fill="#e48c12"/>
<circle cx="66.10" cy="408.32" r="0.95" fill="#e48c12"/>
<circle cx="68.20" cy="408.13" r="0.95" fill="#e48c12"/>
<circle cx="64.00" cy="407.91" r="0.95" fill="#e48c12"/>
<circle cx="66.45" cy="416.60" r="0.95" fill="#e48c12"/>
<circle cx="68.55" cy="416.72" r="0.95" fill="#e48c12"/>
<circle cx="64.58" cy="407.23" r="0.95" fill="#e48c12"/>
<circle cx="64.47" cy="407.14" r="0.95" fill="#e48c12"/>
<circle cx="68.18" cy="406.84" r="0.95" fill="#e48c12"/>
<circle cx="65.70" cy="417.20" r="0.95" fill="#e48c12"/>
<circle cx="68.58" cy="406.60" r="0.95" fill="#e48c12"/>
<circle cx="66.45" cy="400.80" r="0.95" fill="#e48c12"/>
<line x1="63.65" y1="412.50" x2="69.25" y2="412.50" stroke="#222" stroke-width="1.1" />
<circle cx="71.84" cy="413.94" r="0.95" fill="#e48c12"/>
<circle cx="73.59" cy="415.19" r="0.95" fill="#e48c12"/>
<circle cx="70.09" cy="415.20" r="0.95" fill="#e48c12"/>
<circle cx="72.89" cy="412.04" r="0.95" fill="#e48c12"/>
<circle cx="70.32" cy="415.63" r="0.95" fill="#e48c12"/>
<circle cx="72.23" cy="416.14" r="0.95" fill="#e48c12"/>
<circle cx="72.68" cy="416.64" r="0.95" fill="#e48c12"/>
<circle cx="71.14" cy="410.51" r="0.95" fill="#e48c12"/>
<circle cx="73.59" cy="410.00" r="0.95" fill="#e48c12"/>
<circle cx="71.49" cy="418.54" r="0.95" fill="#e48c12"/>
<circle cx="73.24" cy="419.80" r="0.95" fill="#e48c12"/>
<circle cx="71.84" cy="398.60" r="0.95" fill="#e48c12"/>
<circle cx="69.74" cy="398.34" r="0.95" fill="#e48c12"/>
<circle cx="71.84" cy="395.60" r="0.95" fill="#e48c12"/>
<line x1="69.04" y1="413.50" x2="74.64" y2="413.50" stroke="#222" stroke-width="1.1" />
<circle cx="77.23" cy="411.70" r="0.95" fill="#e48c12"/>
<circle cx="78.63" cy="409.92" r="0.95" fill="#e48c12"/>
<circle cx="75.13" cy="412.70" r="0.95" fill="#e48c12"/>
<circle cx="77.23" cy="408.26" r="0.95" fill="#e48c12"/>
<circle cx="79.33" cy="407.47" r="0.95" fill="#e48c12"/>
<circle cx="75.48" cy="406.84" r="0.95" fill="#e48c12"/>
<circle cx="77.23" cy="417.05" r="0.95" fill="#e48c12"/>
<circle cx="75.13" cy="417.18" r="0.95" fill="#e48c12"/>
<circle cx="77.23" cy="404.03" r="0.95" fill="#e48c12"/>
<circle cx="79.33" cy="403.60" r="0.95" fill="#e48c12"/>
<circle cx="75.48" cy="402.50" r="0.95" fill="#e48c12"/>
<circle cx="77.23" cy="419.80" r="0.95" fill="#e48c12"/>
<circle cx="77.23" cy="386.00" r="0.95" fill="#e48c12"/>
<line x1="74.43" y1="411.50" x2="80.03" y2="411.50" stroke="#222" stroke-width="1.1" />
<circle cx="82.62" cy="418.11" r="0.8" fill="#aeaeb6"/>
<circle cx="82.62" cy="414.34" r="0.8" fill="#aeaeb6"/>
<circle cx="82.62" cy="423.74" r="0.8" fill="#aeaeb6"/>
<circle cx="81.22" cy="424.90" r="0.8" fill="#aeaeb6"/>
<circle cx="83.67" cy="425.28" r="0.8" fill="#aeaeb6"/>
<circle cx="82.62" cy="411.59" r="0.8" fill="#aeaeb6"/>
<circle cx="82.62" cy="426.70" r="0.8" fill="#aeaeb6"/>
<circle cx="84.02" cy="410.30" r="0.8" fill="#aeaeb6"/>
<circle cx="82.62" cy="397.30" r="0.8" fill="#aeaeb6"/>
<line x1="79.82" y1="418.50" x2="85.42" y2="418.50" stroke="#222" stroke-width="1.1" />
<circle cx="88.01" cy="417.25" r="0.8" fill="#aeaeb6"/>
<circle cx="85.91" cy="417.33" r="0.8" fill="#aeaeb6"/>
<circle cx="89.76" cy="417.70" r="0.8" fill="#aeaeb6"/>
<circle cx="88.01" cy="419.38" r="0.8" fill="#aeaeb6"/>
<circle cx="86.26" cy="420.44" r="0.8" fill="#aeaeb6"/>
<circle cx="88.01" cy="423.30" r="0.8" fill="#aeaeb6"/>
<circle cx="88.01" cy="407.70" r="0.8" fill="#aeaeb6"/>
<line x1="85.21" y1="417.50" x2="90.81" y2="417.50" stroke="#222" stroke-width="1.1" />
<circle cx="93.40" cy="416.35" r="0.8" fill="#aeaeb6"/>
<circle cx="93.40" cy="419.91" r="0.8" fill="#aeaeb6"/>
<circle cx="93.40" cy="413.81" r="0.8" fill="#aeaeb6"/>
<circle cx="94.45" cy="421.50" r="0.8" fill="#aeaeb6"/>
<circle cx="93.40" cy="406.99" r="0.8" fill="#aeaeb6"/>
<circle cx="93.40" cy="399.61" r="0.8" fill="#aeaeb6"/>
<circle cx="93.40" cy="395.60" r="0.8" fill="#aeaeb6"/>
<line x1="90.60" y1="417.50" x2="96.20" y2="417.50" stroke="#222" stroke-width="1.1" />
<circle cx="98.79" cy="417.62" r="0.8" fill="#aeaeb6"/>
<circle cx="100.54" cy="418.15" r="0.8" fill="#aeaeb6"/>
<circle cx="97.04" cy="418.58" r="0.8" fill="#aeaeb6"/>
<circle cx="98.79" cy="420.16" r="0.8" fill="#aeaeb6"/>
<circle cx="100.19" cy="421.50" r="0.8" fill="#aeaeb6"/>
<circle cx="98.79" cy="409.81" r="0.8" fill="#aeaeb6"/>
<circle cx="98.79" cy="404.20" r="0.8" fill="#aeaeb6"/>
<line x1="95.99" y1="416.50" x2="101.59" y2="416.50" stroke="#222" stroke-width="1.1" />
<circle cx="104.18" cy="418.83" r="0.95" fill="#e48c12"/>
<circle cx="102.78" cy="420.49" r="0.95" fill="#e48c12"/>
<circle cx="104.88" cy="420.82" r="0.95" fill="#e48c12"/>
<circle cx="104.18" cy="415.85" r="0.95" fill="#e48c12"/>
<circle cx="104.18" cy="423.30" r="0.95" fill="#e48c12"/>
<circle cx="104.18" cy="409.48" r="0.95" fill="#e48c12"/>
<circle cx="104.18" cy="399.95" r="0.95" fill="#e48c12"/>
<circle cx="104.18" cy="396.95" r="0.95" fill="#e48c12"/>
<circle cx="104.18" cy="392.88" r="0.95" fill="#e48c12"/>
<circle cx="104.18" cy="390.40" r="0.95" fill="#e48c12"/>
<line x1="101.38" y1="418.50" x2="106.98" y2="418.50" stroke="#222" stroke-width="1.1" />
<circle cx="109.57" cy="417.17" r="0.95" fill="#e48c12"/>
<circle cx="107.47" cy="417.34" r="0.95" fill="#e48c12"/>
<circle cx="109.57" cy="414.53" r="0.95" fill="#e48c12"/>
<circle cx="111.67" cy="418.08" r="0.95" fill="#e48c12"/>
<circle cx="111.61" cy="419.07" r="0.95" fill="#e48c12"/>
<circle cx="109.57" cy="421.15" r="0.95" fill="#e48c12"/>
<circle cx="109.57" cy="423.30" r="0.95" fill="#e48c12"/>
<circle cx="109.57" cy="401.60" r="0.95" fill="#e48c12"/>
<circle cx="107.82" cy="400.34" r="0.95" fill="#e48c12"/>
<circle cx="109.57" cy="396.40" r="0.95" fill="#e48c12"/>
<line x1="106.77" y1="416.50" x2="112.37" y2="416.50" stroke="#222" stroke-width="1.1" />
<circle cx="114.96" cy="401.96" r="0.95" fill="#e48c12"/>
<circle cx="112.86" cy="402.63" r="0.95" fill="#e48c12"/>
<circle cx="114.96" cy="404.06" r="0.95" fill="#e48c12"/>
<circle cx="114.96" cy="398.87" r="0.95" fill="#e48c12"/>
<circle cx="112.86" cy="397.99" r="0.95" fill="#e48c12"/>
<circle cx="114.96" cy="408.62" r="0.95" fill="#e48c12"/>
<circle cx="114.96" cy="392.59" r="0.95" fill="#e48c12"/>
<circle cx="114.96" cy="411.99" r="0.95" fill="#e48c12"/>
<circle cx="114.96" cy="390.40" r="0.95" fill="#e48c12"/>
<circle cx="114.96" cy="421.50" r="0.95" fill="#e48c12"/>
<line x1="112.16" y1="401.50" x2="117.76" y2="401.50" stroke="#222" stroke-width="1.1" />
<circle cx="120.35" cy="414.16" r="0.95" fill="#e48c12"/>
<circle cx="118.95" cy="415.92" r="0.95" fill="#e48c12"/>
<circle cx="121.75" cy="415.93" r="0.95" fill="#e48c12"/>
<circle cx="118.06" cy="416.61" r="0.95" fill="#e48c12"/>
<circle cx="118.57" cy="416.69" r="0.95" fill="#e48c12"/>
<circle cx="120.35" cy="421.41" r="0.95" fill="#e48c12"/>
<circle cx="122.45" cy="421.42" r="0.95" fill="#e48c12"/>
<circle cx="120.35" cy="402.28" r="0.95" fill="#e48c12"/>
<circle cx="120.35" cy="431.00" r="0.95" fill="#e48c12"/>
<circle cx="120.35" cy="396.40" r="0.95" fill="#e48c12"/>
<line x1="117.55" y1="414.50" x2="123.15" y2="414.50" stroke="#222" stroke-width="1.1" />
<rect x="53.57" y="434.20" width="9.6" height="6.6" fill="#fff"/>
<rect x="94.88" y="434.20" width="13.2" height="6.6" fill="#fff"/>
<text x="58.37" y="439.60" font-size="6.4" text-anchor="middle" fill="#3f62a8" textLength="8.6" lengthAdjust="spacingAndGlyphs"  stroke="#3f62a8" stroke-width="0.16">AC</text>
<text x="101.48" y="439.60" font-size="6.4" text-anchor="middle" fill="#c8376a" textLength="12.0" lengthAdjust="spacingAndGlyphs"  stroke="#c8376a" stroke-width="0.16">TMS</text>
<ellipse cx="55.4" cy="375.0" rx="1.3" ry="1.7" fill="#484848"/>
<polyline points="44.4,404.8 44.4,379.4 66.3,379.4 66.3,399.6" fill="none" stroke="#3a3a3a" stroke-width="1.2"/>
<line x1="160.50" y1="380.80" x2="160.50" y2="445.10" stroke="#1a1a1a" stroke-width="1.25" />
<line x1="159.90" y1="444.50" x2="251.00" y2="444.50" stroke="#1a1a1a" stroke-width="1.25" />
<line x1="158.70" y1="384.00" x2="161.00" y2="384.00" stroke="#222" stroke-width="1.0" />
<text x="152.80" y="386.00" font-size="5.8" text-anchor="end" fill="#333" stroke="#333" stroke-width="0.24">10</text>
<text x="153.20" y="383.00" font-size="3.6" text-anchor="start" fill="#333">5</text>
<line x1="158.70" y1="399.07" x2="161.00" y2="399.07" stroke="#222" stroke-width="1.0" />
<text x="152.80" y="401.07" font-size="5.8" text-anchor="end" fill="#333" stroke="#333" stroke-width="0.24">10</text>
<text x="153.20" y="398.07" font-size="3.6" text-anchor="start" fill="#333">4</text>
<line x1="158.70" y1="414.15" x2="161.00" y2="414.15" stroke="#222" stroke-width="1.0" />
<text x="152.80" y="416.15" font-size="5.8" text-anchor="end" fill="#333" stroke="#333" stroke-width="0.24">10</text>
<text x="153.20" y="413.15" font-size="3.6" text-anchor="start" fill="#333">3</text>
<line x1="158.70" y1="429.23" x2="161.00" y2="429.23" stroke="#222" stroke-width="1.0" />
<text x="152.80" y="431.23" font-size="5.8" text-anchor="end" fill="#333" stroke="#333" stroke-width="0.24">10</text>
<text x="153.20" y="428.23" font-size="3.6" text-anchor="start" fill="#333">2</text>
<line x1="158.70" y1="444.30" x2="161.00" y2="444.30" stroke="#222" stroke-width="1.0" />
<text x="152.80" y="446.30" font-size="5.8" text-anchor="end" fill="#333" stroke="#333" stroke-width="0.24">10</text>
<text x="153.20" y="443.30" font-size="3.6" text-anchor="start" fill="#333">1</text>
<line x1="165.70" y1="444.30" x2="165.70" y2="446.70" stroke="#222" stroke-width="1.0" />
<line x1="171.09" y1="444.30" x2="171.09" y2="446.70" stroke="#222" stroke-width="1.0" />
<line x1="176.48" y1="444.30" x2="176.48" y2="446.70" stroke="#222" stroke-width="1.0" />
<line x1="181.87" y1="444.30" x2="181.87" y2="446.70" stroke="#222" stroke-width="1.0" />
<line x1="187.26" y1="444.30" x2="187.26" y2="446.70" stroke="#222" stroke-width="1.0" />
<line x1="192.65" y1="444.30" x2="192.65" y2="446.70" stroke="#222" stroke-width="1.0" />
<line x1="198.04" y1="444.30" x2="198.04" y2="446.70" stroke="#222" stroke-width="1.0" />
<line x1="203.43" y1="444.30" x2="203.43" y2="446.70" stroke="#222" stroke-width="1.0" />
<line x1="208.82" y1="444.30" x2="208.82" y2="446.70" stroke="#222" stroke-width="1.0" />
<line x1="214.21" y1="444.30" x2="214.21" y2="446.70" stroke="#222" stroke-width="1.0" />
<line x1="219.60" y1="444.30" x2="219.60" y2="446.70" stroke="#222" stroke-width="1.0" />
<line x1="224.99" y1="444.30" x2="224.99" y2="446.70" stroke="#222" stroke-width="1.0" />
<line x1="230.38" y1="444.30" x2="230.38" y2="446.70" stroke="#222" stroke-width="1.0" />
<line x1="235.77" y1="444.30" x2="235.77" y2="446.70" stroke="#222" stroke-width="1.0" />
<line x1="241.16" y1="444.30" x2="241.16" y2="446.70" stroke="#222" stroke-width="1.0" />
<line x1="246.55" y1="444.30" x2="246.55" y2="446.70" stroke="#222" stroke-width="1.0" />
<text x="206.00" y="368.00" font-size="8.8" text-anchor="middle" fill="#333" textLength="62.8" lengthAdjust="spacingAndGlyphs" stroke="#333" stroke-width="0.18">ST2: CGVHD 2-3</text>
<text x="206.00" y="467.00" font-size="8.6" text-anchor="middle" fill="#333" font-weight="bold" textLength="18.3" lengthAdjust="spacingAndGlyphs" stroke="#333" stroke-width="0.2">Months</text>
<text x="0" y="0" font-size="7.9" text-anchor="middle" fill="#333" stroke="#333" stroke-width="0.25" textLength="16.6" lengthAdjust="spacingAndGlyphs" transform="translate(139.50,412.20) rotate(-90)">pg/mL</text>
<text x="165.70" y="455.60" font-size="6.4" text-anchor="middle" fill="#333" stroke="#333" stroke-width="0.2">3</text>
<text x="171.09" y="455.60" font-size="6.4" text-anchor="middle" fill="#333" stroke="#333" stroke-width="0.2">6</text>
<text x="176.48" y="455.60" font-size="6.4" text-anchor="middle" fill="#333" stroke="#333" stroke-width="0.2">9</text>
<text x="181.87" y="455.60" font-size="6.4" text-anchor="middle" fill="#333" textLength="5.8" lengthAdjust="spacingAndGlyphs" stroke="#333" stroke-width="0.2">12</text>
<text x="187.26" y="455.60" font-size="6.4" text-anchor="middle" fill="#333" stroke="#333" stroke-width="0.2">3</text>
<text x="192.65" y="455.60" font-size="6.4" text-anchor="middle" fill="#333" stroke="#333" stroke-width="0.2">6</text>
<text x="198.04" y="455.60" font-size="6.4" text-anchor="middle" fill="#333" stroke="#333" stroke-width="0.2">9</text>
<text x="203.43" y="455.60" font-size="6.4" text-anchor="middle" fill="#333" textLength="5.8" lengthAdjust="spacingAndGlyphs" stroke="#333" stroke-width="0.2">12</text>
<text x="208.82" y="455.60" font-size="6.4" text-anchor="middle" fill="#333" stroke="#333" stroke-width="0.2">3</text>
<text x="214.21" y="455.60" font-size="6.4" text-anchor="middle" fill="#333" stroke="#333" stroke-width="0.2">6</text>
<text x="219.60" y="455.60" font-size="6.4" text-anchor="middle" fill="#333" stroke="#333" stroke-width="0.2">9</text>
<text x="224.99" y="455.60" font-size="6.4" text-anchor="middle" fill="#333" textLength="5.8" lengthAdjust="spacingAndGlyphs" stroke="#333" stroke-width="0.2">12</text>
<text x="230.38" y="455.60" font-size="6.4" text-anchor="middle" fill="#333" stroke="#333" stroke-width="0.2">3</text>
<text x="235.77" y="455.60" font-size="6.4" text-anchor="middle" fill="#333" stroke="#333" stroke-width="0.2">6</text>
<text x="241.16" y="455.60" font-size="6.4" text-anchor="middle" fill="#333" stroke="#333" stroke-width="0.2">9</text>
<text x="246.55" y="455.60" font-size="6.4" text-anchor="middle" fill="#333" textLength="5.8" lengthAdjust="spacingAndGlyphs" stroke="#333" stroke-width="0.2">12</text>
<line x1="206.12" y1="383.90" x2="206.12" y2="444.30" stroke="#b0aca8" stroke-width="1.4" />
<line x1="184.56" y1="384.20" x2="184.56" y2="444.30" stroke="#80808c" stroke-width="1.1" stroke-dasharray="1.9,2.3"/>
<line x1="227.69" y1="384.20" x2="227.69" y2="444.30" stroke="#80808c" stroke-width="1.1" stroke-dasharray="1.9,2.3"/>
<circle cx="165.70" cy="415.91" r="0.8" fill="#aeaeb6"/>
<circle cx="165.70" cy="411.92" r="0.8" fill="#aeaeb6"/>
<circle cx="163.60" cy="411.82" r="0.8" fill="#aeaeb6"/>
<circle cx="165.70" cy="407.46" r="0.8" fill="#aeaeb6"/>
<circle cx="167.10" cy="406.38" r="0.8" fill="#aeaeb6"/>
<circle cx="164.65" cy="406.00" r="0.8" fill="#aeaeb6"/>
<circle cx="165.70" cy="423.25" r="0.8" fill="#aeaeb6"/>
<circle cx="165.70" cy="426.70" r="0.8" fill="#aeaeb6"/>
<line x1="162.90" y1="414.50" x2="168.50" y2="414.50" stroke="#222" stroke-width="1.1" />
<circle cx="171.09" cy="417.58" r="0.8" fill="#aeaeb6"/>
<circle cx="169.34" cy="417.90" r="0.8" fill="#aeaeb6"/>
<circle cx="171.09" cy="419.93" r="0.8" fill="#aeaeb6"/>
<circle cx="172.14" cy="421.50" r="0.8" fill="#aeaeb6"/>
<circle cx="171.09" cy="408.93" r="0.8" fill="#aeaeb6"/>
<circle cx="171.09" cy="407.01" r="0.8" fill="#aeaeb6"/>
<circle cx="169.34" cy="406.24" r="0.8" fill="#aeaeb6"/>
<circle cx="171.09" cy="404.20" r="0.8" fill="#aeaeb6"/>
<line x1="168.29" y1="415.50" x2="173.89" y2="415.50" stroke="#222" stroke-width="1.1" />
<circle cx="176.48" cy="416.03" r="0.8" fill="#aeaeb6"/>
<circle cx="174.38" cy="416.04" r="0.8" fill="#aeaeb6"/>
<circle cx="178.23" cy="415.75" r="0.8" fill="#aeaeb6"/>
<circle cx="176.48" cy="413.58" r="0.8" fill="#aeaeb6"/>
<circle cx="176.48" cy="419.58" r="0.8" fill="#aeaeb6"/>
<circle cx="178.23" cy="419.80" r="0.8" fill="#aeaeb6"/>
<circle cx="176.48" cy="404.32" r="0.8" fill="#aeaeb6"/>
<circle cx="176.48" cy="395.60" r="0.8" fill="#aeaeb6"/>
<line x1="173.68" y1="416.50" x2="179.28" y2="416.50" stroke="#222" stroke-width="1.1" />
<circle cx="181.87" cy="415.06" r="0.8" fill="#aeaeb6"/>
<circle cx="181.87" cy="417.40" r="0.8" fill="#aeaeb6"/>
<circle cx="181.17" cy="413.36" r="0.8" fill="#aeaeb6"/>
<circle cx="182.92" cy="412.35" r="0.8" fill="#aeaeb6"/>
<circle cx="181.87" cy="421.50" r="0.8" fill="#aeaeb6"/>
<circle cx="181.87" cy="406.71" r="0.8" fill="#aeaeb6"/>
<circle cx="183.97" cy="406.62" r="0.8" fill="#aeaeb6"/>
<circle cx="181.87" cy="402.50" r="0.8" fill="#aeaeb6"/>
<line x1="179.07" y1="415.50" x2="184.67" y2="415.50" stroke="#222" stroke-width="1.1" />
<circle cx="187.26" cy="408.38" r="0.95" fill="#5e5e9c"/>
<circle cx="185.16" cy="408.36" r="0.95" fill="#5e5e9c"/>
<circle cx="189.36" cy="408.22" r="0.95" fill="#5e5e9c"/>
<circle cx="187.26" cy="406.00" r="0.95" fill="#5e5e9c"/>
<circle cx="187.26" cy="416.93" r="0.95" fill="#5e5e9c"/>
<circle cx="185.16" cy="418.07" r="0.95" fill="#5e5e9c"/>
<circle cx="187.26" cy="420.84" r="0.95" fill="#5e5e9c"/>
<circle cx="188.66" cy="422.40" r="0.95" fill="#5e5e9c"/>
<line x1="184.46" y1="410.50" x2="190.06" y2="410.50" stroke="#222" stroke-width="1.1" />
<circle cx="192.65" cy="412.82" r="0.95" fill="#5e5e9c"/>
<circle cx="194.75" cy="412.99" r="0.95" fill="#5e5e9c"/>
<circle cx="190.90" cy="414.28" r="0.95" fill="#5e5e9c"/>
<circle cx="192.37" cy="414.60" r="0.95" fill="#5e5e9c"/>
<circle cx="192.65" cy="410.54" r="0.95" fill="#5e5e9c"/>
<circle cx="192.65" cy="406.00" r="0.95" fill="#5e5e9c"/>
<line x1="189.85" y1="412.50" x2="195.45" y2="412.50" stroke="#222" stroke-width="1.1" />
<circle cx="198.04" cy="407.15" r="0.95" fill="#5e5e9c"/>
<circle cx="199.79" cy="405.93" r="0.95" fill="#5e5e9c"/>
<circle cx="196.29" cy="405.66" r="0.95" fill="#5e5e9c"/>
<circle cx="198.04" cy="409.34" r="0.95" fill="#5e5e9c"/>
<circle cx="198.04" cy="402.21" r="0.95" fill="#5e5e9c"/>
<circle cx="200.14" cy="401.60" r="0.95" fill="#5e5e9c"/>
<circle cx="198.04" cy="413.70" r="0.95" fill="#5e5e9c"/>
<line x1="195.24" y1="406.50" x2="200.84" y2="406.50" stroke="#222" stroke-width="1.1" />
<circle cx="203.43" cy="410.46" r="0.95" fill="#5e5e9c"/>
<circle cx="205.53" cy="410.03" r="0.95" fill="#5e5e9c"/>
<circle cx="201.33" cy="411.04" r="0.95" fill="#5e5e9c"/>
<circle cx="203.18" cy="412.00" r="0.95" fill="#5e5e9c"/>
<circle cx="203.43" cy="406.80" r="0.95" fill="#5e5e9c"/>
<circle cx="203.43" cy="392.10" r="0.95" fill="#5e5e9c"/>
<line x1="200.63" y1="410.50" x2="206.23" y2="410.50" stroke="#222" stroke-width="1.1" />
<circle cx="208.82" cy="423.57" r="0.8" fill="#aeaeb6"/>
<circle cx="208.82" cy="425.80" r="0.8" fill="#aeaeb6"/>
<circle cx="208.82" cy="416.30" r="0.8" fill="#aeaeb6"/>
<line x1="206.02" y1="421.50" x2="211.62" y2="421.50" stroke="#222" stroke-width="1.1" />
<circle cx="214.21" cy="418.19" r="0.8" fill="#aeaeb6"/>
<circle cx="212.11" cy="418.00" r="0.8" fill="#aeaeb6"/>
<circle cx="214.21" cy="425.80" r="0.8" fill="#aeaeb6"/>
<circle cx="214.21" cy="407.70" r="0.8" fill="#aeaeb6"/>
<line x1="211.41" y1="418.50" x2="217.01" y2="418.50" stroke="#222" stroke-width="1.1" />
<circle cx="219.60" cy="408.50" r="0.8" fill="#aeaeb6"/>
<circle cx="217.85" cy="407.70" r="0.8" fill="#aeaeb6"/>
<circle cx="219.60" cy="395.60" r="0.8" fill="#aeaeb6"/>
<line x1="216.80" y1="408.50" x2="222.40" y2="408.50" stroke="#222" stroke-width="1.1" />
<circle cx="224.99" cy="413.74" r="0.8" fill="#aeaeb6"/>
<circle cx="224.99" cy="411.79" r="0.8" fill="#aeaeb6"/>
<circle cx="223.24" cy="411.10" r="0.8" fill="#aeaeb6"/>
<circle cx="224.99" cy="423.30" r="0.8" fill="#aeaeb6"/>
<line x1="222.19" y1="416.50" x2="227.79" y2="416.50" stroke="#222" stroke-width="1.1" />
<circle cx="230.38" cy="417.62" r="0.95" fill="#5e5e9c"/>
<circle cx="231.78" cy="419.26" r="0.95" fill="#5e5e9c"/>
<circle cx="229.68" cy="419.62" r="0.95" fill="#5e5e9c"/>
<circle cx="228.74" cy="420.12" r="0.95" fill="#5e5e9c"/>
<circle cx="232.19" cy="420.78" r="0.95" fill="#5e5e9c"/>
<circle cx="230.38" cy="423.86" r="0.95" fill="#5e5e9c"/>
<circle cx="228.28" cy="424.22" r="0.95" fill="#5e5e9c"/>
<circle cx="232.48" cy="424.79" r="0.95" fill="#5e5e9c"/>
<circle cx="230.38" cy="408.98" r="0.95" fill="#5e5e9c"/>
<circle cx="228.15" cy="425.76" r="0.95" fill="#5e5e9c"/>
<circle cx="230.38" cy="426.70" r="0.95" fill="#5e5e9c"/>
<circle cx="228.98" cy="407.39" r="0.95" fill="#5e5e9c"/>
<circle cx="230.38" cy="401.64" r="0.95" fill="#5e5e9c"/>
<circle cx="230.38" cy="390.40" r="0.95" fill="#5e5e9c"/>
<line x1="227.58" y1="417.50" x2="233.18" y2="417.50" stroke="#222" stroke-width="1.1" />
<circle cx="235.77" cy="418.93" r="0.95" fill="#5e5e9c"/>
<circle cx="237.87" cy="419.77" r="0.95" fill="#5e5e9c"/>
<circle cx="235.77" cy="413.54" r="0.95" fill="#5e5e9c"/>
<circle cx="234.72" cy="420.88" r="0.95" fill="#5e5e9c"/>
<circle cx="236.82" cy="421.67" r="0.95" fill="#5e5e9c"/>
<circle cx="237.61" cy="421.80" r="0.95" fill="#5e5e9c"/>
<circle cx="236.18" cy="422.04" r="0.95" fill="#5e5e9c"/>
<circle cx="235.77" cy="424.22" r="0.95" fill="#5e5e9c"/>
<circle cx="233.67" cy="424.52" r="0.95" fill="#5e5e9c"/>
<circle cx="235.77" cy="408.84" r="0.95" fill="#5e5e9c"/>
<circle cx="235.77" cy="426.70" r="0.95" fill="#5e5e9c"/>
<circle cx="235.77" cy="406.69" r="0.95" fill="#5e5e9c"/>
<circle cx="237.87" cy="406.61" r="0.95" fill="#5e5e9c"/>
<circle cx="235.77" cy="396.40" r="0.95" fill="#5e5e9c"/>
<line x1="232.97" y1="416.50" x2="238.57" y2="416.50" stroke="#222" stroke-width="1.1" />
<circle cx="241.16" cy="417.83" r="0.95" fill="#5e5e9c"/>
<circle cx="243.26" cy="418.06" r="0.95" fill="#5e5e9c"/>
<circle cx="241.16" cy="414.39" r="0.95" fill="#5e5e9c"/>
<circle cx="241.16" cy="420.21" r="0.95" fill="#5e5e9c"/>
<circle cx="241.16" cy="422.37" r="0.95" fill="#5e5e9c"/>
<circle cx="243.26" cy="422.40" r="0.95" fill="#5e5e9c"/>
<circle cx="241.16" cy="409.70" r="0.95" fill="#5e5e9c"/>
<circle cx="241.16" cy="405.24" r="0.95" fill="#5e5e9c"/>
<circle cx="239.41" cy="403.99" r="0.95" fill="#5e5e9c"/>
<circle cx="241.16" cy="402.40" r="0.95" fill="#5e5e9c"/>
<circle cx="243.26" cy="402.33" r="0.95" fill="#5e5e9c"/>
<circle cx="241.16" cy="394.05" r="0.95" fill="#5e5e9c"/>
<circle cx="241.16" cy="391.87" r="0.95" fill="#5e5e9c"/>
<circle cx="239.41" cy="390.40" r="0.95" fill="#5e5e9c"/>
<line x1="238.36" y1="416.50" x2="243.96" y2="416.50" stroke="#222" stroke-width="1.1" />
<circle cx="246.55" cy="415.48" r="0.95" fill="#5e5e9c"/>
<circle cx="244.45" cy="415.68" r="0.95" fill="#5e5e9c"/>
<circle cx="248.30" cy="413.93" r="0.95" fill="#5e5e9c"/>
<circle cx="246.55" cy="418.08" r="0.95" fill="#5e5e9c"/>
<circle cx="246.55" cy="411.63" r="0.95" fill="#5e5e9c"/>
<circle cx="245.50" cy="409.70" r="0.95" fill="#5e5e9c"/>
<circle cx="246.55" cy="421.38" r="0.95" fill="#5e5e9c"/>
<circle cx="244.45" cy="421.59" r="0.95" fill="#5e5e9c"/>
<circle cx="247.25" cy="408.28" r="0.95" fill="#5e5e9c"/>
<circle cx="246.55" cy="423.83" r="0.95" fill="#5e5e9c"/>
<circle cx="246.55" cy="404.70" r="0.95" fill="#5e5e9c"/>
<circle cx="246.55" cy="402.36" r="0.95" fill="#5e5e9c"/>
<circle cx="246.55" cy="432.00" r="0.95" fill="#5e5e9c"/>
<circle cx="246.55" cy="396.40" r="0.95" fill="#5e5e9c"/>
<line x1="243.75" y1="415.50" x2="249.35" y2="415.50" stroke="#222" stroke-width="1.1" />
<rect x="179.76" y="434.20" width="9.6" height="6.6" fill="#fff"/>
<rect x="221.09" y="434.20" width="13.2" height="6.6" fill="#fff"/>
<text x="184.56" y="439.60" font-size="6.4" text-anchor="middle" fill="#3f62a8" textLength="8.6" lengthAdjust="spacingAndGlyphs"  stroke="#3f62a8" stroke-width="0.16">AC</text>
<text x="227.69" y="439.60" font-size="6.4" text-anchor="middle" fill="#c8376a" textLength="12.0" lengthAdjust="spacingAndGlyphs"  stroke="#c8376a" stroke-width="0.16">TMS</text>
<text x="186.30" y="377.40" font-size="6.4" text-anchor="middle" fill="#333" textLength="18.6" lengthAdjust="spacingAndGlyphs"  stroke="#333" stroke-width="0.16">0.0117</text>
<polyline points="175.4,392.1 175.4,379.4 197.3,379.4 197.3,398.5" fill="none" stroke="#3a3a3a" stroke-width="1.2"/>
<line x1="294.50" y1="380.80" x2="294.50" y2="445.10" stroke="#1a1a1a" stroke-width="1.25" />
<line x1="293.90" y1="444.50" x2="384.40" y2="444.50" stroke="#1a1a1a" stroke-width="1.25" />
<line x1="292.10" y1="384.00" x2="294.40" y2="384.00" stroke="#222" stroke-width="1.0" />
<text x="286.20" y="386.00" font-size="5.8" text-anchor="end" fill="#333" stroke="#333" stroke-width="0.24">10</text>
<text x="286.60" y="383.00" font-size="3.6" text-anchor="start" fill="#333">5</text>
<line x1="292.10" y1="399.07" x2="294.40" y2="399.07" stroke="#222" stroke-width="1.0" />
<text x="286.20" y="401.07" font-size="5.8" text-anchor="end" fill="#333" stroke="#333" stroke-width="0.24">10</text>
<text x="286.60" y="398.07" font-size="3.6" text-anchor="start" fill="#333">4</text>
<line x1="292.10" y1="414.15" x2="294.40" y2="414.15" stroke="#222" stroke-width="1.0" />
<text x="286.20" y="416.15" font-size="5.8" text-anchor="end" fill="#333" stroke="#333" stroke-width="0.24">10</text>
<text x="286.60" y="413.15" font-size="3.6" text-anchor="start" fill="#333">3</text>
<line x1="292.10" y1="429.23" x2="294.40" y2="429.23" stroke="#222" stroke-width="1.0" />
<text x="286.20" y="431.23" font-size="5.8" text-anchor="end" fill="#333" stroke="#333" stroke-width="0.24">10</text>
<text x="286.60" y="428.23" font-size="3.6" text-anchor="start" fill="#333">2</text>
<line x1="292.10" y1="444.30" x2="294.40" y2="444.30" stroke="#222" stroke-width="1.0" />
<text x="286.20" y="446.30" font-size="5.8" text-anchor="end" fill="#333" stroke="#333" stroke-width="0.24">10</text>
<text x="286.60" y="443.30" font-size="3.6" text-anchor="start" fill="#333">1</text>
<line x1="299.10" y1="444.30" x2="299.10" y2="446.70" stroke="#222" stroke-width="1.0" />
<line x1="304.49" y1="444.30" x2="304.49" y2="446.70" stroke="#222" stroke-width="1.0" />
<line x1="309.88" y1="444.30" x2="309.88" y2="446.70" stroke="#222" stroke-width="1.0" />
<line x1="315.27" y1="444.30" x2="315.27" y2="446.70" stroke="#222" stroke-width="1.0" />
<line x1="320.66" y1="444.30" x2="320.66" y2="446.70" stroke="#222" stroke-width="1.0" />
<line x1="326.05" y1="444.30" x2="326.05" y2="446.70" stroke="#222" stroke-width="1.0" />
<line x1="331.44" y1="444.30" x2="331.44" y2="446.70" stroke="#222" stroke-width="1.0" />
<line x1="336.83" y1="444.30" x2="336.83" y2="446.70" stroke="#222" stroke-width="1.0" />
<line x1="342.22" y1="444.30" x2="342.22" y2="446.70" stroke="#222" stroke-width="1.0" />
<line x1="347.61" y1="444.30" x2="347.61" y2="446.70" stroke="#222" stroke-width="1.0" />
<line x1="353.00" y1="444.30" x2="353.00" y2="446.70" stroke="#222" stroke-width="1.0" />
<line x1="358.39" y1="444.30" x2="358.39" y2="446.70" stroke="#222" stroke-width="1.0" />
<line x1="363.78" y1="444.30" x2="363.78" y2="446.70" stroke="#222" stroke-width="1.0" />
<line x1="369.17" y1="444.30" x2="369.17" y2="446.70" stroke="#222" stroke-width="1.0" />
<line x1="374.56" y1="444.30" x2="374.56" y2="446.70" stroke="#222" stroke-width="1.0" />
<line x1="379.95" y1="444.30" x2="379.95" y2="446.70" stroke="#222" stroke-width="1.0" />
<text x="339.50" y="368.00" font-size="8.8" text-anchor="middle" fill="#333" textLength="79.4" lengthAdjust="spacingAndGlyphs" stroke="#333" stroke-width="0.18">CXCL10: AGVHD II-IV</text>
<text x="339.40" y="467.00" font-size="8.6" text-anchor="middle" fill="#333" font-weight="bold" textLength="18.3" lengthAdjust="spacingAndGlyphs" stroke="#333" stroke-width="0.2">Months</text>
<text x="0" y="0" font-size="7.9" text-anchor="middle" fill="#333" stroke="#333" stroke-width="0.25" textLength="16.6" lengthAdjust="spacingAndGlyphs" transform="translate(272.90,412.20) rotate(-90)">pg/mL</text>
<text x="299.10" y="455.60" font-size="6.4" text-anchor="middle" fill="#333" stroke="#333" stroke-width="0.2">3</text>
<text x="304.49" y="455.60" font-size="6.4" text-anchor="middle" fill="#333" stroke="#333" stroke-width="0.2">6</text>
<text x="309.88" y="455.60" font-size="6.4" text-anchor="middle" fill="#333" stroke="#333" stroke-width="0.2">9</text>
<text x="315.27" y="455.60" font-size="6.4" text-anchor="middle" fill="#333" textLength="5.8" lengthAdjust="spacingAndGlyphs" stroke="#333" stroke-width="0.2">12</text>
<text x="320.66" y="455.60" font-size="6.4" text-anchor="middle" fill="#333" stroke="#333" stroke-width="0.2">3</text>
<text x="326.05" y="455.60" font-size="6.4" text-anchor="middle" fill="#333" stroke="#333" stroke-width="0.2">6</text>
<text x="331.44" y="455.60" font-size="6.4" text-anchor="middle" fill="#333" stroke="#333" stroke-width="0.2">9</text>
<text x="336.83" y="455.60" font-size="6.4" text-anchor="middle" fill="#333" textLength="5.8" lengthAdjust="spacingAndGlyphs" stroke="#333" stroke-width="0.2">12</text>
<text x="342.22" y="455.60" font-size="6.4" text-anchor="middle" fill="#333" stroke="#333" stroke-width="0.2">3</text>
<text x="347.61" y="455.60" font-size="6.4" text-anchor="middle" fill="#333" stroke="#333" stroke-width="0.2">6</text>
<text x="353.00" y="455.60" font-size="6.4" text-anchor="middle" fill="#333" stroke="#333" stroke-width="0.2">9</text>
<text x="358.39" y="455.60" font-size="6.4" text-anchor="middle" fill="#333" textLength="5.8" lengthAdjust="spacingAndGlyphs" stroke="#333" stroke-width="0.2">12</text>
<text x="363.78" y="455.60" font-size="6.4" text-anchor="middle" fill="#333" stroke="#333" stroke-width="0.2">3</text>
<text x="369.17" y="455.60" font-size="6.4" text-anchor="middle" fill="#333" stroke="#333" stroke-width="0.2">6</text>
<text x="374.56" y="455.60" font-size="6.4" text-anchor="middle" fill="#333" stroke="#333" stroke-width="0.2">9</text>
<text x="379.95" y="455.60" font-size="6.4" text-anchor="middle" fill="#333" textLength="5.8" lengthAdjust="spacingAndGlyphs" stroke="#333" stroke-width="0.2">12</text>
<line x1="339.52" y1="383.90" x2="339.52" y2="444.30" stroke="#5e5e5e" stroke-width="1.0" />
<line x1="317.96" y1="384.20" x2="317.96" y2="444.30" stroke="#50506a" stroke-width="1.0" stroke-dasharray="1.9,2.3"/>
<line x1="361.08" y1="384.20" x2="361.08" y2="444.30" stroke="#50506a" stroke-width="1.0" stroke-dasharray="1.9,2.3"/>
<circle cx="299.10" cy="424.28" r="0.8" fill="#aeaeb6"/>
<circle cx="299.10" cy="421.19" r="0.8" fill="#aeaeb6"/>
<circle cx="298.05" cy="425.72" r="0.8" fill="#aeaeb6"/>
<circle cx="299.45" cy="426.87" r="0.8" fill="#aeaeb6"/>
<circle cx="299.10" cy="419.17" r="0.8" fill="#aeaeb6"/>
<circle cx="298.05" cy="428.26" r="0.8" fill="#aeaeb6"/>
<circle cx="299.10" cy="431.90" r="0.8" fill="#aeaeb6"/>
<circle cx="299.10" cy="410.30" r="0.8" fill="#aeaeb6"/>
<circle cx="299.10" cy="399.00" r="0.8" fill="#aeaeb6"/>
<line x1="296.30" y1="423.50" x2="301.90" y2="423.50" stroke="#222" stroke-width="1.1" />
<circle cx="304.49" cy="428.11" r="0.8" fill="#aeaeb6"/>
<circle cx="304.49" cy="430.13" r="0.8" fill="#aeaeb6"/>
<circle cx="304.49" cy="432.71" r="0.8" fill="#aeaeb6"/>
<circle cx="304.49" cy="424.66" r="0.8" fill="#aeaeb6"/>
<circle cx="304.49" cy="420.80" r="0.8" fill="#aeaeb6"/>
<circle cx="304.49" cy="439.70" r="0.8" fill="#aeaeb6"/>
<circle cx="304.49" cy="413.25" r="0.8" fill="#aeaeb6"/>
<circle cx="304.49" cy="408.50" r="0.8" fill="#aeaeb6"/>
<line x1="301.69" y1="429.50" x2="307.29" y2="429.50" stroke="#222" stroke-width="1.1" />
<circle cx="309.88" cy="427.15" r="0.8" fill="#aeaeb6"/>
<circle cx="311.63" cy="427.76" r="0.8" fill="#aeaeb6"/>
<circle cx="309.88" cy="424.27" r="0.8" fill="#aeaeb6"/>
<circle cx="308.13" cy="423.76" r="0.8" fill="#aeaeb6"/>
<circle cx="309.88" cy="421.85" r="0.8" fill="#aeaeb6"/>
<circle cx="308.13" cy="421.50" r="0.8" fill="#aeaeb6"/>
<circle cx="309.88" cy="437.10" r="0.8" fill="#aeaeb6"/>
<line x1="307.08" y1="426.50" x2="312.68" y2="426.50" stroke="#222" stroke-width="1.1" />
<circle cx="315.27" cy="422.58" r="0.8" fill="#aeaeb6"/>
<circle cx="315.27" cy="426.70" r="0.8" fill="#aeaeb6"/>
<circle cx="315.27" cy="430.64" r="0.8" fill="#aeaeb6"/>
<circle cx="315.27" cy="417.54" r="0.8" fill="#aeaeb6"/>
<circle cx="313.52" cy="431.29" r="0.8" fill="#aeaeb6"/>
<circle cx="315.27" cy="433.60" r="0.8" fill="#aeaeb6"/>
<circle cx="315.27" cy="413.70" r="0.8" fill="#aeaeb6"/>
<line x1="312.47" y1="424.50" x2="318.07" y2="424.50" stroke="#222" stroke-width="1.1" />
<circle cx="320.66" cy="423.25" r="0.95" fill="#e48c12"/>
<circle cx="322.76" cy="422.80" r="0.95" fill="#e48c12"/>
<circle cx="318.56" cy="423.92" r="0.95" fill="#e48c12"/>
<circle cx="322.18" cy="424.22" r="0.95" fill="#e48c12"/>
<circle cx="320.31" cy="425.35" r="0.95" fill="#e48c12"/>
<circle cx="320.66" cy="420.97" r="0.95" fill="#e48c12"/>
<circle cx="321.71" cy="427.01" r="0.95" fill="#e48c12"/>
<circle cx="319.26" cy="419.27" r="0.95" fill="#e48c12"/>
<circle cx="319.61" cy="427.61" r="0.95" fill="#e48c12"/>
<circle cx="321.36" cy="418.60" r="0.95" fill="#e48c12"/>
<circle cx="322.39" cy="428.35" r="0.95" fill="#e48c12"/>
<circle cx="320.66" cy="431.90" r="0.95" fill="#e48c12"/>
<circle cx="320.66" cy="414.20" r="0.95" fill="#e48c12"/>
<circle cx="320.66" cy="411.10" r="0.95" fill="#e48c12"/>
<circle cx="320.66" cy="401.60" r="0.95" fill="#e48c12"/>
<line x1="317.86" y1="423.50" x2="323.46" y2="423.50" stroke="#222" stroke-width="1.1" />
<circle cx="326.05" cy="425.42" r="0.95" fill="#e48c12"/>
<circle cx="328.15" cy="425.48" r="0.95" fill="#e48c12"/>
<circle cx="323.95" cy="425.86" r="0.95" fill="#e48c12"/>
<circle cx="325.34" cy="425.91" r="0.95" fill="#e48c12"/>
<circle cx="324.42" cy="426.76" r="0.95" fill="#e48c12"/>
<circle cx="323.76" cy="426.94" r="0.95" fill="#e48c12"/>
<circle cx="325.56" cy="427.21" r="0.95" fill="#e48c12"/>
<circle cx="327.80" cy="427.60" r="0.95" fill="#e48c12"/>
<circle cx="326.05" cy="418.91" r="0.95" fill="#e48c12"/>
<circle cx="326.05" cy="416.22" r="0.95" fill="#e48c12"/>
<circle cx="326.75" cy="414.20" r="0.95" fill="#e48c12"/>
<circle cx="325.70" cy="412.25" r="0.95" fill="#e48c12"/>
<circle cx="327.80" cy="411.63" r="0.95" fill="#e48c12"/>
<circle cx="326.05" cy="407.70" r="0.95" fill="#e48c12"/>
<line x1="323.25" y1="425.50" x2="328.85" y2="425.50" stroke="#222" stroke-width="1.1" />
<circle cx="331.44" cy="427.57" r="0.95" fill="#e48c12"/>
<circle cx="333.19" cy="428.79" r="0.95" fill="#e48c12"/>
<circle cx="331.44" cy="421.55" r="0.95" fill="#e48c12"/>
<circle cx="331.44" cy="430.55" r="0.95" fill="#e48c12"/>
<circle cx="329.34" cy="430.72" r="0.95" fill="#e48c12"/>
<circle cx="333.54" cy="430.94" r="0.95" fill="#e48c12"/>
<circle cx="330.71" cy="432.35" r="0.95" fill="#e48c12"/>
<circle cx="332.98" cy="432.73" r="0.95" fill="#e48c12"/>
<circle cx="331.82" cy="432.81" r="0.95" fill="#e48c12"/>
<circle cx="328.99" cy="433.65" r="0.95" fill="#e48c12"/>
<circle cx="331.44" cy="416.75" r="0.95" fill="#e48c12"/>
<circle cx="330.01" cy="434.07" r="0.95" fill="#e48c12"/>
<circle cx="331.44" cy="436.20" r="0.95" fill="#e48c12"/>
<circle cx="331.44" cy="412.00" r="0.95" fill="#e48c12"/>
<line x1="328.64" y1="425.50" x2="334.24" y2="425.50" stroke="#222" stroke-width="1.1" />
<circle cx="336.83" cy="421.28" r="0.95" fill="#e48c12"/>
<circle cx="334.73" cy="422.03" r="0.95" fill="#e48c12"/>
<circle cx="338.93" cy="420.15" r="0.95" fill="#e48c12"/>
<circle cx="338.58" cy="422.50" r="0.95" fill="#e48c12"/>
<circle cx="336.83" cy="424.01" r="0.95" fill="#e48c12"/>
<circle cx="334.73" cy="424.41" r="0.95" fill="#e48c12"/>
<circle cx="338.93" cy="424.73" r="0.95" fill="#e48c12"/>
<circle cx="334.67" cy="425.40" r="0.95" fill="#e48c12"/>
<circle cx="336.83" cy="427.11" r="0.95" fill="#e48c12"/>
<circle cx="334.73" cy="427.60" r="0.95" fill="#e48c12"/>
<circle cx="336.83" cy="413.44" r="0.95" fill="#e48c12"/>
<circle cx="336.83" cy="410.30" r="0.95" fill="#e48c12"/>
<line x1="334.03" y1="421.50" x2="339.63" y2="421.50" stroke="#222" stroke-width="1.1" />
<circle cx="342.22" cy="426.86" r="0.8" fill="#aeaeb6"/>
<circle cx="342.22" cy="416.63" r="0.8" fill="#aeaeb6"/>
<circle cx="342.22" cy="429.33" r="0.8" fill="#aeaeb6"/>
<circle cx="342.22" cy="413.67" r="0.8" fill="#aeaeb6"/>
<circle cx="340.82" cy="430.41" r="0.8" fill="#aeaeb6"/>
<circle cx="342.22" cy="431.76" r="0.8" fill="#aeaeb6"/>
<circle cx="342.22" cy="410.30" r="0.8" fill="#aeaeb6"/>
<circle cx="342.22" cy="433.60" r="0.8" fill="#aeaeb6"/>
<line x1="339.42" y1="421.50" x2="345.02" y2="421.50" stroke="#222" stroke-width="1.1" />
<circle cx="347.61" cy="425.47" r="0.8" fill="#aeaeb6"/>
<circle cx="347.61" cy="427.78" r="0.8" fill="#aeaeb6"/>
<circle cx="349.01" cy="429.14" r="0.8" fill="#aeaeb6"/>
<circle cx="347.61" cy="430.26" r="0.8" fill="#aeaeb6"/>
<circle cx="347.61" cy="418.40" r="0.8" fill="#aeaeb6"/>
<circle cx="346.21" cy="417.20" r="0.8" fill="#aeaeb6"/>
<circle cx="347.61" cy="438.00" r="0.8" fill="#aeaeb6"/>
<line x1="344.81" y1="425.50" x2="350.41" y2="425.50" stroke="#222" stroke-width="1.1" />
<circle cx="353.00" cy="421.63" r="0.8" fill="#aeaeb6"/>
<circle cx="350.90" cy="421.81" r="0.8" fill="#aeaeb6"/>
<circle cx="353.00" cy="416.70" r="0.8" fill="#aeaeb6"/>
<circle cx="351.60" cy="415.38" r="0.8" fill="#aeaeb6"/>
<circle cx="353.00" cy="431.90" r="0.8" fill="#aeaeb6"/>
<circle cx="353.00" cy="406.98" r="0.8" fill="#aeaeb6"/>
<circle cx="353.00" cy="405.10" r="0.8" fill="#aeaeb6"/>
<line x1="350.20" y1="420.50" x2="355.80" y2="420.50" stroke="#222" stroke-width="1.1" />
<circle cx="358.39" cy="419.61" r="0.8" fill="#aeaeb6"/>
<circle cx="356.64" cy="419.22" r="0.8" fill="#aeaeb6"/>
<circle cx="358.39" cy="417.20" r="0.8" fill="#aeaeb6"/>
<circle cx="358.39" cy="429.09" r="0.8" fill="#aeaeb6"/>
<circle cx="358.39" cy="410.30" r="0.8" fill="#aeaeb6"/>
<circle cx="356.64" cy="430.07" r="0.8" fill="#aeaeb6"/>
<circle cx="358.39" cy="433.60" r="0.8" fill="#aeaeb6"/>
<line x1="355.59" y1="420.50" x2="361.19" y2="420.50" stroke="#222" stroke-width="1.1" />
<circle cx="363.78" cy="426.57" r="0.95" fill="#e48c12"/>
<circle cx="365.88" cy="426.53" r="0.95" fill="#e48c12"/>
<circle cx="363.78" cy="428.74" r="0.95" fill="#e48c12"/>
<circle cx="363.78" cy="424.32" r="0.95" fill="#e48c12"/>
<circle cx="361.68" cy="424.22" r="0.95" fill="#e48c12"/>
<circle cx="361.68" cy="429.34" r="0.95" fill="#e48c12"/>
<circle cx="365.88" cy="423.73" r="0.95" fill="#e48c12"/>
<circle cx="363.78" cy="431.93" r="0.95" fill="#e48c12"/>
<circle cx="363.78" cy="420.74" r="0.95" fill="#e48c12"/>
<circle cx="363.78" cy="418.18" r="0.95" fill="#e48c12"/>
<circle cx="363.78" cy="435.40" r="0.95" fill="#e48c12"/>
<circle cx="364.83" cy="416.30" r="0.95" fill="#e48c12"/>
<line x1="360.98" y1="426.50" x2="366.58" y2="426.50" stroke="#222" stroke-width="1.1" />
<circle cx="369.17" cy="430.94" r="0.95" fill="#e48c12"/>
<circle cx="367.07" cy="431.90" r="0.95" fill="#e48c12"/>
<circle cx="369.17" cy="428.50" r="0.95" fill="#e48c12"/>
<circle cx="367.07" cy="428.33" r="0.95" fill="#e48c12"/>
<circle cx="369.17" cy="433.94" r="0.95" fill="#e48c12"/>
<circle cx="371.27" cy="434.19" r="0.95" fill="#e48c12"/>
<circle cx="367.07" cy="435.00" r="0.95" fill="#e48c12"/>
<circle cx="369.17" cy="436.97" r="0.95" fill="#e48c12"/>
<circle cx="369.17" cy="424.10" r="0.95" fill="#e48c12"/>
<circle cx="367.42" cy="438.28" r="0.95" fill="#e48c12"/>
<circle cx="369.17" cy="439.65" r="0.95" fill="#e48c12"/>
<circle cx="371.27" cy="439.70" r="0.95" fill="#e48c12"/>
<line x1="366.37" y1="431.50" x2="371.97" y2="431.50" stroke="#222" stroke-width="1.1" />
<circle cx="374.56" cy="424.76" r="0.95" fill="#e48c12"/>
<circle cx="375.96" cy="426.35" r="0.95" fill="#e48c12"/>
<circle cx="373.51" cy="426.63" r="0.95" fill="#e48c12"/>
<circle cx="374.56" cy="418.25" r="0.95" fill="#e48c12"/>
<circle cx="374.56" cy="415.30" r="0.95" fill="#e48c12"/>
<circle cx="372.46" cy="414.73" r="0.95" fill="#e48c12"/>
<circle cx="374.56" cy="437.24" r="0.95" fill="#e48c12"/>
<circle cx="373.16" cy="438.80" r="0.95" fill="#e48c12"/>
<circle cx="374.56" cy="409.32" r="0.95" fill="#e48c12"/>
<circle cx="373.16" cy="407.70" r="0.95" fill="#e48c12"/>
<line x1="371.76" y1="425.50" x2="377.36" y2="425.50" stroke="#222" stroke-width="1.1" />
<circle cx="379.95" cy="417.58" r="0.95" fill="#e48c12"/>
<circle cx="379.95" cy="419.72" r="0.95" fill="#e48c12"/>
<circle cx="377.85" cy="416.91" r="0.95" fill="#e48c12"/>
<circle cx="379.95" cy="413.73" r="0.95" fill="#e48c12"/>
<circle cx="379.95" cy="409.40" r="0.95" fill="#e48c12"/>
<circle cx="379.95" cy="429.73" r="0.95" fill="#e48c12"/>
<circle cx="377.85" cy="430.79" r="0.95" fill="#e48c12"/>
<circle cx="381.70" cy="431.27" r="0.95" fill="#e48c12"/>
<circle cx="379.95" cy="438.99" r="0.95" fill="#e48c12"/>
<circle cx="381.35" cy="440.60" r="0.95" fill="#e48c12"/>
<line x1="377.15" y1="418.50" x2="382.75" y2="418.50" stroke="#222" stroke-width="1.1" />
<rect x="313.16" y="388.90" width="9.6" height="6.6" fill="#fff"/>
<rect x="354.48" y="388.90" width="13.2" height="6.6" fill="#fff"/>
<text x="317.96" y="394.30" font-size="6.4" text-anchor="middle" fill="#3f62a8" textLength="8.6" lengthAdjust="spacingAndGlyphs"  stroke="#3f62a8" stroke-width="0.16">AC</text>
<text x="361.08" y="394.30" font-size="6.4" text-anchor="middle" fill="#c8376a" textLength="12.0" lengthAdjust="spacingAndGlyphs"  stroke="#c8376a" stroke-width="0.16">TMS</text>
<line x1="423.50" y1="380.80" x2="423.50" y2="445.10" stroke="#1a1a1a" stroke-width="1.25" />
<line x1="422.90" y1="444.50" x2="513.80" y2="444.50" stroke="#1a1a1a" stroke-width="1.25" />
<line x1="421.50" y1="384.00" x2="423.80" y2="384.00" stroke="#222" stroke-width="1.0" />
<text x="415.60" y="386.00" font-size="5.8" text-anchor="end" fill="#333" stroke="#333" stroke-width="0.24">10</text>
<text x="416.00" y="383.00" font-size="3.6" text-anchor="start" fill="#333">5</text>
<line x1="421.50" y1="399.07" x2="423.80" y2="399.07" stroke="#222" stroke-width="1.0" />
<text x="415.60" y="401.07" font-size="5.8" text-anchor="end" fill="#333" stroke="#333" stroke-width="0.24">10</text>
<text x="416.00" y="398.07" font-size="3.6" text-anchor="start" fill="#333">4</text>
<line x1="421.50" y1="414.15" x2="423.80" y2="414.15" stroke="#222" stroke-width="1.0" />
<text x="415.60" y="416.15" font-size="5.8" text-anchor="end" fill="#333" stroke="#333" stroke-width="0.24">10</text>
<text x="416.00" y="413.15" font-size="3.6" text-anchor="start" fill="#333">3</text>
<line x1="421.50" y1="429.23" x2="423.80" y2="429.23" stroke="#222" stroke-width="1.0" />
<text x="415.60" y="431.23" font-size="5.8" text-anchor="end" fill="#333" stroke="#333" stroke-width="0.24">10</text>
<text x="416.00" y="428.23" font-size="3.6" text-anchor="start" fill="#333">2</text>
<line x1="421.50" y1="444.30" x2="423.80" y2="444.30" stroke="#222" stroke-width="1.0" />
<text x="415.60" y="446.30" font-size="5.8" text-anchor="end" fill="#333" stroke="#333" stroke-width="0.24">10</text>
<text x="416.00" y="443.30" font-size="3.6" text-anchor="start" fill="#333">1</text>
<line x1="428.50" y1="444.30" x2="428.50" y2="446.70" stroke="#222" stroke-width="1.0" />
<line x1="433.89" y1="444.30" x2="433.89" y2="446.70" stroke="#222" stroke-width="1.0" />
<line x1="439.28" y1="444.30" x2="439.28" y2="446.70" stroke="#222" stroke-width="1.0" />
<line x1="444.67" y1="444.30" x2="444.67" y2="446.70" stroke="#222" stroke-width="1.0" />
<line x1="450.06" y1="444.30" x2="450.06" y2="446.70" stroke="#222" stroke-width="1.0" />
<line x1="455.45" y1="444.30" x2="455.45" y2="446.70" stroke="#222" stroke-width="1.0" />
<line x1="460.84" y1="444.30" x2="460.84" y2="446.70" stroke="#222" stroke-width="1.0" />
<line x1="466.23" y1="444.30" x2="466.23" y2="446.70" stroke="#222" stroke-width="1.0" />
<line x1="471.62" y1="444.30" x2="471.62" y2="446.70" stroke="#222" stroke-width="1.0" />
<line x1="477.01" y1="444.30" x2="477.01" y2="446.70" stroke="#222" stroke-width="1.0" />
<line x1="482.40" y1="444.30" x2="482.40" y2="446.70" stroke="#222" stroke-width="1.0" />
<line x1="487.79" y1="444.30" x2="487.79" y2="446.70" stroke="#222" stroke-width="1.0" />
<line x1="493.18" y1="444.30" x2="493.18" y2="446.70" stroke="#222" stroke-width="1.0" />
<line x1="498.57" y1="444.30" x2="498.57" y2="446.70" stroke="#222" stroke-width="1.0" />
<line x1="503.96" y1="444.30" x2="503.96" y2="446.70" stroke="#222" stroke-width="1.0" />
<line x1="509.35" y1="444.30" x2="509.35" y2="446.70" stroke="#222" stroke-width="1.0" />
<text x="468.10" y="368.00" font-size="8.8" text-anchor="middle" fill="#333" textLength="78.8" lengthAdjust="spacingAndGlyphs" stroke="#333" stroke-width="0.18">CXCL10: CGVHD 2-3</text>
<text x="468.80" y="467.00" font-size="8.6" text-anchor="middle" fill="#333" font-weight="bold" textLength="18.3" lengthAdjust="spacingAndGlyphs" stroke="#333" stroke-width="0.2" style="font-style:italic;">Months</text>
<text x="0" y="0" font-size="7.9" text-anchor="middle" fill="#333" stroke="#333" stroke-width="0.25" textLength="16.6" lengthAdjust="spacingAndGlyphs" transform="translate(402.30,412.20) rotate(-90)">pg/mL</text>
<text x="428.50" y="455.60" font-size="6.4" text-anchor="middle" fill="#333" stroke="#333" stroke-width="0.2">3</text>
<text x="433.89" y="455.60" font-size="6.4" text-anchor="middle" fill="#333" stroke="#333" stroke-width="0.2">6</text>
<text x="439.28" y="455.60" font-size="6.4" text-anchor="middle" fill="#333" stroke="#333" stroke-width="0.2">9</text>
<text x="444.67" y="455.60" font-size="6.4" text-anchor="middle" fill="#333" textLength="5.8" lengthAdjust="spacingAndGlyphs" stroke="#333" stroke-width="0.2">12</text>
<text x="450.06" y="455.60" font-size="6.4" text-anchor="middle" fill="#333" stroke="#333" stroke-width="0.2">3</text>
<text x="455.45" y="455.60" font-size="6.4" text-anchor="middle" fill="#333" stroke="#333" stroke-width="0.2">6</text>
<text x="460.84" y="455.60" font-size="6.4" text-anchor="middle" fill="#333" stroke="#333" stroke-width="0.2">9</text>
<text x="466.23" y="455.60" font-size="6.4" text-anchor="middle" fill="#333" textLength="5.8" lengthAdjust="spacingAndGlyphs" stroke="#333" stroke-width="0.2">12</text>
<text x="471.62" y="455.60" font-size="6.4" text-anchor="middle" fill="#333" stroke="#333" stroke-width="0.2">3</text>
<text x="477.01" y="455.60" font-size="6.4" text-anchor="middle" fill="#333" stroke="#333" stroke-width="0.2">6</text>
<text x="482.40" y="455.60" font-size="6.4" text-anchor="middle" fill="#333" stroke="#333" stroke-width="0.2">9</text>
<text x="487.79" y="455.60" font-size="6.4" text-anchor="middle" fill="#333" textLength="5.8" lengthAdjust="spacingAndGlyphs" stroke="#333" stroke-width="0.2">12</text>
<text x="493.18" y="455.60" font-size="6.4" text-anchor="middle" fill="#333" stroke="#333" stroke-width="0.2">3</text>
<text x="498.57" y="455.60" font-size="6.4" text-anchor="middle" fill="#333" stroke="#333" stroke-width="0.2">6</text>
<text x="503.96" y="455.60" font-size="6.4" text-anchor="middle" fill="#333" stroke="#333" stroke-width="0.2">9</text>
<text x="509.35" y="455.60" font-size="6.4" text-anchor="middle" fill="#333" textLength="5.8" lengthAdjust="spacingAndGlyphs" stroke="#333" stroke-width="0.2">12</text>
<line x1="468.93" y1="383.90" x2="468.93" y2="444.30" stroke="#5e5e5e" stroke-width="1.0" />
<line x1="447.37" y1="384.20" x2="447.37" y2="444.30" stroke="#50506a" stroke-width="1.0" stroke-dasharray="1.9,2.3"/>
<line x1="490.49" y1="384.20" x2="490.49" y2="444.30" stroke="#50506a" stroke-width="1.0" stroke-dasharray="1.9,2.3"/>
<circle cx="428.50" cy="425.41" r="0.8" fill="#aeaeb6"/>
<circle cx="428.50" cy="422.79" r="0.8" fill="#aeaeb6"/>
<circle cx="426.40" cy="422.65" r="0.8" fill="#aeaeb6"/>
<circle cx="428.50" cy="420.28" r="0.8" fill="#aeaeb6"/>
<circle cx="426.40" cy="420.19" r="0.8" fill="#aeaeb6"/>
<circle cx="428.50" cy="430.95" r="0.8" fill="#aeaeb6"/>
<circle cx="430.25" cy="431.90" r="0.8" fill="#aeaeb6"/>
<circle cx="428.50" cy="410.30" r="0.8" fill="#aeaeb6"/>
<circle cx="428.50" cy="399.00" r="0.8" fill="#aeaeb6"/>
<line x1="425.70" y1="424.50" x2="431.30" y2="424.50" stroke="#222" stroke-width="1.1" />
<circle cx="433.89" cy="428.71" r="0.8" fill="#aeaeb6"/>
<circle cx="432.14" cy="429.11" r="0.8" fill="#aeaeb6"/>
<circle cx="433.89" cy="430.82" r="0.8" fill="#aeaeb6"/>
<circle cx="435.64" cy="431.46" r="0.8" fill="#aeaeb6"/>
<circle cx="432.49" cy="431.90" r="0.8" fill="#aeaeb6"/>
<circle cx="433.89" cy="413.18" r="0.8" fill="#aeaeb6"/>
<circle cx="432.84" cy="411.59" r="0.8" fill="#aeaeb6"/>
<circle cx="433.89" cy="408.50" r="0.8" fill="#aeaeb6"/>
<line x1="431.09" y1="428.50" x2="436.69" y2="428.50" stroke="#222" stroke-width="1.1" />
<circle cx="439.28" cy="428.24" r="0.8" fill="#aeaeb6"/>
<circle cx="439.28" cy="424.44" r="0.8" fill="#aeaeb6"/>
<circle cx="439.28" cy="431.18" r="0.8" fill="#aeaeb6"/>
<circle cx="439.28" cy="422.46" r="0.8" fill="#aeaeb6"/>
<circle cx="437.53" cy="432.05" r="0.8" fill="#aeaeb6"/>
<circle cx="437.53" cy="421.87" r="0.8" fill="#aeaeb6"/>
<circle cx="439.28" cy="418.90" r="0.8" fill="#aeaeb6"/>
<circle cx="439.28" cy="437.10" r="0.8" fill="#aeaeb6"/>
<line x1="436.48" y1="427.50" x2="442.08" y2="427.50" stroke="#222" stroke-width="1.1" />
<circle cx="444.67" cy="423.18" r="0.8" fill="#aeaeb6"/>
<circle cx="446.42" cy="423.87" r="0.8" fill="#aeaeb6"/>
<circle cx="444.67" cy="425.11" r="0.8" fill="#aeaeb6"/>
<circle cx="446.42" cy="425.90" r="0.8" fill="#aeaeb6"/>
<circle cx="444.67" cy="419.32" r="0.8" fill="#aeaeb6"/>
<circle cx="442.92" cy="418.50" r="0.8" fill="#aeaeb6"/>
<circle cx="444.67" cy="431.90" r="0.8" fill="#aeaeb6"/>
<circle cx="444.67" cy="412.00" r="0.8" fill="#aeaeb6"/>
<line x1="441.87" y1="422.50" x2="447.47" y2="422.50" stroke="#222" stroke-width="1.1" />
<circle cx="450.06" cy="418.42" r="0.95" fill="#5e5e9c"/>
<circle cx="451.46" cy="420.00" r="0.95" fill="#5e5e9c"/>
<circle cx="450.06" cy="412.00" r="0.95" fill="#5e5e9c"/>
<circle cx="450.06" cy="401.60" r="0.95" fill="#5e5e9c"/>
<circle cx="450.06" cy="439.70" r="0.95" fill="#5e5e9c"/>
<line x1="447.26" y1="416.50" x2="452.86" y2="416.50" stroke="#222" stroke-width="1.1" />
<circle cx="455.45" cy="421.87" r="0.95" fill="#5e5e9c"/>
<circle cx="455.45" cy="425.45" r="0.95" fill="#5e5e9c"/>
<circle cx="454.05" cy="427.17" r="0.95" fill="#5e5e9c"/>
<circle cx="455.45" cy="407.70" r="0.95" fill="#5e5e9c"/>
<circle cx="455.45" cy="439.70" r="0.95" fill="#5e5e9c"/>
<line x1="452.65" y1="423.50" x2="458.25" y2="423.50" stroke="#222" stroke-width="1.1" />
<circle cx="460.84" cy="422.44" r="0.95" fill="#5e5e9c"/>
<circle cx="460.84" cy="419.61" r="0.95" fill="#5e5e9c"/>
<circle cx="460.84" cy="429.56" r="0.95" fill="#5e5e9c"/>
<circle cx="460.84" cy="412.90" r="0.95" fill="#5e5e9c"/>
<circle cx="460.84" cy="439.70" r="0.95" fill="#5e5e9c"/>
<line x1="458.04" y1="424.50" x2="463.64" y2="424.50" stroke="#222" stroke-width="1.1" />
<circle cx="466.23" cy="419.46" r="0.95" fill="#5e5e9c"/>
<circle cx="464.13" cy="419.08" r="0.95" fill="#5e5e9c"/>
<circle cx="466.23" cy="423.27" r="0.95" fill="#5e5e9c"/>
<circle cx="464.13" cy="423.48" r="0.95" fill="#5e5e9c"/>
<circle cx="466.23" cy="426.70" r="0.95" fill="#5e5e9c"/>
<circle cx="466.23" cy="411.10" r="0.95" fill="#5e5e9c"/>
<line x1="463.43" y1="419.50" x2="469.03" y2="419.50" stroke="#222" stroke-width="1.1" />
<circle cx="471.62" cy="425.80" r="0.8" fill="#aeaeb6"/>
<circle cx="471.62" cy="431.54" r="0.8" fill="#aeaeb6"/>
<circle cx="471.62" cy="433.60" r="0.8" fill="#aeaeb6"/>
<line x1="468.82" y1="425.50" x2="474.42" y2="425.50" stroke="#222" stroke-width="1.1" />
<circle cx="477.01" cy="430.00" r="0.8" fill="#aeaeb6"/>
<circle cx="477.01" cy="427.50" r="0.8" fill="#aeaeb6"/>
<line x1="474.21" y1="428.50" x2="479.81" y2="428.50" stroke="#222" stroke-width="1.1" />
<circle cx="482.40" cy="431.21" r="0.8" fill="#aeaeb6"/>
<circle cx="482.40" cy="438.00" r="0.8" fill="#aeaeb6"/>
<circle cx="482.40" cy="426.70" r="0.8" fill="#aeaeb6"/>
<line x1="479.60" y1="432.50" x2="485.20" y2="432.50" stroke="#222" stroke-width="1.1" />
<circle cx="487.79" cy="427.50" r="0.8" fill="#aeaeb6"/>
<circle cx="487.79" cy="430.00" r="0.8" fill="#aeaeb6"/>
<line x1="484.99" y1="428.50" x2="490.59" y2="428.50" stroke="#222" stroke-width="1.1" />
<circle cx="493.18" cy="425.25" r="0.95" fill="#5e5e9c"/>
<circle cx="491.08" cy="425.54" r="0.95" fill="#5e5e9c"/>
<circle cx="495.28" cy="425.68" r="0.95" fill="#5e5e9c"/>
<circle cx="494.57" cy="426.49" r="0.95" fill="#5e5e9c"/>
<circle cx="493.18" cy="420.77" r="0.95" fill="#5e5e9c"/>
<circle cx="495.28" cy="419.78" r="0.95" fill="#5e5e9c"/>
<circle cx="493.18" cy="418.60" r="0.95" fill="#5e5e9c"/>
<circle cx="493.18" cy="430.30" r="0.95" fill="#5e5e9c"/>
<circle cx="491.43" cy="417.32" r="0.95" fill="#5e5e9c"/>
<circle cx="493.18" cy="415.66" r="0.95" fill="#5e5e9c"/>
<circle cx="493.18" cy="433.60" r="0.95" fill="#5e5e9c"/>
<circle cx="494.23" cy="413.73" r="0.95" fill="#5e5e9c"/>
<circle cx="493.18" cy="410.79" r="0.95" fill="#5e5e9c"/>
<circle cx="491.08" cy="410.30" r="0.95" fill="#5e5e9c"/>
<line x1="490.38" y1="424.50" x2="495.98" y2="424.50" stroke="#222" stroke-width="1.1" />
<circle cx="498.57" cy="425.32" r="0.95" fill="#5e5e9c"/>
<circle cx="496.47" cy="424.84" r="0.95" fill="#5e5e9c"/>
<circle cx="500.67" cy="424.71" r="0.95" fill="#5e5e9c"/>
<circle cx="497.00" cy="426.05" r="0.95" fill="#5e5e9c"/>
<circle cx="497.87" cy="423.26" r="0.95" fill="#5e5e9c"/>
<circle cx="498.57" cy="428.00" r="0.95" fill="#5e5e9c"/>
<circle cx="496.47" cy="428.57" r="0.95" fill="#5e5e9c"/>
<circle cx="500.67" cy="428.86" r="0.95" fill="#5e5e9c"/>
<circle cx="497.69" cy="428.98" r="0.95" fill="#5e5e9c"/>
<circle cx="498.57" cy="432.41" r="0.95" fill="#5e5e9c"/>
<circle cx="496.47" cy="432.46" r="0.95" fill="#5e5e9c"/>
<circle cx="498.57" cy="417.61" r="0.95" fill="#5e5e9c"/>
<circle cx="496.47" cy="417.20" r="0.95" fill="#5e5e9c"/>
<circle cx="498.57" cy="435.40" r="0.95" fill="#5e5e9c"/>
<line x1="495.77" y1="425.50" x2="501.37" y2="425.50" stroke="#222" stroke-width="1.1" />
<circle cx="503.96" cy="420.81" r="0.95" fill="#5e5e9c"/>
<circle cx="502.91" cy="422.65" r="0.95" fill="#5e5e9c"/>
<circle cx="504.31" cy="424.22" r="0.95" fill="#5e5e9c"/>
<circle cx="503.96" cy="415.59" r="0.95" fill="#5e5e9c"/>
<circle cx="503.96" cy="426.29" r="0.95" fill="#5e5e9c"/>
<circle cx="506.06" cy="427.42" r="0.95" fill="#5e5e9c"/>
<circle cx="504.31" cy="413.51" r="0.95" fill="#5e5e9c"/>
<circle cx="503.96" cy="410.36" r="0.95" fill="#5e5e9c"/>
<circle cx="503.96" cy="431.68" r="0.95" fill="#5e5e9c"/>
<circle cx="503.96" cy="434.55" r="0.95" fill="#5e5e9c"/>
<circle cx="503.96" cy="406.71" r="0.95" fill="#5e5e9c"/>
<circle cx="503.96" cy="437.10" r="0.95" fill="#5e5e9c"/>
<circle cx="503.96" cy="403.58" r="0.95" fill="#5e5e9c"/>
<circle cx="506.06" cy="402.50" r="0.95" fill="#5e5e9c"/>
<line x1="501.16" y1="420.50" x2="506.76" y2="420.50" stroke="#222" stroke-width="1.1" />
<circle cx="509.35" cy="416.69" r="0.95" fill="#5e5e9c"/>
<circle cx="511.45" cy="415.86" r="0.95" fill="#5e5e9c"/>
<circle cx="509.35" cy="418.89" r="0.95" fill="#5e5e9c"/>
<circle cx="507.60" cy="415.20" r="0.95" fill="#5e5e9c"/>
<circle cx="508.80" cy="414.81" r="0.95" fill="#5e5e9c"/>
<circle cx="507.25" cy="420.03" r="0.95" fill="#5e5e9c"/>
<circle cx="509.35" cy="410.53" r="0.95" fill="#5e5e9c"/>
<circle cx="511.45" cy="410.24" r="0.95" fill="#5e5e9c"/>
<circle cx="507.25" cy="409.40" r="0.95" fill="#5e5e9c"/>
<circle cx="509.35" cy="429.51" r="0.95" fill="#5e5e9c"/>
<circle cx="507.25" cy="430.36" r="0.95" fill="#5e5e9c"/>
<circle cx="511.10" cy="431.04" r="0.95" fill="#5e5e9c"/>
<circle cx="507.85" cy="431.12" r="0.95" fill="#5e5e9c"/>
<circle cx="509.35" cy="441.40" r="0.95" fill="#5e5e9c"/>
<line x1="506.55" y1="417.50" x2="512.15" y2="417.50" stroke="#222" stroke-width="1.1" />
<rect x="442.56" y="388.90" width="9.6" height="6.6" fill="#fff"/>
<rect x="483.88" y="388.90" width="13.2" height="6.6" fill="#fff"/>
<text x="447.37" y="394.30" font-size="6.4" text-anchor="middle" fill="#3f62a8" textLength="8.6" lengthAdjust="spacingAndGlyphs"  stroke="#3f62a8" stroke-width="0.16">AC</text>
<text x="490.49" y="394.30" font-size="6.4" text-anchor="middle" fill="#c8376a" textLength="12.0" lengthAdjust="spacingAndGlyphs"  stroke="#c8376a" stroke-width="0.16">TMS</text>
<ellipse cx="492.9" cy="375.0" rx="1.3" ry="1.7" fill="#484848"/>
<polyline points="481.3,422.5 481.3,379.4 503.6,379.4 503.6,402.5" fill="none" stroke="#3a3a3a" stroke-width="1.2"/>
<line x1="116.50" y1="495.40" x2="116.50" y2="580.10" stroke="#1a1a1a" stroke-width="1.25" />
<line x1="115.90" y1="579.50" x2="245.00" y2="579.50" stroke="#1a1a1a" stroke-width="1.25" />
<line x1="114.20" y1="498.20" x2="116.60" y2="498.20" stroke="#222" stroke-width="1.0" />
<line x1="115.20" y1="508.30" x2="116.60" y2="508.30" stroke="#222" stroke-width="1.0" />
<line x1="114.20" y1="518.40" x2="116.60" y2="518.40" stroke="#222" stroke-width="1.0" />
<line x1="115.20" y1="528.50" x2="116.60" y2="528.50" stroke="#222" stroke-width="1.0" />
<line x1="114.20" y1="538.60" x2="116.60" y2="538.60" stroke="#222" stroke-width="1.0" />
<line x1="115.20" y1="548.70" x2="116.60" y2="548.70" stroke="#222" stroke-width="1.0" />
<line x1="114.20" y1="558.80" x2="116.60" y2="558.80" stroke="#222" stroke-width="1.0" />
<line x1="115.20" y1="568.90" x2="116.60" y2="568.90" stroke="#222" stroke-width="1.0" />
<line x1="114.20" y1="579.00" x2="116.60" y2="579.00" stroke="#222" stroke-width="1.0" />
<text x="111.00" y="500.30" font-size="6.0" text-anchor="end" fill="#333" stroke="#333" stroke-width="0.15">1.00</text>
<text x="111.00" y="520.50" font-size="6.0" text-anchor="end" fill="#333" stroke="#333" stroke-width="0.15">0.75</text>
<text x="111.00" y="540.70" font-size="6.0" text-anchor="end" fill="#333" stroke="#333" stroke-width="0.15">0.50</text>
<text x="111.00" y="560.90" font-size="6.0" text-anchor="end" fill="#333" stroke="#333" stroke-width="0.15">0.25</text>
<text x="111.00" y="581.10" font-size="6.0" text-anchor="end" fill="#333" stroke="#333" stroke-width="0.15">0.0</text>
<line x1="116.60" y1="579.00" x2="116.60" y2="581.40" stroke="#222" stroke-width="1.0" />
<text x="116.60" y="590.80" font-size="5.6" text-anchor="middle" fill="#333"  stroke="#333" stroke-width="0.16">0</text>
<line x1="126.22" y1="579.00" x2="126.22" y2="580.40" stroke="#222" stroke-width="1.0" />
<line x1="135.84" y1="579.00" x2="135.84" y2="581.40" stroke="#222" stroke-width="1.0" />
<text x="135.84" y="590.80" font-size="5.6" text-anchor="middle" fill="#333"  stroke="#333" stroke-width="0.16">2</text>
<line x1="145.46" y1="579.00" x2="145.46" y2="580.40" stroke="#222" stroke-width="1.0" />
<line x1="155.08" y1="579.00" x2="155.08" y2="581.40" stroke="#222" stroke-width="1.0" />
<text x="155.08" y="590.80" font-size="5.6" text-anchor="middle" fill="#333"  stroke="#333" stroke-width="0.16">4</text>
<line x1="164.70" y1="579.00" x2="164.70" y2="580.40" stroke="#222" stroke-width="1.0" />
<line x1="174.32" y1="579.00" x2="174.32" y2="581.40" stroke="#222" stroke-width="1.0" />
<text x="174.32" y="590.80" font-size="5.6" text-anchor="middle" fill="#333"  stroke="#333" stroke-width="0.16">6</text>
<line x1="183.94" y1="579.00" x2="183.94" y2="580.40" stroke="#222" stroke-width="1.0" />
<line x1="193.56" y1="579.00" x2="193.56" y2="581.40" stroke="#222" stroke-width="1.0" />
<text x="193.56" y="590.80" font-size="5.6" text-anchor="middle" fill="#333"  stroke="#333" stroke-width="0.16">8</text>
<line x1="203.18" y1="579.00" x2="203.18" y2="580.40" stroke="#222" stroke-width="1.0" />
<line x1="212.80" y1="579.00" x2="212.80" y2="581.40" stroke="#222" stroke-width="1.0" />
<text x="212.80" y="590.80" font-size="5.6" text-anchor="middle" fill="#333"  stroke="#333" stroke-width="0.16">10</text>
<line x1="222.42" y1="579.00" x2="222.42" y2="580.40" stroke="#222" stroke-width="1.0" />
<line x1="232.04" y1="579.00" x2="232.04" y2="581.40" stroke="#222" stroke-width="1.0" />
<text x="232.04" y="590.80" font-size="5.6" text-anchor="middle" fill="#333"  stroke="#333" stroke-width="0.16">12</text>
<text x="180.80" y="490.20" font-size="7.8" text-anchor="middle" fill="#333"  stroke="#333" stroke-width="0.16">TNF-α</text>
<text x="180.50" y="602.30" font-size="7.6" text-anchor="middle" fill="#333" font-weight="bold" textLength="13.5" lengthAdjust="spacingAndGlyphs" >Years</text>
<text x="0" y="0" font-size="7.2" text-anchor="middle" fill="#333" stroke="#333" stroke-width="0.12" textLength="53.5" lengthAdjust="spacingAndGlyphs" transform="translate(90.80,537.4) rotate(-90)" dy="2.3">Probability of survival</text>
<path d="M116.6,498.2 H136.2 V501.2 H149.2 V503 H149.8 V506.5 H151.3 V510.0 H157.8 V513.1 H180.8 V516.2 H203.8 V522 H227.5" fill="none" stroke="#a4a4a4" stroke-width="0.7"/>
<line x1="136.20" y1="498.50" x2="136.20" y2="500.70" stroke="#222" stroke-width="0.85" />
<line x1="150.00" y1="503.70" x2="150.00" y2="505.90" stroke="#222" stroke-width="0.85" />
<line x1="176.60" y1="511.80" x2="176.60" y2="514.00" stroke="#222" stroke-width="0.85" />
<line x1="181.50" y1="514.90" x2="181.50" y2="517.10" stroke="#222" stroke-width="0.85" />
<line x1="187.00" y1="514.90" x2="187.00" y2="517.10" stroke="#222" stroke-width="0.85" />
<line x1="189.00" y1="514.90" x2="189.00" y2="517.10" stroke="#222" stroke-width="0.85" />
<line x1="192.00" y1="514.90" x2="192.00" y2="517.10" stroke="#222" stroke-width="0.85" />
<line x1="197.70" y1="514.90" x2="197.70" y2="517.10" stroke="#222" stroke-width="0.85" />
<line x1="200.80" y1="514.90" x2="200.80" y2="517.10" stroke="#222" stroke-width="0.85" />
<line x1="203.00" y1="514.90" x2="203.00" y2="517.10" stroke="#222" stroke-width="0.85" />
<line x1="205.00" y1="520.70" x2="205.00" y2="522.90" stroke="#222" stroke-width="0.85" />
<line x1="206.00" y1="520.70" x2="206.00" y2="522.90" stroke="#222" stroke-width="0.85" />
<line x1="207.00" y1="520.70" x2="207.00" y2="522.90" stroke="#222" stroke-width="0.85" />
<line x1="208.00" y1="520.70" x2="208.00" y2="522.90" stroke="#222" stroke-width="0.85" />
<line x1="209.50" y1="520.70" x2="209.50" y2="522.90" stroke="#222" stroke-width="0.85" />
<line x1="213.50" y1="520.70" x2="213.50" y2="522.90" stroke="#222" stroke-width="0.85" />
<line x1="219.00" y1="520.70" x2="219.00" y2="522.90" stroke="#222" stroke-width="0.85" />
<line x1="221.50" y1="520.70" x2="221.50" y2="522.90" stroke="#222" stroke-width="0.85" />
<line x1="224.50" y1="520.70" x2="224.50" y2="522.90" stroke="#222" stroke-width="0.85" />
<line x1="226.50" y1="520.70" x2="226.50" y2="522.90" stroke="#222" stroke-width="0.85" />
<path d="M116.6,498.2 H125.6 V501 H126.4 V504 H127.1 V507 H127.8 V510 H128.6 V513 H130.6 V516.5 H133.8 V519.4 H136.8 V522.4 H141.6 V526.5 H142.4 V531.3 H144.5 V534.5 H146.2 V537.8 H148.2 V540.5 H150.4 V543.2 H171.6 V546.3 H186 V549.2 H192.3 V553 H232.3" fill="none" stroke="#66bc66" stroke-width="1.05"/>
<line x1="184.50" y1="547.90" x2="184.50" y2="550.10" stroke="#333" stroke-width="0.85" />
<line x1="199.50" y1="551.70" x2="199.50" y2="553.90" stroke="#333" stroke-width="0.85" />
<line x1="205.00" y1="551.70" x2="205.00" y2="553.90" stroke="#333" stroke-width="0.85" />
<line x1="210.00" y1="551.70" x2="210.00" y2="553.90" stroke="#333" stroke-width="0.85" />
<line x1="211.50" y1="551.70" x2="211.50" y2="553.90" stroke="#333" stroke-width="0.85" />
<line x1="219.00" y1="551.70" x2="219.00" y2="553.90" stroke="#333" stroke-width="0.85" />
<line x1="223.00" y1="551.70" x2="223.00" y2="553.90" stroke="#333" stroke-width="0.85" />
<line x1="227.00" y1="551.70" x2="227.00" y2="553.90" stroke="#333" stroke-width="0.85" />
<line x1="231.80" y1="551.70" x2="231.80" y2="553.90" stroke="#333" stroke-width="0.85" />
<text x="220.00" y="530.20" font-size="5.8" text-anchor="middle" fill="#333"  stroke="#333" stroke-width="0.16">&lt;median</text>
<text x="219.20" y="561.00" font-size="5.8" text-anchor="middle" fill="#333"  stroke="#333" stroke-width="0.16">≥median</text>
<text x="212" y="575.2" font-size="5.8" text-anchor="middle" fill="#333" textLength="49" lengthAdjust="spacingAndGlyphs">log-rank <tspan font-style="italic">P</tspan> = .0004</text>
<text x="110.50" y="612.30" font-size="5.9" text-anchor="end" fill="#333" textLength="21" lengthAdjust="spacingAndGlyphs"  stroke="#333" stroke-width="0.16"># at risk</text>
<text x="116.60" y="612.30" font-size="6.2" text-anchor="middle" fill="#333"  stroke="#333" stroke-width="0.16">27</text>
<text x="135.84" y="612.30" font-size="6.2" text-anchor="middle" fill="#333"  stroke="#333" stroke-width="0.16">27</text>
<text x="155.08" y="612.30" font-size="6.2" text-anchor="middle" fill="#333"  stroke="#333" stroke-width="0.16">23</text>
<text x="174.32" y="612.30" font-size="6.2" text-anchor="middle" fill="#333"  stroke="#333" stroke-width="0.16">22</text>
<text x="193.56" y="612.30" font-size="6.2" text-anchor="middle" fill="#333"  stroke="#333" stroke-width="0.16">15</text>
<text x="212.80" y="612.30" font-size="6.2" text-anchor="middle" fill="#333"  stroke="#333" stroke-width="0.16">6</text>
<text x="232.04" y="612.30" font-size="6.2" text-anchor="middle" fill="#333"  stroke="#333" stroke-width="0.16">0</text>
<text x="116.60" y="621.60" font-size="6.2" text-anchor="middle" fill="#333"  stroke="#333" stroke-width="0.16">27</text>
<text x="135.84" y="621.60" font-size="6.2" text-anchor="middle" fill="#333"  stroke="#333" stroke-width="0.16">20</text>
<text x="155.08" y="621.60" font-size="6.2" text-anchor="middle" fill="#333"  stroke="#333" stroke-width="0.16">12</text>
<text x="174.32" y="621.60" font-size="6.2" text-anchor="middle" fill="#333"  stroke="#333" stroke-width="0.16">11</text>
<text x="193.56" y="621.60" font-size="6.2" text-anchor="middle" fill="#333"  stroke="#333" stroke-width="0.16">8</text>
<text x="212.80" y="621.60" font-size="6.2" text-anchor="middle" fill="#333"  stroke="#333" stroke-width="0.16">5</text>
<text x="232.04" y="621.60" font-size="6.2" text-anchor="middle" fill="#333"  stroke="#333" stroke-width="0.16">0</text>
<line x1="289.50" y1="495.40" x2="289.50" y2="580.10" stroke="#1a1a1a" stroke-width="1.25" />
<line x1="288.90" y1="579.50" x2="415.00" y2="579.50" stroke="#1a1a1a" stroke-width="1.25" />
<line x1="287.20" y1="498.20" x2="289.60" y2="498.20" stroke="#222" stroke-width="1.0" />
<line x1="288.20" y1="508.30" x2="289.60" y2="508.30" stroke="#222" stroke-width="1.0" />
<line x1="287.20" y1="518.40" x2="289.60" y2="518.40" stroke="#222" stroke-width="1.0" />
<line x1="288.20" y1="528.50" x2="289.60" y2="528.50" stroke="#222" stroke-width="1.0" />
<line x1="287.20" y1="538.60" x2="289.60" y2="538.60" stroke="#222" stroke-width="1.0" />
<line x1="288.20" y1="548.70" x2="289.60" y2="548.70" stroke="#222" stroke-width="1.0" />
<line x1="287.20" y1="558.80" x2="289.60" y2="558.80" stroke="#222" stroke-width="1.0" />
<line x1="288.20" y1="568.90" x2="289.60" y2="568.90" stroke="#222" stroke-width="1.0" />
<line x1="287.20" y1="579.00" x2="289.60" y2="579.00" stroke="#222" stroke-width="1.0" />
<text x="284.00" y="500.30" font-size="6.0" text-anchor="end" fill="#333" stroke="#333" stroke-width="0.15">1.00</text>
<text x="284.00" y="520.50" font-size="6.0" text-anchor="end" fill="#333" stroke="#333" stroke-width="0.15">0.75</text>
<text x="284.00" y="540.70" font-size="6.0" text-anchor="end" fill="#333" stroke="#333" stroke-width="0.15">0.50</text>
<text x="284.00" y="560.90" font-size="6.0" text-anchor="end" fill="#333" stroke="#333" stroke-width="0.15">0.25</text>
<text x="284.00" y="581.10" font-size="6.0" text-anchor="end" fill="#333" stroke="#333" stroke-width="0.15">0.0</text>
<line x1="289.40" y1="579.00" x2="289.40" y2="581.40" stroke="#222" stroke-width="1.0" />
<text x="289.40" y="590.80" font-size="5.6" text-anchor="middle" fill="#333"  stroke="#333" stroke-width="0.16">0</text>
<line x1="299.06" y1="579.00" x2="299.06" y2="580.40" stroke="#222" stroke-width="1.0" />
<line x1="308.72" y1="579.00" x2="308.72" y2="581.40" stroke="#222" stroke-width="1.0" />
<text x="308.72" y="590.80" font-size="5.6" text-anchor="middle" fill="#333"  stroke="#333" stroke-width="0.16">2</text>
<line x1="318.38" y1="579.00" x2="318.38" y2="580.40" stroke="#222" stroke-width="1.0" />
<line x1="328.04" y1="579.00" x2="328.04" y2="581.40" stroke="#222" stroke-width="1.0" />
<text x="328.04" y="590.80" font-size="5.6" text-anchor="middle" fill="#333"  stroke="#333" stroke-width="0.16">4</text>
<line x1="337.70" y1="579.00" x2="337.70" y2="580.40" stroke="#222" stroke-width="1.0" />
<line x1="347.36" y1="579.00" x2="347.36" y2="581.40" stroke="#222" stroke-width="1.0" />
<text x="347.36" y="590.80" font-size="5.6" text-anchor="middle" fill="#333"  stroke="#333" stroke-width="0.16">6</text>
<line x1="357.02" y1="579.00" x2="357.02" y2="580.40" stroke="#222" stroke-width="1.0" />
<line x1="366.68" y1="579.00" x2="366.68" y2="581.40" stroke="#222" stroke-width="1.0" />
<text x="366.68" y="590.80" font-size="5.6" text-anchor="middle" fill="#333"  stroke="#333" stroke-width="0.16">8</text>
<line x1="376.34" y1="579.00" x2="376.34" y2="580.40" stroke="#222" stroke-width="1.0" />
<line x1="386.00" y1="579.00" x2="386.00" y2="581.40" stroke="#222" stroke-width="1.0" />
<text x="386.00" y="590.80" font-size="5.6" text-anchor="middle" fill="#333"  stroke="#333" stroke-width="0.16">10</text>
<line x1="395.66" y1="579.00" x2="395.66" y2="580.40" stroke="#222" stroke-width="1.0" />
<line x1="405.32" y1="579.00" x2="405.32" y2="581.40" stroke="#222" stroke-width="1.0" />
<text x="405.32" y="590.80" font-size="5.6" text-anchor="middle" fill="#333"  stroke="#333" stroke-width="0.16">12</text>
<text x="353.60" y="490.20" font-size="7.8" text-anchor="middle" fill="#333"  stroke="#333" stroke-width="0.16">IL-6</text>
<text x="353.50" y="602.30" font-size="7.6" text-anchor="middle" fill="#333" font-weight="bold" textLength="13.5" lengthAdjust="spacingAndGlyphs" >Years</text>
<text x="0" y="0" font-size="7.2" text-anchor="middle" fill="#333" stroke="#333" stroke-width="0.12" textLength="53.5" lengthAdjust="spacingAndGlyphs" transform="translate(263.80,537.4) rotate(-90)" dy="2.3">Probability of survival</text>
<path d="M289.6,498.3 H330.6 V504.2 H377 V514.3 H399" fill="none" stroke="#b0b0b0" stroke-width="0.8"/>
<line x1="349.00" y1="503.30" x2="349.00" y2="505.50" stroke="#222" stroke-width="0.85" />
<line x1="362.80" y1="503.30" x2="362.80" y2="505.50" stroke="#222" stroke-width="0.85" />
<line x1="375.40" y1="503.30" x2="375.40" y2="505.50" stroke="#222" stroke-width="0.85" />
<line x1="378.50" y1="513.00" x2="378.50" y2="515.20" stroke="#222" stroke-width="0.85" />
<line x1="386.00" y1="513.00" x2="386.00" y2="515.20" stroke="#222" stroke-width="0.85" />
<line x1="392.00" y1="513.00" x2="392.00" y2="515.20" stroke="#222" stroke-width="0.85" />
<line x1="394.00" y1="513.00" x2="394.00" y2="515.20" stroke="#222" stroke-width="0.85" />
<line x1="397.50" y1="513.00" x2="397.50" y2="515.20" stroke="#222" stroke-width="0.85" />
<path d="M289.6,498.3 H297.7 V510.2 H315.6 V515.2 H319.3 V521.2 H321.7 V527.2 H324.5 V533.3 H354.6 V538.5 H365.4" fill="none" stroke="#e9a444" stroke-width="0.9"/>
<path d="M289.6,498.3 H301.2 V504.1 H309.5 V509.6 H317.3 V515.4 H322.5 V521.2 H345.4 V527 H359.7 V532.8 H365.4 V538.5 H405.4" fill="none" stroke="#7c7cb8" stroke-width="0.85"/>
<line x1="370.00" y1="537.20" x2="370.00" y2="539.40" stroke="#222" stroke-width="0.85" />
<line x1="378.00" y1="537.20" x2="378.00" y2="539.40" stroke="#222" stroke-width="0.85" />
<line x1="380.00" y1="537.20" x2="380.00" y2="539.40" stroke="#222" stroke-width="0.85" />
<line x1="382.00" y1="537.20" x2="382.00" y2="539.40" stroke="#222" stroke-width="0.85" />
<line x1="385.00" y1="537.20" x2="385.00" y2="539.40" stroke="#222" stroke-width="0.85" />
<line x1="391.00" y1="537.20" x2="391.00" y2="539.40" stroke="#222" stroke-width="0.85" />
<line x1="396.00" y1="537.20" x2="396.00" y2="539.40" stroke="#222" stroke-width="0.85" />
<line x1="401.00" y1="537.20" x2="401.00" y2="539.40" stroke="#222" stroke-width="0.85" />
<line x1="405.00" y1="537.20" x2="405.00" y2="539.40" stroke="#222" stroke-width="0.85" />
<line x1="297.70" y1="501.50" x2="297.70" y2="504.50" stroke="#555" stroke-width="0.8" />
<line x1="297.70" y1="506.50" x2="297.70" y2="509.50" stroke="#555" stroke-width="0.8" />
<line x1="301.20" y1="499.50" x2="301.20" y2="502.50" stroke="#555" stroke-width="0.8" />
<line x1="309.50" y1="505.50" x2="309.50" y2="508.50" stroke="#555" stroke-width="0.8" />
<line x1="315.60" y1="511.50" x2="315.60" y2="514.50" stroke="#555" stroke-width="0.8" />
<line x1="319.30" y1="516.50" x2="319.30" y2="519.50" stroke="#555" stroke-width="0.8" />
<line x1="321.70" y1="522.50" x2="321.70" y2="525.50" stroke="#555" stroke-width="0.8" />
<line x1="324.50" y1="528.50" x2="324.50" y2="531.50" stroke="#555" stroke-width="0.8" />
<line x1="322.50" y1="516.50" x2="322.50" y2="519.50" stroke="#555" stroke-width="0.8" />
<line x1="345.40" y1="522.50" x2="345.40" y2="525.50" stroke="#555" stroke-width="0.8" />
<line x1="359.70" y1="528.50" x2="359.70" y2="531.50" stroke="#555" stroke-width="0.8" />
<line x1="354.60" y1="534.50" x2="354.60" y2="537.50" stroke="#555" stroke-width="0.8" />
<line x1="365.40" y1="534.50" x2="365.40" y2="537.50" stroke="#555" stroke-width="0.8" />
<path d="M289.6,498.3 H297.7 V510.2 H298.6 V517.1 H304 V523.5 H309.2 V529.8 H314.8 V536 H315.6 V542.5 H322.5 V554.3 H400" fill="none" stroke="#66bb66" stroke-width="0.95"/>
<line x1="356.00" y1="552.90" x2="356.00" y2="555.10" stroke="#222" stroke-width="0.85" />
<line x1="360.00" y1="552.90" x2="360.00" y2="555.10" stroke="#222" stroke-width="0.85" />
<line x1="370.00" y1="552.90" x2="370.00" y2="555.10" stroke="#222" stroke-width="0.85" />
<line x1="400.00" y1="552.90" x2="400.00" y2="555.10" stroke="#222" stroke-width="0.85" />
<text x="385.5" y="574.5" font-size="5.8" text-anchor="middle" fill="#333" textLength="49" lengthAdjust="spacingAndGlyphs">log-rank <tspan font-style="italic">P</tspan> = .0030</text>
<text x="421.00" y="500.90" font-size="5.8" text-anchor="start" fill="#333"  stroke="#333" stroke-width="0.16">Quartiles</text>
<line x1="420.50" y1="508.30" x2="430.00" y2="508.30" stroke="#b0b0b0" stroke-width="0.9" />
<line x1="425.00" y1="507.00" x2="425.00" y2="509.20" stroke="#333" stroke-width="0.85" />
<text x="433.50" y="510.50" font-size="6.2" text-anchor="start" fill="#333"  stroke="#333" stroke-width="0.16">1</text>
<line x1="420.50" y1="517.95" x2="430.00" y2="517.95" stroke="#e9a444" stroke-width="0.9" />
<line x1="425.00" y1="516.65" x2="425.00" y2="518.85" stroke="#333" stroke-width="0.85" />
<text x="433.50" y="520.15" font-size="6.2" text-anchor="start" fill="#333"  stroke="#333" stroke-width="0.16">2</text>
<line x1="420.50" y1="527.60" x2="430.00" y2="527.60" stroke="#7c7cb8" stroke-width="0.9" />
<line x1="425.00" y1="526.30" x2="425.00" y2="528.50" stroke="#333" stroke-width="0.85" />
<text x="433.50" y="529.80" font-size="6.2" text-anchor="start" fill="#333"  stroke="#333" stroke-width="0.16">3</text>
<line x1="420.50" y1="537.25" x2="430.00" y2="537.25" stroke="#66bb66" stroke-width="0.9" />
<line x1="425.00" y1="535.95" x2="425.00" y2="538.15" stroke="#333" stroke-width="0.85" />
<text x="433.50" y="539.45" font-size="6.2" text-anchor="start" fill="#333"  stroke="#333" stroke-width="0.16">4</text>
<text x="282.80" y="612.60" font-size="5.9" text-anchor="end" fill="#333" textLength="21.3" lengthAdjust="spacingAndGlyphs"  stroke="#333" stroke-width="0.16"># at risk</text>
<text x="289.40" y="612.60" font-size="6.2" text-anchor="middle" fill="#333"  stroke="#333" stroke-width="0.16">13</text>
<text x="308.72" y="612.60" font-size="6.2" text-anchor="middle" fill="#333"  stroke="#333" stroke-width="0.16">13</text>
<text x="328.04" y="612.60" font-size="6.2" text-anchor="middle" fill="#333"  stroke="#333" stroke-width="0.16">13</text>
<text x="347.36" y="612.60" font-size="6.2" text-anchor="middle" fill="#333"  stroke="#333" stroke-width="0.16">12</text>
<text x="366.68" y="612.60" font-size="6.2" text-anchor="middle" fill="#333"  stroke="#333" stroke-width="0.16">9</text>
<text x="386.00" y="612.60" font-size="6.2" text-anchor="middle" fill="#333"  stroke="#333" stroke-width="0.16">5</text>
<text x="405.32" y="612.60" font-size="6.2" text-anchor="middle" fill="#333"  stroke="#333" stroke-width="0.16">0</text>
<text x="289.40" y="621.70" font-size="6.2" text-anchor="middle" fill="#333"  stroke="#333" stroke-width="0.16">14</text>
<text x="308.72" y="621.70" font-size="6.2" text-anchor="middle" fill="#333"  stroke="#333" stroke-width="0.16">11</text>
<text x="328.04" y="621.70" font-size="6.2" text-anchor="middle" fill="#333"  stroke="#333" stroke-width="0.16">8</text>
<text x="347.36" y="621.70" font-size="6.2" text-anchor="middle" fill="#333"  stroke="#333" stroke-width="0.16">8</text>
<text x="366.68" y="621.70" font-size="6.2" text-anchor="middle" fill="#333"  stroke="#333" stroke-width="0.16">5</text>
<text x="386.00" y="621.70" font-size="6.2" text-anchor="middle" fill="#333"  stroke="#333" stroke-width="0.16">2</text>
<text x="405.32" y="621.70" font-size="6.2" text-anchor="middle" fill="#333"  stroke="#333" stroke-width="0.16">0</text>
<text x="289.40" y="631.20" font-size="6.2" text-anchor="middle" fill="#333"  stroke="#333" stroke-width="0.16">14</text>
<text x="308.72" y="631.20" font-size="6.2" text-anchor="middle" fill="#333"  stroke="#333" stroke-width="0.16">13</text>
<text x="328.04" y="631.20" font-size="6.2" text-anchor="middle" fill="#333"  stroke="#333" stroke-width="0.16">10</text>
<text x="347.36" y="631.20" font-size="6.2" text-anchor="middle" fill="#333"  stroke="#333" stroke-width="0.16">9</text>
<text x="366.68" y="631.20" font-size="6.2" text-anchor="middle" fill="#333"  stroke="#333" stroke-width="0.16">7</text>
<text x="386.00" y="631.20" font-size="6.2" text-anchor="middle" fill="#333"  stroke="#333" stroke-width="0.16">3</text>
<text x="405.32" y="631.20" font-size="6.2" text-anchor="middle" fill="#333"  stroke="#333" stroke-width="0.16">0</text>
<text x="289.40" y="641.00" font-size="6.2" text-anchor="middle" fill="#333"  stroke="#333" stroke-width="0.16">13</text>
<text x="308.72" y="641.00" font-size="6.2" text-anchor="middle" fill="#333"  stroke="#333" stroke-width="0.16">9</text>
<text x="328.04" y="641.00" font-size="6.2" text-anchor="middle" fill="#333"  stroke="#333" stroke-width="0.16">4</text>
<text x="347.36" y="641.00" font-size="6.2" text-anchor="middle" fill="#333"  stroke="#333" stroke-width="0.16">4</text>
<text x="366.68" y="641.00" font-size="6.2" text-anchor="middle" fill="#333"  stroke="#333" stroke-width="0.16">2</text>
<text x="386.00" y="641.00" font-size="6.2" text-anchor="middle" fill="#333"  stroke="#333" stroke-width="0.16">1</text>
<text x="405.32" y="641.00" font-size="6.2" text-anchor="middle" fill="#333"  stroke="#333" stroke-width="0.16">0</text>
<rect x="0.5" y="0.5" width="519" height="648" fill="none" stroke="#555" stroke-width="1.2"/>
</svg>
</body></html>
